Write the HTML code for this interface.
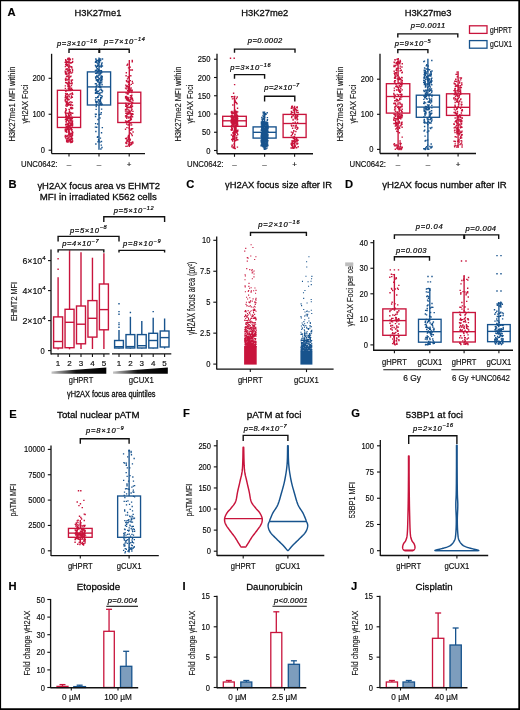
<!DOCTYPE html>
<html><head><meta charset="utf-8"><title>Figure</title>
<style>html,body{margin:0;padding:0;background:#fff;width:520px;height:710px;overflow:hidden}svg{display:block}text{filter:grayscale(1);stroke:#000;stroke-width:0.16px}text[font-style=italic]{stroke-width:0.22px}.tt{stroke-width:0.28px}.yl{fill:#1a1a1a;stroke:#1a1a1a;stroke-width:0.15px}</style>
</head><body>
<svg width="520" height="710" viewBox="0 0 520 710" font-family='"Liberation Sans", sans-serif' fill="#111111">
<rect x="0" y="0" width="520" height="710" fill="#fff"/>
<text x="7.4" y="15.8" font-size="11.2" font-weight="bold" fill="#000">A</text>
<text x="8.6" y="188" font-size="11.2" font-weight="bold" fill="#000">B</text>
<text x="186.2" y="188" font-size="11.2" font-weight="bold" fill="#000">C</text>
<text x="345" y="188" font-size="11.2" font-weight="bold" fill="#000">D</text>
<text x="9.3" y="417.6" font-size="11.2" font-weight="bold" fill="#000">E</text>
<text x="183" y="416.6" font-size="11.2" font-weight="bold" fill="#000">F</text>
<text x="351.2" y="416.6" font-size="11.2" font-weight="bold" fill="#000">G</text>
<text x="8.5" y="590.3" font-size="11.2" font-weight="bold" fill="#000">H</text>
<text x="182.6" y="590.3" font-size="11.2" font-weight="bold" fill="#000">I</text>
<text x="351" y="590.3" font-size="11.2" font-weight="bold" fill="#000">J</text>
<text x="97.9" y="16.4" font-size="9.4" text-anchor="middle" class="tt">H3K27me1</text>
<text x="264.8" y="16.4" font-size="9.4" text-anchor="middle" class="tt">H3K27me2</text>
<text x="428.1" y="16.4" font-size="9.4" text-anchor="middle" class="tt">H3K27me3</text>
<rect x="469.5" y="25.8" width="17.5" height="7.6" stroke="#c8143c" stroke-width="1.3" fill="none"/>
<rect x="469.5" y="40.6" width="17.5" height="7.6" stroke="#17538d" stroke-width="1.3" fill="none"/>
<text x="490" y="32.6" font-size="8.2" textLength="22" lengthAdjust="spacingAndGlyphs">gHPRT</text>
<text x="490" y="47.4" font-size="8.2" textLength="22" lengthAdjust="spacingAndGlyphs">gCUX1</text>
<line x1="51.6" y1="53.8" x2="51.6" y2="153.6" stroke="#111111" stroke-width="1.3"/>
<line x1="48.6" y1="150.2" x2="51.6" y2="150.2" stroke="#111111" stroke-width="1.1"/>
<text x="45" y="153.2" font-size="8.2" text-anchor="end" textLength="4.2" lengthAdjust="spacingAndGlyphs">0</text>
<line x1="48.6" y1="114.25" x2="51.6" y2="114.25" stroke="#111111" stroke-width="1.1"/>
<text x="45" y="117.25" font-size="8.2" text-anchor="end" textLength="12.59" lengthAdjust="spacingAndGlyphs">100</text>
<line x1="48.6" y1="78.3" x2="51.6" y2="78.3" stroke="#111111" stroke-width="1.1"/>
<text x="45" y="81.3" font-size="8.2" text-anchor="end" textLength="12.59" lengthAdjust="spacingAndGlyphs">200</text>
<line x1="51.6" y1="153.6" x2="145" y2="153.6" stroke="#111111" stroke-width="1.4"/>
<line x1="69" y1="153.6" x2="69" y2="156.6" stroke="#111111" stroke-width="1.1"/>
<line x1="99" y1="153.6" x2="99" y2="156.6" stroke="#111111" stroke-width="1.1"/>
<line x1="129.2" y1="153.6" x2="129.2" y2="156.6" stroke="#111111" stroke-width="1.1"/>
<text x="15.47" y="104" font-size="9.37" text-anchor="middle" textLength="75" lengthAdjust="spacingAndGlyphs" transform="rotate(-90 15.47 104)" class="yl">H3K27me1 MFI within</text>
<text x="28.17" y="104.2" font-size="9.37" text-anchor="middle" textLength="38.8" lengthAdjust="spacingAndGlyphs" transform="rotate(-90 28.17 104.2)" class="yl">γH2AX Foci</text>
<text x="21" y="166.9" font-size="8.9" textLength="36.4" lengthAdjust="spacingAndGlyphs">UNC0642:</text>
<text x="69" y="167.2" font-size="8" text-anchor="middle">–</text>
<text x="99" y="167.2" font-size="8" text-anchor="middle">–</text>
<text x="129.2" y="167.2" font-size="8" text-anchor="middle">+</text>
<path d="M66.96 61.7h1.4v1.4h-1.4zM69.45 59.15h1.4v1.4h-1.4zM68.57 68.68h1.4v1.4h-1.4zM64.94 73.29h1.4v1.4h-1.4zM64.78 70.89h1.4v1.4h-1.4zM65.03 59.75h1.4v1.4h-1.4zM67.73 83.67h1.4v1.4h-1.4zM65.44 64.06h1.4v1.4h-1.4zM69.27 87.6h1.4v1.4h-1.4zM68.89 69.69h1.4v1.4h-1.4zM71.92 58.31h1.4v1.4h-1.4zM71.02 66.21h1.4v1.4h-1.4zM65.6 60.63h1.4v1.4h-1.4zM66.84 83.32h1.4v1.4h-1.4zM65.87 75.7h1.4v1.4h-1.4zM69.36 68.9h1.4v1.4h-1.4zM68.66 58.84h1.4v1.4h-1.4zM64.95 63.49h1.4v1.4h-1.4zM69.67 70.7h1.4v1.4h-1.4zM66.89 75.83h1.4v1.4h-1.4zM67.94 66.54h1.4v1.4h-1.4zM70.54 79.52h1.4v1.4h-1.4zM66.36 75.47h1.4v1.4h-1.4zM68.49 85.24h1.4v1.4h-1.4zM70.04 66.16h1.4v1.4h-1.4zM71.95 60.64h1.4v1.4h-1.4zM67.68 81.41h1.4v1.4h-1.4zM65.66 72.69h1.4v1.4h-1.4zM64.8 78.52h1.4v1.4h-1.4zM70.31 75.42h1.4v1.4h-1.4zM71.15 67h1.4v1.4h-1.4zM69.78 76.12h1.4v1.4h-1.4zM68.91 71.63h1.4v1.4h-1.4zM70.88 87.5h1.4v1.4h-1.4zM68.1 78.38h1.4v1.4h-1.4zM64.96 79.6h1.4v1.4h-1.4zM69.42 89.08h1.4v1.4h-1.4zM70.75 66.05h1.4v1.4h-1.4zM67.43 78.53h1.4v1.4h-1.4zM64.67 71.81h1.4v1.4h-1.4zM65.78 60.61h1.4v1.4h-1.4zM64.95 81.77h1.4v1.4h-1.4zM65.48 64.85h1.4v1.4h-1.4zM67.47 85.12h1.4v1.4h-1.4zM65.11 71.4h1.4v1.4h-1.4zM68.68 85.51h1.4v1.4h-1.4zM70.73 84.88h1.4v1.4h-1.4zM66.62 70.3h1.4v1.4h-1.4zM67.23 85.54h1.4v1.4h-1.4zM71.78 61.7h1.4v1.4h-1.4zM65.84 64.34h1.4v1.4h-1.4zM66.27 72.56h1.4v1.4h-1.4zM68.98 65.34h1.4v1.4h-1.4zM64.53 70.42h1.4v1.4h-1.4zM67.31 75.21h1.4v1.4h-1.4zM71.74 79.24h1.4v1.4h-1.4zM68.42 76.87h1.4v1.4h-1.4zM69.64 58.55h1.4v1.4h-1.4zM71.34 82.15h1.4v1.4h-1.4zM71.15 82.73h1.4v1.4h-1.4zM67.48 69.77h1.4v1.4h-1.4zM65.29 77.41h1.4v1.4h-1.4zM64.97 58.99h1.4v1.4h-1.4zM66.09 62.07h1.4v1.4h-1.4zM67.08 58.51h1.4v1.4h-1.4zM64.5 61.72h1.4v1.4h-1.4zM65.27 68.62h1.4v1.4h-1.4zM64.69 85.22h1.4v1.4h-1.4zM69.17 61.63h1.4v1.4h-1.4zM66.42 68.09h1.4v1.4h-1.4zM67.27 60.79h1.4v1.4h-1.4zM70.95 89.08h1.4v1.4h-1.4zM68.04 72.52h1.4v1.4h-1.4zM65.15 60.12h1.4v1.4h-1.4zM67.1 65.4h1.4v1.4h-1.4zM70.8 62.05h1.4v1.4h-1.4zM64.68 87.71h1.4v1.4h-1.4zM68.51 61.56h1.4v1.4h-1.4zM68.63 57.68h1.4v1.4h-1.4zM68.51 88.6h1.4v1.4h-1.4zM71.06 79.43h1.4v1.4h-1.4zM66.48 68.72h1.4v1.4h-1.4zM65.77 81.89h1.4v1.4h-1.4zM68.55 82.12h1.4v1.4h-1.4zM67.01 64.05h1.4v1.4h-1.4zM70.67 88.81h1.4v1.4h-1.4zM70.98 83h1.4v1.4h-1.4zM70.72 80.85h1.4v1.4h-1.4zM66.22 73.62h1.4v1.4h-1.4zM67.2 57.74h1.4v1.4h-1.4zM64.71 65.88h1.4v1.4h-1.4zM66.47 79.31h1.4v1.4h-1.4zM71.77 71.33h1.4v1.4h-1.4zM71.62 88.91h1.4v1.4h-1.4zM71.76 68.65h1.4v1.4h-1.4zM66.18 64.17h1.4v1.4h-1.4zM65.99 63.44h1.4v1.4h-1.4zM69.24 86.06h1.4v1.4h-1.4zM70.89 72.38h1.4v1.4h-1.4zM69.46 82.79h1.4v1.4h-1.4zM65.14 78.27h1.4v1.4h-1.4zM71.41 82.22h1.4v1.4h-1.4zM70.2 72.34h1.4v1.4h-1.4zM65.86 82.45h1.4v1.4h-1.4zM67.03 82.83h1.4v1.4h-1.4zM71.88 69.66h1.4v1.4h-1.4zM67.55 87.57h1.4v1.4h-1.4zM70.01 62.33h1.4v1.4h-1.4zM65.47 61.71h1.4v1.4h-1.4zM71.38 83.01h1.4v1.4h-1.4zM65.61 112.44h1.4v1.4h-1.4zM71.95 107.7h1.4v1.4h-1.4zM67.16 104.66h1.4v1.4h-1.4zM65.5 89.7h1.4v1.4h-1.4zM71.88 107.49h1.4v1.4h-1.4zM68.5 115.44h1.4v1.4h-1.4zM67.8 113.71h1.4v1.4h-1.4zM70.78 95.21h1.4v1.4h-1.4zM66.41 97.5h1.4v1.4h-1.4zM66.33 105.72h1.4v1.4h-1.4zM66.47 101.03h1.4v1.4h-1.4zM65.5 114.78h1.4v1.4h-1.4zM67.19 102.13h1.4v1.4h-1.4zM68.93 114.62h1.4v1.4h-1.4zM67.7 115h1.4v1.4h-1.4zM68.31 104.19h1.4v1.4h-1.4zM68.48 89.82h1.4v1.4h-1.4zM67.84 94.43h1.4v1.4h-1.4zM64.53 111.68h1.4v1.4h-1.4zM65.81 102.56h1.4v1.4h-1.4zM70.01 104.88h1.4v1.4h-1.4zM66.98 103.81h1.4v1.4h-1.4zM68.72 111.26h1.4v1.4h-1.4zM65.31 104.99h1.4v1.4h-1.4zM66.39 97.05h1.4v1.4h-1.4zM70.37 103.52h1.4v1.4h-1.4zM68.77 110.58h1.4v1.4h-1.4zM71.43 101.71h1.4v1.4h-1.4zM69.16 103.46h1.4v1.4h-1.4zM68.39 108.7h1.4v1.4h-1.4zM67.94 104.23h1.4v1.4h-1.4zM68.13 115.66h1.4v1.4h-1.4zM69.81 113.84h1.4v1.4h-1.4zM71.66 96.57h1.4v1.4h-1.4zM68.75 115.71h1.4v1.4h-1.4zM70.88 93.14h1.4v1.4h-1.4zM65.42 101.68h1.4v1.4h-1.4zM65.05 96.04h1.4v1.4h-1.4zM65.06 108.05h1.4v1.4h-1.4zM70.46 114.42h1.4v1.4h-1.4zM65.67 109.35h1.4v1.4h-1.4zM69.52 93.3h1.4v1.4h-1.4zM71.21 116.39h1.4v1.4h-1.4zM66.17 115.97h1.4v1.4h-1.4zM67.53 102.94h1.4v1.4h-1.4zM72.02 112.61h1.4v1.4h-1.4zM65.73 101.38h1.4v1.4h-1.4zM68.42 98.8h1.4v1.4h-1.4zM65.99 98.22h1.4v1.4h-1.4zM69.99 89.85h1.4v1.4h-1.4zM68.71 101.63h1.4v1.4h-1.4zM64.64 98.58h1.4v1.4h-1.4zM69.24 103.64h1.4v1.4h-1.4zM64.99 116.88h1.4v1.4h-1.4zM70.49 116.51h1.4v1.4h-1.4zM65.3 96.74h1.4v1.4h-1.4zM64.8 111.11h1.4v1.4h-1.4zM66.56 92.93h1.4v1.4h-1.4zM67.71 114.82h1.4v1.4h-1.4zM70.72 96.54h1.4v1.4h-1.4zM65.64 115.04h1.4v1.4h-1.4zM68.84 108.91h1.4v1.4h-1.4zM65.18 90.91h1.4v1.4h-1.4zM69.73 101.21h1.4v1.4h-1.4zM65.05 115.57h1.4v1.4h-1.4zM69.32 111.75h1.4v1.4h-1.4zM65.14 113.27h1.4v1.4h-1.4zM65.01 113.46h1.4v1.4h-1.4zM67.95 98.8h1.4v1.4h-1.4zM68.7 115.25h1.4v1.4h-1.4zM66.54 92.92h1.4v1.4h-1.4zM68.5 95.98h1.4v1.4h-1.4zM65.33 93.82h1.4v1.4h-1.4zM64.88 94.95h1.4v1.4h-1.4zM66.87 97.84h1.4v1.4h-1.4zM70.27 97.42h1.4v1.4h-1.4zM68.3 94.28h1.4v1.4h-1.4zM67.14 89.81h1.4v1.4h-1.4zM66.4 89.73h1.4v1.4h-1.4zM70.07 104.73h1.4v1.4h-1.4zM65.94 102.59h1.4v1.4h-1.4zM71.6 92.28h1.4v1.4h-1.4zM70.72 101.4h1.4v1.4h-1.4zM68.26 112.67h1.4v1.4h-1.4zM67.49 103.49h1.4v1.4h-1.4zM69.73 116.81h1.4v1.4h-1.4zM67.1 112.6h1.4v1.4h-1.4zM69.87 107.11h1.4v1.4h-1.4zM67.58 99.03h1.4v1.4h-1.4zM64.91 92.93h1.4v1.4h-1.4zM65.04 110.04h1.4v1.4h-1.4zM66.44 93.87h1.4v1.4h-1.4zM65.14 112.86h1.4v1.4h-1.4zM71.12 108.08h1.4v1.4h-1.4zM66.64 96.08h1.4v1.4h-1.4zM66.73 102.16h1.4v1.4h-1.4zM65.7 101.78h1.4v1.4h-1.4zM66.5 116.23h1.4v1.4h-1.4zM71.89 104.62h1.4v1.4h-1.4zM66.36 116.34h1.4v1.4h-1.4zM66.85 99.28h1.4v1.4h-1.4zM64.51 99.99h1.4v1.4h-1.4zM68.11 103.38h1.4v1.4h-1.4zM66.03 103.43h1.4v1.4h-1.4zM64.54 96.7h1.4v1.4h-1.4zM65.18 100.49h1.4v1.4h-1.4zM64.82 89.93h1.4v1.4h-1.4zM66.81 95.82h1.4v1.4h-1.4zM68.95 104.12h1.4v1.4h-1.4zM70.2 107.71h1.4v1.4h-1.4zM69.94 113.91h1.4v1.4h-1.4zM67.46 98.43h1.4v1.4h-1.4zM71.98 93.48h1.4v1.4h-1.4zM70 107.31h1.4v1.4h-1.4zM64.83 112.69h1.4v1.4h-1.4zM71.28 106.87h1.4v1.4h-1.4zM70.08 112.04h1.4v1.4h-1.4zM65.56 103.97h1.4v1.4h-1.4zM68.33 112.68h1.4v1.4h-1.4zM70.62 112.44h1.4v1.4h-1.4zM68.94 139.17h1.4v1.4h-1.4zM69.69 134.29h1.4v1.4h-1.4zM66.25 118.06h1.4v1.4h-1.4zM65.51 126.14h1.4v1.4h-1.4zM65.3 137.78h1.4v1.4h-1.4zM68.74 132.68h1.4v1.4h-1.4zM69.26 133.98h1.4v1.4h-1.4zM68.22 117.38h1.4v1.4h-1.4zM70.56 135.63h1.4v1.4h-1.4zM68.32 130.41h1.4v1.4h-1.4zM69.51 118.92h1.4v1.4h-1.4zM70.1 123.48h1.4v1.4h-1.4zM65.07 123.81h1.4v1.4h-1.4zM70.04 122.33h1.4v1.4h-1.4zM70.12 141.21h1.4v1.4h-1.4zM68.25 126.67h1.4v1.4h-1.4zM68.14 134.05h1.4v1.4h-1.4zM70.33 132.42h1.4v1.4h-1.4zM69.38 119.2h1.4v1.4h-1.4zM65.62 123.52h1.4v1.4h-1.4zM70.15 124.76h1.4v1.4h-1.4zM68.81 117.61h1.4v1.4h-1.4zM64.96 123.88h1.4v1.4h-1.4zM69.61 134.26h1.4v1.4h-1.4zM69.64 124.43h1.4v1.4h-1.4zM68.43 128.68h1.4v1.4h-1.4zM68.04 120.2h1.4v1.4h-1.4zM71.29 122.18h1.4v1.4h-1.4zM71.93 140.24h1.4v1.4h-1.4zM64.63 128.54h1.4v1.4h-1.4zM70.73 141.02h1.4v1.4h-1.4zM67.92 123.88h1.4v1.4h-1.4zM66.09 140.47h1.4v1.4h-1.4zM66.1 131.55h1.4v1.4h-1.4zM65.58 130.14h1.4v1.4h-1.4zM71.74 120.55h1.4v1.4h-1.4zM70.73 129.76h1.4v1.4h-1.4zM71.24 134.53h1.4v1.4h-1.4zM66.26 139.29h1.4v1.4h-1.4zM68.19 117.91h1.4v1.4h-1.4zM64.53 129.35h1.4v1.4h-1.4zM67.93 124.7h1.4v1.4h-1.4zM65.57 125.73h1.4v1.4h-1.4zM66.9 137.89h1.4v1.4h-1.4zM64.51 135.69h1.4v1.4h-1.4zM70.88 120.24h1.4v1.4h-1.4zM71.54 134.77h1.4v1.4h-1.4zM71.35 124.4h1.4v1.4h-1.4zM67.33 126.93h1.4v1.4h-1.4zM72.09 131.73h1.4v1.4h-1.4zM67.24 127.79h1.4v1.4h-1.4zM66.59 118.48h1.4v1.4h-1.4zM65.27 137.75h1.4v1.4h-1.4zM66.67 140.22h1.4v1.4h-1.4zM66.39 123.81h1.4v1.4h-1.4zM68.38 121.95h1.4v1.4h-1.4zM67.34 140.73h1.4v1.4h-1.4zM71.22 137.19h1.4v1.4h-1.4zM69.29 139.68h1.4v1.4h-1.4zM71.65 130.76h1.4v1.4h-1.4zM69.97 118.51h1.4v1.4h-1.4zM70.07 128.35h1.4v1.4h-1.4zM70.22 133.09h1.4v1.4h-1.4zM66.68 118.5h1.4v1.4h-1.4zM71.54 120.42h1.4v1.4h-1.4zM68.09 125.72h1.4v1.4h-1.4zM66.76 135.41h1.4v1.4h-1.4zM71.92 123.67h1.4v1.4h-1.4zM69.49 124.67h1.4v1.4h-1.4zM68.74 126.96h1.4v1.4h-1.4zM65.77 121.26h1.4v1.4h-1.4zM66.08 139.5h1.4v1.4h-1.4zM68.28 122.69h1.4v1.4h-1.4zM71.39 141.71h1.4v1.4h-1.4zM67.92 120.72h1.4v1.4h-1.4zM65.96 119.52h1.4v1.4h-1.4zM67.1 119.53h1.4v1.4h-1.4zM66.32 123.63h1.4v1.4h-1.4zM68.83 139.04h1.4v1.4h-1.4zM70.2 127.41h1.4v1.4h-1.4zM67.65 130.14h1.4v1.4h-1.4zM67.36 125.59h1.4v1.4h-1.4zM64.97 124.1h1.4v1.4h-1.4zM71.85 120.38h1.4v1.4h-1.4zM68.33 132.73h1.4v1.4h-1.4zM71.06 122.59h1.4v1.4h-1.4zM66.56 123.39h1.4v1.4h-1.4zM67.54 128.22h1.4v1.4h-1.4zM71.75 138.09h1.4v1.4h-1.4zM71.13 117.83h1.4v1.4h-1.4zM64.75 134.68h1.4v1.4h-1.4zM71.31 128.9h1.4v1.4h-1.4zM68.96 117.3h1.4v1.4h-1.4zM67.48 140.01h1.4v1.4h-1.4zM70.77 138.26h1.4v1.4h-1.4zM71.89 123.39h1.4v1.4h-1.4zM65.33 121.08h1.4v1.4h-1.4zM68.47 134.01h1.4v1.4h-1.4zM71.66 134.98h1.4v1.4h-1.4zM69.42 136.04h1.4v1.4h-1.4zM67.98 130.81h1.4v1.4h-1.4zM64.8 136.47h1.4v1.4h-1.4zM66.27 139.84h1.4v1.4h-1.4zM69.41 124.74h1.4v1.4h-1.4zM65.47 123.47h1.4v1.4h-1.4zM69.34 134.42h1.4v1.4h-1.4zM65.35 119.02h1.4v1.4h-1.4zM68.49 131.58h1.4v1.4h-1.4zM67.45 122.78h1.4v1.4h-1.4zM69.07 117.56h1.4v1.4h-1.4zM66.79 128.59h1.4v1.4h-1.4zM71.79 133.09h1.4v1.4h-1.4zM71.22 128.94h1.4v1.4h-1.4zM66.28 123.35h1.4v1.4h-1.4zM71.8 134.56h1.4v1.4h-1.4zM66.84 117.83h1.4v1.4h-1.4zM68.29 133.82h1.4v1.4h-1.4zM67.69 123.6h1.4v1.4h-1.4zM69.57 139.97h1.4v1.4h-1.4zM66.22 118.14h1.4v1.4h-1.4zM67.07 127.6h1.4v1.4h-1.4zM69.69 122.15h1.4v1.4h-1.4zM70.56 135.41h1.4v1.4h-1.4zM68.34 122.33h1.4v1.4h-1.4zM71.87 124.94h1.4v1.4h-1.4zM70.73 122.95h1.4v1.4h-1.4zM66.18 135.93h1.4v1.4h-1.4zM66.74 140.62h1.4v1.4h-1.4zM68.27 121.89h1.4v1.4h-1.4zM66.2 127.52h1.4v1.4h-1.4zM69.56 140.54h1.4v1.4h-1.4zM65.61 126.94h1.4v1.4h-1.4zM66.12 141.17h1.4v1.4h-1.4zM65.58 118.57h1.4v1.4h-1.4zM64.96 126.94h1.4v1.4h-1.4zM71.33 138.95h1.4v1.4h-1.4zM70.07 141.74h1.4v1.4h-1.4zM71.58 125.37h1.4v1.4h-1.4zM65.91 140.23h1.4v1.4h-1.4zM70.17 118.08h1.4v1.4h-1.4zM69.55 126.58h1.4v1.4h-1.4zM67.34 125.43h1.4v1.4h-1.4zM65.79 117.37h1.4v1.4h-1.4zM66.63 125.91h1.4v1.4h-1.4zM71.76 120.33h1.4v1.4h-1.4zM71.83 122.38h1.4v1.4h-1.4zM67.21 137.43h1.4v1.4h-1.4zM70.75 127.9h1.4v1.4h-1.4zM64.87 128.9h1.4v1.4h-1.4zM67.33 139.83h1.4v1.4h-1.4zM65.97 126.22h1.4v1.4h-1.4zM71.32 118.04h1.4v1.4h-1.4zM67.62 137.19h1.4v1.4h-1.4zM70.33 118.3h1.4v1.4h-1.4zM64.76 118.83h1.4v1.4h-1.4zM71.49 123.6h1.4v1.4h-1.4zM70.18 139.31h1.4v1.4h-1.4zM67.08 123.97h1.4v1.4h-1.4zM71.78 132.42h1.4v1.4h-1.4zM66.49 134.86h1.4v1.4h-1.4zM66.91 124.05h1.4v1.4h-1.4zM64.53 135.81h1.4v1.4h-1.4zM71.47 132.83h1.4v1.4h-1.4zM71.67 117.89h1.4v1.4h-1.4zM66.28 128.94h1.4v1.4h-1.4zM71.77 140.67h1.4v1.4h-1.4zM67.44 123.45h1.4v1.4h-1.4zM67.77 129.39h1.4v1.4h-1.4zM71.55 121.78h1.4v1.4h-1.4zM70.6 135.39h1.4v1.4h-1.4zM70.75 136.23h1.4v1.4h-1.4zM69.12 125.33h1.4v1.4h-1.4zM66.93 126.17h1.4v1.4h-1.4zM70.45 119.24h1.4v1.4h-1.4zM66 135.75h1.4v1.4h-1.4zM66.38 118.89h1.4v1.4h-1.4zM64.76 130.84h1.4v1.4h-1.4zM66.98 141.32h1.4v1.4h-1.4zM71.21 141.5h1.4v1.4h-1.4zM66.51 119.36h1.4v1.4h-1.4zM65.23 129.51h1.4v1.4h-1.4zM69.89 128.25h1.4v1.4h-1.4zM66.28 127.51h1.4v1.4h-1.4zM69.21 133.82h1.4v1.4h-1.4zM70.18 138.05h1.4v1.4h-1.4zM69.55 120.27h1.4v1.4h-1.4zM70.89 124.5h1.4v1.4h-1.4zM68.81 126.44h1.4v1.4h-1.4zM70.11 122.18h1.4v1.4h-1.4zM66.38 123.31h1.4v1.4h-1.4z" fill="#c8143c"/>
<line x1="69" y1="57.5" x2="69" y2="90.3" stroke="#c8143c" stroke-width="1.35"/>
<line x1="69" y1="127.5" x2="69" y2="142.5" stroke="#c8143c" stroke-width="1.35"/>
<rect x="57.4" y="90.3" width="23.2" height="37.2" stroke="#c8143c" stroke-width="1.35" fill="none"/>
<line x1="57.4" y1="117.3" x2="80.6" y2="117.3" stroke="#c8143c" stroke-width="1.35"/>
<path d="M95.8 69.62h1.4v1.4h-1.4zM98.86 61.53h1.4v1.4h-1.4zM97.55 71.19h1.4v1.4h-1.4zM98.35 60.16h1.4v1.4h-1.4zM100.52 66.27h1.4v1.4h-1.4zM101.83 58.28h1.4v1.4h-1.4zM98.12 68.68h1.4v1.4h-1.4zM100.75 70.06h1.4v1.4h-1.4zM94.99 61.06h1.4v1.4h-1.4zM95.56 59.55h1.4v1.4h-1.4zM101.71 65.26h1.4v1.4h-1.4zM101.4 62.2h1.4v1.4h-1.4zM100.94 63.31h1.4v1.4h-1.4zM96.57 68.08h1.4v1.4h-1.4zM101.51 58.33h1.4v1.4h-1.4zM98.99 65.79h1.4v1.4h-1.4zM96.27 62.15h1.4v1.4h-1.4zM95.72 59.76h1.4v1.4h-1.4zM96.54 65.49h1.4v1.4h-1.4zM99.39 59.75h1.4v1.4h-1.4zM94.78 61.55h1.4v1.4h-1.4zM99.58 59.48h1.4v1.4h-1.4zM96.95 59.75h1.4v1.4h-1.4zM100.43 64.75h1.4v1.4h-1.4zM95.16 58.27h1.4v1.4h-1.4zM97.55 64.78h1.4v1.4h-1.4zM99.3 58.12h1.4v1.4h-1.4zM95.88 66.88h1.4v1.4h-1.4zM97.65 60.91h1.4v1.4h-1.4zM96.91 70.62h1.4v1.4h-1.4zM96.95 65.01h1.4v1.4h-1.4zM97.27 62.84h1.4v1.4h-1.4zM100.92 71.25h1.4v1.4h-1.4zM97.32 59.66h1.4v1.4h-1.4zM99.94 59.75h1.4v1.4h-1.4zM94.74 69.87h1.4v1.4h-1.4zM97.75 68.7h1.4v1.4h-1.4zM97.62 69.6h1.4v1.4h-1.4zM98.02 59.16h1.4v1.4h-1.4zM94.81 64.8h1.4v1.4h-1.4zM99.31 69.99h1.4v1.4h-1.4zM95.34 65.82h1.4v1.4h-1.4zM97.37 64.11h1.4v1.4h-1.4zM95.75 60.91h1.4v1.4h-1.4zM98.45 70.22h1.4v1.4h-1.4zM95.48 87.49h1.4v1.4h-1.4zM100.49 103.21h1.4v1.4h-1.4zM96.12 75.48h1.4v1.4h-1.4zM101.49 103.49h1.4v1.4h-1.4zM98.18 73.06h1.4v1.4h-1.4zM101.37 84.1h1.4v1.4h-1.4zM101.21 91.77h1.4v1.4h-1.4zM100.64 76.59h1.4v1.4h-1.4zM100.36 78.63h1.4v1.4h-1.4zM97.61 99.23h1.4v1.4h-1.4zM100.67 77.34h1.4v1.4h-1.4zM96.27 84.49h1.4v1.4h-1.4zM98.43 83.96h1.4v1.4h-1.4zM95.59 79.45h1.4v1.4h-1.4zM99.92 100.91h1.4v1.4h-1.4zM95 89.86h1.4v1.4h-1.4zM100.15 72.56h1.4v1.4h-1.4zM100.74 75.19h1.4v1.4h-1.4zM99.02 89.45h1.4v1.4h-1.4zM99.21 81.41h1.4v1.4h-1.4zM97.72 90.53h1.4v1.4h-1.4zM97.77 93.04h1.4v1.4h-1.4zM97.92 85.77h1.4v1.4h-1.4zM94.87 91.72h1.4v1.4h-1.4zM98.22 79.06h1.4v1.4h-1.4zM100.2 97.04h1.4v1.4h-1.4zM98 77.23h1.4v1.4h-1.4zM98.11 74.83h1.4v1.4h-1.4zM95.62 85.51h1.4v1.4h-1.4zM95.36 85.88h1.4v1.4h-1.4zM98.37 72.65h1.4v1.4h-1.4zM99.28 74.01h1.4v1.4h-1.4zM99.98 96.96h1.4v1.4h-1.4zM98.38 73.09h1.4v1.4h-1.4zM98.33 83.77h1.4v1.4h-1.4zM101.55 75.79h1.4v1.4h-1.4zM100.87 104.17h1.4v1.4h-1.4zM99.97 98.19h1.4v1.4h-1.4zM96.09 103.7h1.4v1.4h-1.4zM98.24 102.87h1.4v1.4h-1.4zM101.3 76.75h1.4v1.4h-1.4zM100.38 102.01h1.4v1.4h-1.4zM95.17 82.88h1.4v1.4h-1.4zM100.14 76.54h1.4v1.4h-1.4zM101.16 80.37h1.4v1.4h-1.4zM100.57 76.04h1.4v1.4h-1.4zM98.32 101.66h1.4v1.4h-1.4zM96.2 79.97h1.4v1.4h-1.4zM98.34 81.83h1.4v1.4h-1.4zM94.97 77.31h1.4v1.4h-1.4zM95.86 102.2h1.4v1.4h-1.4zM99.59 100.85h1.4v1.4h-1.4zM95.91 97.2h1.4v1.4h-1.4zM95.53 88.81h1.4v1.4h-1.4zM99.28 83.17h1.4v1.4h-1.4zM100.99 89.62h1.4v1.4h-1.4zM98.88 100.42h1.4v1.4h-1.4zM95.45 104.07h1.4v1.4h-1.4zM99.23 84.31h1.4v1.4h-1.4zM100.44 80.04h1.4v1.4h-1.4zM101.83 90.35h1.4v1.4h-1.4zM97.29 96.53h1.4v1.4h-1.4zM97.88 77.13h1.4v1.4h-1.4zM100.05 72.89h1.4v1.4h-1.4zM100.6 79.67h1.4v1.4h-1.4zM99.3 103.77h1.4v1.4h-1.4zM98.92 93.2h1.4v1.4h-1.4zM96.95 71.36h1.4v1.4h-1.4zM94.94 76.23h1.4v1.4h-1.4zM99.14 85.56h1.4v1.4h-1.4zM98.39 100.85h1.4v1.4h-1.4zM95.65 78.8h1.4v1.4h-1.4zM99.4 72.04h1.4v1.4h-1.4zM94.72 83.01h1.4v1.4h-1.4zM95.47 83.09h1.4v1.4h-1.4zM96.31 90.56h1.4v1.4h-1.4zM98.94 78.04h1.4v1.4h-1.4zM99.19 86.97h1.4v1.4h-1.4zM95.67 102.21h1.4v1.4h-1.4zM96.45 76.23h1.4v1.4h-1.4zM95.39 92.36h1.4v1.4h-1.4zM100.97 97.11h1.4v1.4h-1.4zM97.59 80.02h1.4v1.4h-1.4zM94.78 92.58h1.4v1.4h-1.4zM98.75 82.86h1.4v1.4h-1.4zM99.35 85.94h1.4v1.4h-1.4zM101.45 95.51h1.4v1.4h-1.4zM96.49 101.12h1.4v1.4h-1.4zM95.02 88.84h1.4v1.4h-1.4zM97.62 79.14h1.4v1.4h-1.4zM95.12 97h1.4v1.4h-1.4zM94.79 89.48h1.4v1.4h-1.4zM101.47 75.99h1.4v1.4h-1.4zM96.14 91.37h1.4v1.4h-1.4zM98.35 92.47h1.4v1.4h-1.4zM100.56 77.06h1.4v1.4h-1.4zM96.93 81.21h1.4v1.4h-1.4zM95.05 100.65h1.4v1.4h-1.4zM100.34 94.91h1.4v1.4h-1.4zM94.75 99.17h1.4v1.4h-1.4zM100.07 86.65h1.4v1.4h-1.4zM100.04 86.23h1.4v1.4h-1.4zM96.33 74.77h1.4v1.4h-1.4zM96.37 72.58h1.4v1.4h-1.4zM97.12 96.04h1.4v1.4h-1.4zM99.7 99.2h1.4v1.4h-1.4zM99.82 80.08h1.4v1.4h-1.4zM98.69 85.69h1.4v1.4h-1.4zM100.38 88.57h1.4v1.4h-1.4zM96.61 92.49h1.4v1.4h-1.4zM101.65 78.46h1.4v1.4h-1.4zM101.04 71.8h1.4v1.4h-1.4zM96.57 79.09h1.4v1.4h-1.4zM100.06 102.48h1.4v1.4h-1.4zM100.07 82.09h1.4v1.4h-1.4zM101.04 82.14h1.4v1.4h-1.4zM96.42 101.25h1.4v1.4h-1.4zM99.24 94.16h1.4v1.4h-1.4zM99.49 103.61h1.4v1.4h-1.4zM98.08 99.01h1.4v1.4h-1.4zM99.72 99.6h1.4v1.4h-1.4zM97.85 95.21h1.4v1.4h-1.4zM98.81 81.46h1.4v1.4h-1.4zM96.23 91.85h1.4v1.4h-1.4zM95.26 101.36h1.4v1.4h-1.4zM95.74 72.19h1.4v1.4h-1.4zM95.47 101.96h1.4v1.4h-1.4zM97.18 75.98h1.4v1.4h-1.4zM94.91 72.67h1.4v1.4h-1.4zM99.69 92.22h1.4v1.4h-1.4zM99.72 137.46h1.4v1.4h-1.4zM95.17 130.87h1.4v1.4h-1.4zM97.32 141.09h1.4v1.4h-1.4zM100.6 144.41h1.4v1.4h-1.4zM95.17 143.35h1.4v1.4h-1.4zM101.28 146.79h1.4v1.4h-1.4zM95.47 113.56h1.4v1.4h-1.4zM95.51 105.85h1.4v1.4h-1.4zM100.8 140.84h1.4v1.4h-1.4zM99.27 141.43h1.4v1.4h-1.4zM99.25 117.23h1.4v1.4h-1.4zM95.42 108.7h1.4v1.4h-1.4zM100.15 113.52h1.4v1.4h-1.4zM97 123.37h1.4v1.4h-1.4zM94.85 115.85h1.4v1.4h-1.4zM96.73 136.51h1.4v1.4h-1.4zM97.35 118.74h1.4v1.4h-1.4zM101.64 126.97h1.4v1.4h-1.4zM100.83 132.12h1.4v1.4h-1.4zM94.92 122.88h1.4v1.4h-1.4zM97.84 139.09h1.4v1.4h-1.4zM97.2 136.01h1.4v1.4h-1.4zM98.57 114.05h1.4v1.4h-1.4zM100.91 108.39h1.4v1.4h-1.4zM100.6 111.97h1.4v1.4h-1.4zM94.71 113.39h1.4v1.4h-1.4zM100.19 148.3h1.4v1.4h-1.4zM94.73 126.39h1.4v1.4h-1.4zM98.24 140.15h1.4v1.4h-1.4zM96.03 126.56h1.4v1.4h-1.4z" fill="#17538d"/>
<line x1="99" y1="57.5" x2="99" y2="71.9" stroke="#17538d" stroke-width="1.35"/>
<line x1="99" y1="105" x2="99" y2="149.8" stroke="#17538d" stroke-width="1.35"/>
<rect x="87.4" y="71.9" width="23.2" height="33.1" stroke="#17538d" stroke-width="1.35" fill="none"/>
<line x1="87.4" y1="86.9" x2="110.6" y2="86.9" stroke="#17538d" stroke-width="1.35"/>
<path d="M127.44 75.94h1.4v1.4h-1.4zM126.78 78.18h1.4v1.4h-1.4zM126.96 63.59h1.4v1.4h-1.4zM130.12 69.27h1.4v1.4h-1.4zM125.64 72.03h1.4v1.4h-1.4zM125.41 75.06h1.4v1.4h-1.4zM130.1 75.04h1.4v1.4h-1.4zM129.57 66.41h1.4v1.4h-1.4zM127.85 67.19h1.4v1.4h-1.4zM131.57 61.02h1.4v1.4h-1.4zM131.55 59.8h1.4v1.4h-1.4zM126.37 64.56h1.4v1.4h-1.4zM131.65 69.32h1.4v1.4h-1.4zM127.68 76.98h1.4v1.4h-1.4zM126.58 99.12h1.4v1.4h-1.4zM128.84 111.74h1.4v1.4h-1.4zM130.52 107.09h1.4v1.4h-1.4zM127.45 93.35h1.4v1.4h-1.4zM125.98 115.55h1.4v1.4h-1.4zM129.83 111.21h1.4v1.4h-1.4zM126.09 98.17h1.4v1.4h-1.4zM130.68 104.2h1.4v1.4h-1.4zM125.76 99.17h1.4v1.4h-1.4zM131.53 89.53h1.4v1.4h-1.4zM126.26 92.26h1.4v1.4h-1.4zM130.14 115.58h1.4v1.4h-1.4zM125.97 86.01h1.4v1.4h-1.4zM126.68 93.34h1.4v1.4h-1.4zM128.77 86.22h1.4v1.4h-1.4zM127.29 87.44h1.4v1.4h-1.4zM132.21 110.64h1.4v1.4h-1.4zM125.57 120.68h1.4v1.4h-1.4zM125.57 95.82h1.4v1.4h-1.4zM132.28 113.48h1.4v1.4h-1.4zM130.37 98h1.4v1.4h-1.4zM126.29 106.73h1.4v1.4h-1.4zM125.61 88.18h1.4v1.4h-1.4zM127.75 80.76h1.4v1.4h-1.4zM127.83 113.31h1.4v1.4h-1.4zM130.07 100.82h1.4v1.4h-1.4zM129.61 99.22h1.4v1.4h-1.4zM125.88 105.26h1.4v1.4h-1.4zM127.88 111.16h1.4v1.4h-1.4zM131.7 97.79h1.4v1.4h-1.4zM129.16 111.51h1.4v1.4h-1.4zM128 89.13h1.4v1.4h-1.4zM130.29 117.14h1.4v1.4h-1.4zM130.68 109.4h1.4v1.4h-1.4zM131.28 108.52h1.4v1.4h-1.4zM129.68 98.82h1.4v1.4h-1.4zM127.18 106.32h1.4v1.4h-1.4zM125.54 97.34h1.4v1.4h-1.4zM130.75 109.97h1.4v1.4h-1.4zM129.59 90.05h1.4v1.4h-1.4zM128.02 98.87h1.4v1.4h-1.4zM129.52 96.9h1.4v1.4h-1.4zM129.93 119.3h1.4v1.4h-1.4zM126.19 107.44h1.4v1.4h-1.4zM130.71 96.01h1.4v1.4h-1.4zM128.52 121.21h1.4v1.4h-1.4zM125.09 102.66h1.4v1.4h-1.4zM126.02 112.92h1.4v1.4h-1.4zM131.95 101.63h1.4v1.4h-1.4zM125.57 104.01h1.4v1.4h-1.4zM128.91 110.14h1.4v1.4h-1.4zM128.69 106.79h1.4v1.4h-1.4zM131.1 101.73h1.4v1.4h-1.4zM127.92 120.06h1.4v1.4h-1.4zM126.4 108.73h1.4v1.4h-1.4zM127.78 112.1h1.4v1.4h-1.4zM125.73 121.63h1.4v1.4h-1.4zM127.5 81.73h1.4v1.4h-1.4zM126.89 96.49h1.4v1.4h-1.4zM124.9 97.3h1.4v1.4h-1.4zM128 109.32h1.4v1.4h-1.4zM127.48 90.7h1.4v1.4h-1.4zM126.51 111.18h1.4v1.4h-1.4zM131.94 101.96h1.4v1.4h-1.4zM126.46 113.76h1.4v1.4h-1.4zM127.78 88.42h1.4v1.4h-1.4zM125.78 112.69h1.4v1.4h-1.4zM130.95 106.57h1.4v1.4h-1.4zM128.37 103.47h1.4v1.4h-1.4zM126.52 120.75h1.4v1.4h-1.4zM127.48 106.77h1.4v1.4h-1.4zM131.02 114.4h1.4v1.4h-1.4zM128.36 91.96h1.4v1.4h-1.4zM128.97 84.68h1.4v1.4h-1.4zM131.14 94.55h1.4v1.4h-1.4zM131.27 90.8h1.4v1.4h-1.4zM127.66 90.2h1.4v1.4h-1.4zM128.04 87.29h1.4v1.4h-1.4zM124.82 110.34h1.4v1.4h-1.4zM126.94 89.83h1.4v1.4h-1.4zM127.09 99.92h1.4v1.4h-1.4zM128.06 106.7h1.4v1.4h-1.4zM129.81 94.88h1.4v1.4h-1.4zM131.86 116.04h1.4v1.4h-1.4zM125.23 114.9h1.4v1.4h-1.4zM131.68 113.01h1.4v1.4h-1.4zM125.87 115.05h1.4v1.4h-1.4zM129.61 79.94h1.4v1.4h-1.4zM124.89 120.23h1.4v1.4h-1.4zM129.79 90.05h1.4v1.4h-1.4zM125.57 85.44h1.4v1.4h-1.4zM126.58 112.68h1.4v1.4h-1.4zM127.43 85.86h1.4v1.4h-1.4zM131.67 113.34h1.4v1.4h-1.4zM126.08 117.62h1.4v1.4h-1.4zM129.42 112.9h1.4v1.4h-1.4zM129.88 117.74h1.4v1.4h-1.4zM130.79 115.37h1.4v1.4h-1.4zM126.3 109.09h1.4v1.4h-1.4zM128.83 111.2h1.4v1.4h-1.4zM128.13 117.26h1.4v1.4h-1.4zM129.02 90.67h1.4v1.4h-1.4zM126.58 85.29h1.4v1.4h-1.4zM128.55 81.81h1.4v1.4h-1.4zM128.35 85.51h1.4v1.4h-1.4zM128.53 100.72h1.4v1.4h-1.4zM128.9 116.4h1.4v1.4h-1.4zM124.85 115.45h1.4v1.4h-1.4zM128.36 103.49h1.4v1.4h-1.4zM129.86 115.44h1.4v1.4h-1.4zM127.65 97.31h1.4v1.4h-1.4zM132.1 82.54h1.4v1.4h-1.4zM129.64 106.65h1.4v1.4h-1.4zM125.02 105.52h1.4v1.4h-1.4zM129.99 119.35h1.4v1.4h-1.4zM127.31 121.51h1.4v1.4h-1.4zM128.68 100.14h1.4v1.4h-1.4zM131.62 80.76h1.4v1.4h-1.4zM130.26 106.19h1.4v1.4h-1.4zM127.37 116.35h1.4v1.4h-1.4zM127.58 99.7h1.4v1.4h-1.4zM128.79 112.43h1.4v1.4h-1.4zM126.4 98.01h1.4v1.4h-1.4zM128.01 103.12h1.4v1.4h-1.4zM131.08 91.89h1.4v1.4h-1.4zM131.09 96.66h1.4v1.4h-1.4zM128.63 90.98h1.4v1.4h-1.4zM128.65 121.22h1.4v1.4h-1.4zM129.77 113.35h1.4v1.4h-1.4zM127.31 92.94h1.4v1.4h-1.4zM127.07 104.52h1.4v1.4h-1.4zM129.62 113.02h1.4v1.4h-1.4zM125.1 110.38h1.4v1.4h-1.4zM131.53 102.75h1.4v1.4h-1.4zM125.18 92.22h1.4v1.4h-1.4zM124.85 87.47h1.4v1.4h-1.4zM131.8 105.47h1.4v1.4h-1.4zM129.8 113.23h1.4v1.4h-1.4zM131.71 105.6h1.4v1.4h-1.4zM129.49 106.25h1.4v1.4h-1.4zM130.09 104.94h1.4v1.4h-1.4zM129.98 88.44h1.4v1.4h-1.4zM129.87 98.99h1.4v1.4h-1.4zM130.6 83.66h1.4v1.4h-1.4zM126.18 80.89h1.4v1.4h-1.4zM130.69 118.61h1.4v1.4h-1.4zM129.78 95.16h1.4v1.4h-1.4zM131.05 113.12h1.4v1.4h-1.4zM129.07 90.39h1.4v1.4h-1.4zM127.1 97.44h1.4v1.4h-1.4zM127.22 97.82h1.4v1.4h-1.4zM129.68 119.46h1.4v1.4h-1.4zM125.22 103.7h1.4v1.4h-1.4zM125.1 84.41h1.4v1.4h-1.4zM130.96 104.04h1.4v1.4h-1.4zM131.78 98.5h1.4v1.4h-1.4zM124.91 95.95h1.4v1.4h-1.4zM129.3 119.62h1.4v1.4h-1.4zM132.25 99.74h1.4v1.4h-1.4zM127.93 83.69h1.4v1.4h-1.4zM129.7 88.43h1.4v1.4h-1.4zM125.95 79.97h1.4v1.4h-1.4zM124.84 108.7h1.4v1.4h-1.4zM125.72 120.85h1.4v1.4h-1.4zM125.47 116.69h1.4v1.4h-1.4zM125.78 80.06h1.4v1.4h-1.4zM130.27 89.72h1.4v1.4h-1.4zM130.38 87.36h1.4v1.4h-1.4zM125.18 112.58h1.4v1.4h-1.4zM130.22 116.09h1.4v1.4h-1.4zM130.35 124.32h1.4v1.4h-1.4zM129.58 139.32h1.4v1.4h-1.4zM128.3 144.68h1.4v1.4h-1.4zM126.73 145.44h1.4v1.4h-1.4zM130.25 122.57h1.4v1.4h-1.4zM124.91 137.92h1.4v1.4h-1.4zM131.01 124.21h1.4v1.4h-1.4zM127.16 139.81h1.4v1.4h-1.4zM126.06 142.96h1.4v1.4h-1.4zM128.5 123.73h1.4v1.4h-1.4zM127.59 136.1h1.4v1.4h-1.4zM128.13 138.55h1.4v1.4h-1.4zM125.9 141.44h1.4v1.4h-1.4zM127.56 137.78h1.4v1.4h-1.4zM129.59 132.33h1.4v1.4h-1.4zM127.73 141.17h1.4v1.4h-1.4zM131.98 141.13h1.4v1.4h-1.4zM129.11 129.32h1.4v1.4h-1.4zM125.26 145.67h1.4v1.4h-1.4zM130.14 142.16h1.4v1.4h-1.4zM127.32 136.84h1.4v1.4h-1.4zM132.23 142.25h1.4v1.4h-1.4zM129.37 129.71h1.4v1.4h-1.4zM128.06 143.61h1.4v1.4h-1.4zM127.66 138.74h1.4v1.4h-1.4zM129.37 143.81h1.4v1.4h-1.4zM130.94 129.1h1.4v1.4h-1.4zM124.81 128.61h1.4v1.4h-1.4zM128.01 136.38h1.4v1.4h-1.4zM131 143.6h1.4v1.4h-1.4zM125.12 142.3h1.4v1.4h-1.4zM130.97 143.11h1.4v1.4h-1.4zM129.15 128.87h1.4v1.4h-1.4zM131.27 141.67h1.4v1.4h-1.4zM130 144.23h1.4v1.4h-1.4zM127.44 124.34h1.4v1.4h-1.4zM129.01 141.44h1.4v1.4h-1.4zM126.32 140.3h1.4v1.4h-1.4zM131.88 127.92h1.4v1.4h-1.4zM129.41 138.56h1.4v1.4h-1.4zM128.34 127.26h1.4v1.4h-1.4zM126.74 140.33h1.4v1.4h-1.4zM130.82 133.33h1.4v1.4h-1.4zM125.47 141.66h1.4v1.4h-1.4zM130.67 127.89h1.4v1.4h-1.4zM129.2 143.83h1.4v1.4h-1.4zM131.53 134.82h1.4v1.4h-1.4zM128.42 136.44h1.4v1.4h-1.4zM126.24 126.92h1.4v1.4h-1.4zM126.17 139.13h1.4v1.4h-1.4zM127.56 135.85h1.4v1.4h-1.4zM127.86 134.71h1.4v1.4h-1.4zM125.93 123.37h1.4v1.4h-1.4zM132.38 131.28h1.4v1.4h-1.4zM125.61 137.49h1.4v1.4h-1.4z" fill="#c8143c"/>
<line x1="129.3" y1="60" x2="129.3" y2="92.2" stroke="#c8143c" stroke-width="1.35"/>
<line x1="129.3" y1="122.5" x2="129.3" y2="147" stroke="#c8143c" stroke-width="1.35"/>
<rect x="117.8" y="92.2" width="23" height="30.3" stroke="#c8143c" stroke-width="1.35" fill="none"/>
<line x1="117.8" y1="103.2" x2="140.8" y2="103.2" stroke="#c8143c" stroke-width="1.35"/>
<text x="57" y="45.9" font-size="7.6" font-style="italic" textLength="39.8" lengthAdjust="spacing">p=3×10<tspan dy="-3.19" font-size="5.62">−16</tspan></text>
<text x="104.1" y="44" font-size="7.6" font-style="italic" textLength="40.8" lengthAdjust="spacing">p=7×10<tspan dy="-3.19" font-size="5.62">−14</tspan></text>
<path d="M69 53V49.2H99V53" stroke="#111111" stroke-width="1.4" fill="none"/>
<path d="M99.6 53V49.2H129.2V53" stroke="#111111" stroke-width="1.4" fill="none"/>
<line x1="217" y1="53.8" x2="217" y2="153.8" stroke="#111111" stroke-width="1.3"/>
<line x1="214" y1="150.5" x2="217" y2="150.5" stroke="#111111" stroke-width="1.1"/>
<text x="210.4" y="153.5" font-size="8.2" text-anchor="end" textLength="4.2" lengthAdjust="spacingAndGlyphs">0</text>
<line x1="214" y1="132.25" x2="217" y2="132.25" stroke="#111111" stroke-width="1.1"/>
<text x="210.4" y="135.25" font-size="8.2" text-anchor="end" textLength="8.39" lengthAdjust="spacingAndGlyphs">50</text>
<line x1="214" y1="114" x2="217" y2="114" stroke="#111111" stroke-width="1.1"/>
<text x="210.4" y="117" font-size="8.2" text-anchor="end" textLength="12.59" lengthAdjust="spacingAndGlyphs">100</text>
<line x1="214" y1="95.75" x2="217" y2="95.75" stroke="#111111" stroke-width="1.1"/>
<text x="210.4" y="98.75" font-size="8.2" text-anchor="end" textLength="12.59" lengthAdjust="spacingAndGlyphs">150</text>
<line x1="214" y1="77.5" x2="217" y2="77.5" stroke="#111111" stroke-width="1.1"/>
<text x="210.4" y="80.5" font-size="8.2" text-anchor="end" textLength="12.59" lengthAdjust="spacingAndGlyphs">200</text>
<line x1="214" y1="59.25" x2="217" y2="59.25" stroke="#111111" stroke-width="1.1"/>
<text x="210.4" y="62.25" font-size="8.2" text-anchor="end" textLength="12.59" lengthAdjust="spacingAndGlyphs">250</text>
<line x1="217" y1="153.8" x2="313" y2="153.8" stroke="#111111" stroke-width="1.4"/>
<line x1="234.5" y1="153.8" x2="234.5" y2="156.8" stroke="#111111" stroke-width="1.1"/>
<line x1="264.6" y1="153.8" x2="264.6" y2="156.8" stroke="#111111" stroke-width="1.1"/>
<line x1="294.6" y1="153.8" x2="294.6" y2="156.8" stroke="#111111" stroke-width="1.1"/>
<text x="180.97" y="104" font-size="9.37" text-anchor="middle" textLength="75" lengthAdjust="spacingAndGlyphs" transform="rotate(-90 180.97 104)" class="yl">H3K27me2 MFI within</text>
<text x="193.47" y="104.2" font-size="9.37" text-anchor="middle" textLength="38.8" lengthAdjust="spacingAndGlyphs" transform="rotate(-90 193.47 104.2)" class="yl">γH2AX Foci</text>
<text x="187" y="166.9" font-size="8.9" textLength="36.4" lengthAdjust="spacingAndGlyphs">UNC0642:</text>
<text x="234.5" y="167.2" font-size="8" text-anchor="middle">–</text>
<text x="264.6" y="167.2" font-size="8" text-anchor="middle">–</text>
<text x="294.6" y="167.2" font-size="8" text-anchor="middle">+</text>
<path d="M235.75 97.8h1.4v1.4h-1.4zM234.46 100.82h1.4v1.4h-1.4zM233.93 95.63h1.4v1.4h-1.4zM230.63 111.15h1.4v1.4h-1.4zM236.29 103.08h1.4v1.4h-1.4zM234.26 99.49h1.4v1.4h-1.4zM235.7 102.12h1.4v1.4h-1.4zM236.84 107.58h1.4v1.4h-1.4zM235.97 110.72h1.4v1.4h-1.4zM232.13 95.91h1.4v1.4h-1.4zM231.77 98.19h1.4v1.4h-1.4zM230.97 96.12h1.4v1.4h-1.4zM234.19 109.23h1.4v1.4h-1.4zM233.52 110.46h1.4v1.4h-1.4zM236.59 96.33h1.4v1.4h-1.4zM234.47 101.66h1.4v1.4h-1.4zM231.22 110.65h1.4v1.4h-1.4zM232.15 104.33h1.4v1.4h-1.4zM234.76 110.6h1.4v1.4h-1.4zM234.95 101.59h1.4v1.4h-1.4zM233.45 97.86h1.4v1.4h-1.4zM236.97 111.17h1.4v1.4h-1.4zM231.91 111.45h1.4v1.4h-1.4zM232.14 112.71h1.4v1.4h-1.4zM236.54 114.92h1.4v1.4h-1.4zM236.09 111.49h1.4v1.4h-1.4zM235.75 114.14h1.4v1.4h-1.4zM234.8 115.24h1.4v1.4h-1.4zM230.78 111.88h1.4v1.4h-1.4zM235.53 115.06h1.4v1.4h-1.4zM235 112.5h1.4v1.4h-1.4zM234.42 114.33h1.4v1.4h-1.4zM231.12 112.6h1.4v1.4h-1.4zM232.15 111.8h1.4v1.4h-1.4zM233.67 111.97h1.4v1.4h-1.4zM232.02 111.87h1.4v1.4h-1.4zM235.01 111.35h1.4v1.4h-1.4zM235.28 112.08h1.4v1.4h-1.4zM230.64 115.01h1.4v1.4h-1.4zM231.9 115.04h1.4v1.4h-1.4zM236.29 114.85h1.4v1.4h-1.4zM231.35 113.09h1.4v1.4h-1.4zM231.06 115.02h1.4v1.4h-1.4zM236.13 113.81h1.4v1.4h-1.4zM233.48 112.66h1.4v1.4h-1.4zM236 113.21h1.4v1.4h-1.4zM234.67 111.87h1.4v1.4h-1.4zM231.91 111.53h1.4v1.4h-1.4zM235.25 113.51h1.4v1.4h-1.4zM231.38 114.78h1.4v1.4h-1.4zM232.21 112.95h1.4v1.4h-1.4zM231.46 112.38h1.4v1.4h-1.4zM236.11 118.98h1.4v1.4h-1.4zM231.54 120.7h1.4v1.4h-1.4zM232.56 125.23h1.4v1.4h-1.4zM231.18 126.06h1.4v1.4h-1.4zM230.79 125.15h1.4v1.4h-1.4zM234.94 117.62h1.4v1.4h-1.4zM233.65 118.45h1.4v1.4h-1.4zM232.15 117.52h1.4v1.4h-1.4zM232.88 126.2h1.4v1.4h-1.4zM237.19 125.48h1.4v1.4h-1.4zM231.06 118.48h1.4v1.4h-1.4zM236.49 115.93h1.4v1.4h-1.4zM235.34 118.53h1.4v1.4h-1.4zM237.05 115.48h1.4v1.4h-1.4zM235.89 119.05h1.4v1.4h-1.4zM231.35 115.32h1.4v1.4h-1.4zM236.06 121.09h1.4v1.4h-1.4zM231.66 120.09h1.4v1.4h-1.4zM236.6 117.7h1.4v1.4h-1.4zM234.29 116.82h1.4v1.4h-1.4zM231.62 123.77h1.4v1.4h-1.4zM235.24 117.46h1.4v1.4h-1.4zM230.94 116.26h1.4v1.4h-1.4zM234.54 120.75h1.4v1.4h-1.4zM232.26 117.57h1.4v1.4h-1.4zM234.56 123.09h1.4v1.4h-1.4zM235.92 121.71h1.4v1.4h-1.4zM231.78 116.02h1.4v1.4h-1.4zM235.38 119.79h1.4v1.4h-1.4zM235.31 115.91h1.4v1.4h-1.4zM235.91 118.99h1.4v1.4h-1.4zM236.12 124.81h1.4v1.4h-1.4zM233.75 115.47h1.4v1.4h-1.4zM236.59 120.54h1.4v1.4h-1.4zM236.33 118.23h1.4v1.4h-1.4zM231.67 124.45h1.4v1.4h-1.4zM232.9 117.1h1.4v1.4h-1.4zM232.92 121.84h1.4v1.4h-1.4zM230.43 121.02h1.4v1.4h-1.4zM233.43 120.97h1.4v1.4h-1.4zM231.22 123.16h1.4v1.4h-1.4zM235.95 124.82h1.4v1.4h-1.4zM232.58 123.12h1.4v1.4h-1.4zM232.99 123.56h1.4v1.4h-1.4zM230.82 124.9h1.4v1.4h-1.4zM236.89 120.74h1.4v1.4h-1.4zM233.89 121.14h1.4v1.4h-1.4zM234.05 115.53h1.4v1.4h-1.4zM236.98 117.76h1.4v1.4h-1.4zM231.64 116.43h1.4v1.4h-1.4zM232.1 124.29h1.4v1.4h-1.4zM230.6 116.36h1.4v1.4h-1.4zM235.15 117.45h1.4v1.4h-1.4zM230.52 121.89h1.4v1.4h-1.4zM234.32 121.05h1.4v1.4h-1.4zM235.18 116.43h1.4v1.4h-1.4zM236.31 123.19h1.4v1.4h-1.4zM230.71 116.65h1.4v1.4h-1.4zM233.76 120.81h1.4v1.4h-1.4zM232.3 116.64h1.4v1.4h-1.4zM233.16 116.81h1.4v1.4h-1.4zM234.42 124.77h1.4v1.4h-1.4zM231.4 121.6h1.4v1.4h-1.4zM235.48 117.11h1.4v1.4h-1.4zM236.02 125.61h1.4v1.4h-1.4zM233.04 119.93h1.4v1.4h-1.4zM236.11 121.08h1.4v1.4h-1.4zM233.09 125.65h1.4v1.4h-1.4zM235.68 119.02h1.4v1.4h-1.4zM232.03 118.99h1.4v1.4h-1.4zM233.36 126.09h1.4v1.4h-1.4zM235.87 125.34h1.4v1.4h-1.4zM235.94 124.62h1.4v1.4h-1.4zM230.76 120.99h1.4v1.4h-1.4zM236.91 125.58h1.4v1.4h-1.4zM232.1 119.94h1.4v1.4h-1.4zM234.7 119.31h1.4v1.4h-1.4zM234.01 116.06h1.4v1.4h-1.4zM233.34 120.85h1.4v1.4h-1.4zM230.54 116.83h1.4v1.4h-1.4zM236.99 123.84h1.4v1.4h-1.4zM236.77 122.27h1.4v1.4h-1.4zM235.9 125.03h1.4v1.4h-1.4zM236.42 115.68h1.4v1.4h-1.4zM234.76 118.22h1.4v1.4h-1.4zM235.01 118.31h1.4v1.4h-1.4zM234.09 125.47h1.4v1.4h-1.4zM234.62 118.06h1.4v1.4h-1.4zM233.94 120.07h1.4v1.4h-1.4zM236.87 118.46h1.4v1.4h-1.4zM232.48 122.42h1.4v1.4h-1.4zM231.22 121.84h1.4v1.4h-1.4zM236.9 120.95h1.4v1.4h-1.4zM232.23 120.43h1.4v1.4h-1.4zM234.03 116.93h1.4v1.4h-1.4zM231.24 116.75h1.4v1.4h-1.4zM232.4 119.77h1.4v1.4h-1.4zM232.36 117.98h1.4v1.4h-1.4zM231 121.31h1.4v1.4h-1.4zM236.11 122.01h1.4v1.4h-1.4zM234.28 122.45h1.4v1.4h-1.4zM231.77 123.11h1.4v1.4h-1.4zM233.53 121.33h1.4v1.4h-1.4zM234.57 120.46h1.4v1.4h-1.4zM232.51 117.96h1.4v1.4h-1.4zM231.91 120.94h1.4v1.4h-1.4zM233.01 121.74h1.4v1.4h-1.4zM230.48 119.18h1.4v1.4h-1.4zM236.26 117.92h1.4v1.4h-1.4zM234.19 120.71h1.4v1.4h-1.4zM232.34 126.16h1.4v1.4h-1.4zM232.41 123.79h1.4v1.4h-1.4zM231.48 116.03h1.4v1.4h-1.4zM236.32 120.14h1.4v1.4h-1.4zM230.82 119.57h1.4v1.4h-1.4zM233.39 123.39h1.4v1.4h-1.4zM231.14 117.78h1.4v1.4h-1.4zM236.92 123.43h1.4v1.4h-1.4zM231.45 119.01h1.4v1.4h-1.4zM232.8 122.73h1.4v1.4h-1.4zM234.59 124.65h1.4v1.4h-1.4zM235.98 121h1.4v1.4h-1.4zM235.42 123.48h1.4v1.4h-1.4zM235.57 120.53h1.4v1.4h-1.4zM235.74 123.09h1.4v1.4h-1.4zM236.62 116.7h1.4v1.4h-1.4zM236.32 115.35h1.4v1.4h-1.4zM235.61 121.74h1.4v1.4h-1.4zM233.79 125.89h1.4v1.4h-1.4zM234.29 119.9h1.4v1.4h-1.4zM235.73 124.9h1.4v1.4h-1.4zM234.53 119.48h1.4v1.4h-1.4zM233.48 120.34h1.4v1.4h-1.4zM235.32 118.52h1.4v1.4h-1.4zM233.06 121.41h1.4v1.4h-1.4zM233.01 118.84h1.4v1.4h-1.4zM235.75 124.65h1.4v1.4h-1.4zM233.8 120.18h1.4v1.4h-1.4zM231.65 118.64h1.4v1.4h-1.4zM231.39 121.63h1.4v1.4h-1.4zM234.35 116.27h1.4v1.4h-1.4zM236.66 118.86h1.4v1.4h-1.4zM236.14 124.52h1.4v1.4h-1.4zM236.92 117.55h1.4v1.4h-1.4zM233.3 125.32h1.4v1.4h-1.4zM230.47 115.82h1.4v1.4h-1.4zM234.24 120.77h1.4v1.4h-1.4zM236.66 123.81h1.4v1.4h-1.4zM234.06 126.28h1.4v1.4h-1.4zM233.92 120.99h1.4v1.4h-1.4zM235.06 129.81h1.4v1.4h-1.4zM232.83 131.65h1.4v1.4h-1.4zM232.79 134.83h1.4v1.4h-1.4zM235 131.03h1.4v1.4h-1.4zM231.07 129.67h1.4v1.4h-1.4zM233.13 131.35h1.4v1.4h-1.4zM234.3 134.22h1.4v1.4h-1.4zM236.96 130.68h1.4v1.4h-1.4zM233.39 131.92h1.4v1.4h-1.4zM237.17 129.39h1.4v1.4h-1.4zM234 133.64h1.4v1.4h-1.4zM231.56 129.16h1.4v1.4h-1.4zM237.05 133.73h1.4v1.4h-1.4zM233.89 127.29h1.4v1.4h-1.4zM236.48 132.51h1.4v1.4h-1.4zM235.98 135.21h1.4v1.4h-1.4zM236.44 130.09h1.4v1.4h-1.4zM231.46 128.91h1.4v1.4h-1.4zM233.88 130.84h1.4v1.4h-1.4zM231.68 127.94h1.4v1.4h-1.4zM234.68 131.73h1.4v1.4h-1.4zM232.8 135.24h1.4v1.4h-1.4zM234.73 126.68h1.4v1.4h-1.4zM233.2 133.39h1.4v1.4h-1.4zM232.49 132.52h1.4v1.4h-1.4zM230.43 129.04h1.4v1.4h-1.4zM236.13 131.58h1.4v1.4h-1.4zM234.94 128.07h1.4v1.4h-1.4zM233.79 131.28h1.4v1.4h-1.4zM232.21 132.12h1.4v1.4h-1.4zM234.01 135.27h1.4v1.4h-1.4zM234.31 130h1.4v1.4h-1.4zM231.23 127.71h1.4v1.4h-1.4zM235.56 127.26h1.4v1.4h-1.4zM231.08 127.83h1.4v1.4h-1.4zM233.95 133.71h1.4v1.4h-1.4zM234.57 133.56h1.4v1.4h-1.4zM230.82 126.41h1.4v1.4h-1.4zM235.64 129.21h1.4v1.4h-1.4zM235.27 129.48h1.4v1.4h-1.4zM231.55 128.7h1.4v1.4h-1.4zM231.08 134.43h1.4v1.4h-1.4zM234.36 129.44h1.4v1.4h-1.4zM233.46 129.77h1.4v1.4h-1.4zM230.77 134.31h1.4v1.4h-1.4zM234.36 147.77h1.4v1.4h-1.4zM233.39 143.36h1.4v1.4h-1.4zM232.1 135.87h1.4v1.4h-1.4zM236.73 146.41h1.4v1.4h-1.4zM232.54 146.99h1.4v1.4h-1.4zM235.95 139.25h1.4v1.4h-1.4zM234.5 147.78h1.4v1.4h-1.4zM233.77 147.65h1.4v1.4h-1.4zM232.05 140.37h1.4v1.4h-1.4zM235.29 138.18h1.4v1.4h-1.4zM232.5 146.68h1.4v1.4h-1.4zM233.69 145.61h1.4v1.4h-1.4zM232.06 137.56h1.4v1.4h-1.4zM232.84 137.73h1.4v1.4h-1.4zM237.01 139.08h1.4v1.4h-1.4zM234.22 136.79h1.4v1.4h-1.4zM234.03 140.31h1.4v1.4h-1.4zM233.14 136.15h1.4v1.4h-1.4zM231.24 146.04h1.4v1.4h-1.4zM232.79 138.48h1.4v1.4h-1.4zM231.7 138.99h1.4v1.4h-1.4zM232.01 135.75h1.4v1.4h-1.4zM234.92 139.74h1.4v1.4h-1.4zM231.46 144.48h1.4v1.4h-1.4zM231.03 138.81h1.4v1.4h-1.4zM236.08 136.96h1.4v1.4h-1.4zM233.41 146.17h1.4v1.4h-1.4zM235.87 137.37h1.4v1.4h-1.4zM229.8 57.5h1.4v1.4h-1.4zM233.5 57.5h1.4v1.4h-1.4zM233.9 83.9h1.4v1.4h-1.4zM232.9 92.6h1.4v1.4h-1.4z" fill="#c8143c"/>
<line x1="234.5" y1="96" x2="234.5" y2="116.3" stroke="#c8143c" stroke-width="1.35"/>
<line x1="234.5" y1="126.3" x2="234.5" y2="149" stroke="#c8143c" stroke-width="1.35"/>
<rect x="222.7" y="116.3" width="23.6" height="10" stroke="#c8143c" stroke-width="1.35" fill="none"/>
<line x1="222.7" y1="120.8" x2="246.3" y2="120.8" stroke="#c8143c" stroke-width="1.35"/>
<path d="M262.87 118.39h1.4v1.4h-1.4zM263.04 120.86h1.4v1.4h-1.4zM261.86 120.78h1.4v1.4h-1.4zM263.93 113.19h1.4v1.4h-1.4zM263.57 112.17h1.4v1.4h-1.4zM265.35 113.54h1.4v1.4h-1.4zM266.7 116.97h1.4v1.4h-1.4zM262.98 113.39h1.4v1.4h-1.4zM264.66 113.03h1.4v1.4h-1.4zM266.51 112.09h1.4v1.4h-1.4zM263.99 116.5h1.4v1.4h-1.4zM262.29 118.9h1.4v1.4h-1.4zM263.09 117.7h1.4v1.4h-1.4zM264.37 114.06h1.4v1.4h-1.4zM263.13 111.7h1.4v1.4h-1.4zM261.64 119.74h1.4v1.4h-1.4zM262.65 117.76h1.4v1.4h-1.4zM261.16 116.7h1.4v1.4h-1.4zM262.93 116.05h1.4v1.4h-1.4zM262.48 111.49h1.4v1.4h-1.4zM262.58 113.18h1.4v1.4h-1.4zM261.28 118.33h1.4v1.4h-1.4zM262.38 115.04h1.4v1.4h-1.4zM266.76 118.94h1.4v1.4h-1.4zM266.58 119.84h1.4v1.4h-1.4zM261.33 122.96h1.4v1.4h-1.4zM260.61 125.38h1.4v1.4h-1.4zM265.05 123.41h1.4v1.4h-1.4zM263.29 125.25h1.4v1.4h-1.4zM265.29 122.79h1.4v1.4h-1.4zM266.33 123.41h1.4v1.4h-1.4zM264.8 122.39h1.4v1.4h-1.4zM261.21 126.78h1.4v1.4h-1.4zM265.54 125.58h1.4v1.4h-1.4zM260.68 121.54h1.4v1.4h-1.4zM261.53 122.49h1.4v1.4h-1.4zM262.52 123.58h1.4v1.4h-1.4zM260.67 123.17h1.4v1.4h-1.4zM264.87 122.38h1.4v1.4h-1.4zM266.28 124.72h1.4v1.4h-1.4zM265.42 122.83h1.4v1.4h-1.4zM263.44 125.41h1.4v1.4h-1.4zM262.84 121.31h1.4v1.4h-1.4zM266.24 125.96h1.4v1.4h-1.4zM262.4 121.56h1.4v1.4h-1.4zM266.38 124.94h1.4v1.4h-1.4zM260.73 122.77h1.4v1.4h-1.4zM261.18 126.05h1.4v1.4h-1.4zM261.87 126.79h1.4v1.4h-1.4zM265.65 121.82h1.4v1.4h-1.4zM265.26 123.66h1.4v1.4h-1.4zM265.63 126.27h1.4v1.4h-1.4zM262.37 121.84h1.4v1.4h-1.4zM267.02 123.84h1.4v1.4h-1.4zM266.91 125.45h1.4v1.4h-1.4zM265.57 126.28h1.4v1.4h-1.4zM264.8 124.02h1.4v1.4h-1.4zM260.78 125.49h1.4v1.4h-1.4zM263.4 124.37h1.4v1.4h-1.4zM266.9 122.07h1.4v1.4h-1.4zM265.73 121.56h1.4v1.4h-1.4zM265.32 126.13h1.4v1.4h-1.4zM262.23 124.58h1.4v1.4h-1.4zM267.19 125.13h1.4v1.4h-1.4zM264.21 122.8h1.4v1.4h-1.4zM260.82 123.45h1.4v1.4h-1.4zM263.28 122.51h1.4v1.4h-1.4zM262.57 122.12h1.4v1.4h-1.4zM265.35 125.32h1.4v1.4h-1.4zM262.07 122.75h1.4v1.4h-1.4zM264.01 123.97h1.4v1.4h-1.4zM266.95 123.41h1.4v1.4h-1.4zM262.5 126.61h1.4v1.4h-1.4zM261.39 124.68h1.4v1.4h-1.4zM262.74 126.19h1.4v1.4h-1.4zM264.24 125.86h1.4v1.4h-1.4zM261.58 125.3h1.4v1.4h-1.4zM264.59 124.07h1.4v1.4h-1.4zM265.76 126.29h1.4v1.4h-1.4zM261.2 123.04h1.4v1.4h-1.4zM262.92 122.54h1.4v1.4h-1.4zM260.82 122.99h1.4v1.4h-1.4zM261.78 125.51h1.4v1.4h-1.4zM263.54 121.98h1.4v1.4h-1.4zM262.67 124.11h1.4v1.4h-1.4zM262.94 122.31h1.4v1.4h-1.4zM260.9 121.36h1.4v1.4h-1.4zM267.34 125.8h1.4v1.4h-1.4zM260.99 125.6h1.4v1.4h-1.4zM267.26 124.68h1.4v1.4h-1.4zM261.16 124.23h1.4v1.4h-1.4zM263.44 122.44h1.4v1.4h-1.4zM264.2 121.35h1.4v1.4h-1.4zM266.84 125.17h1.4v1.4h-1.4zM264.79 126.91h1.4v1.4h-1.4zM264.97 122.81h1.4v1.4h-1.4zM262.12 122.13h1.4v1.4h-1.4zM260.59 125.95h1.4v1.4h-1.4zM266.28 123.08h1.4v1.4h-1.4zM261.7 125.13h1.4v1.4h-1.4zM266.32 126.86h1.4v1.4h-1.4zM261.58 126.01h1.4v1.4h-1.4zM266.21 125.75h1.4v1.4h-1.4zM262.69 122.41h1.4v1.4h-1.4zM266.18 123.22h1.4v1.4h-1.4zM262.98 135.02h1.4v1.4h-1.4zM262.98 138.94h1.4v1.4h-1.4zM262.08 127.88h1.4v1.4h-1.4zM264.37 136.09h1.4v1.4h-1.4zM266.14 137.18h1.4v1.4h-1.4zM266.74 140.53h1.4v1.4h-1.4zM263.86 134.29h1.4v1.4h-1.4zM261.5 131.49h1.4v1.4h-1.4zM264.47 128.42h1.4v1.4h-1.4zM265.22 129.59h1.4v1.4h-1.4zM263.5 140.88h1.4v1.4h-1.4zM261.03 127.86h1.4v1.4h-1.4zM263.48 129.97h1.4v1.4h-1.4zM265.46 127.34h1.4v1.4h-1.4zM266.29 139.27h1.4v1.4h-1.4zM265.91 133.26h1.4v1.4h-1.4zM262.38 136.56h1.4v1.4h-1.4zM264 133.2h1.4v1.4h-1.4zM262.77 133.44h1.4v1.4h-1.4zM265.06 138.87h1.4v1.4h-1.4zM266.73 129.6h1.4v1.4h-1.4zM262.47 133.5h1.4v1.4h-1.4zM264.34 132.17h1.4v1.4h-1.4zM261.77 128.49h1.4v1.4h-1.4zM262.67 133.75h1.4v1.4h-1.4zM267.2 140.02h1.4v1.4h-1.4zM266.46 140.94h1.4v1.4h-1.4zM267.13 135.98h1.4v1.4h-1.4zM266.08 128.14h1.4v1.4h-1.4zM265.14 135.83h1.4v1.4h-1.4zM262.48 135.3h1.4v1.4h-1.4zM267.07 134.03h1.4v1.4h-1.4zM264.93 131.49h1.4v1.4h-1.4zM262.8 139.69h1.4v1.4h-1.4zM260.59 129.94h1.4v1.4h-1.4zM265.15 133.56h1.4v1.4h-1.4zM261 136.55h1.4v1.4h-1.4zM263 135.43h1.4v1.4h-1.4zM263.31 134.72h1.4v1.4h-1.4zM264.35 132.85h1.4v1.4h-1.4zM261.2 129.83h1.4v1.4h-1.4zM266.63 134.97h1.4v1.4h-1.4zM261.19 139.37h1.4v1.4h-1.4zM262.17 128.63h1.4v1.4h-1.4zM264.12 130.82h1.4v1.4h-1.4zM263.82 135.06h1.4v1.4h-1.4zM261.99 135.32h1.4v1.4h-1.4zM261.19 134.48h1.4v1.4h-1.4zM264.52 128.42h1.4v1.4h-1.4zM263.26 128.33h1.4v1.4h-1.4zM263.48 139.39h1.4v1.4h-1.4zM264.25 137.3h1.4v1.4h-1.4zM265.7 128.9h1.4v1.4h-1.4zM267.33 137.4h1.4v1.4h-1.4zM261.11 138.92h1.4v1.4h-1.4zM263.14 129.7h1.4v1.4h-1.4zM267.12 135.18h1.4v1.4h-1.4zM265.82 129.22h1.4v1.4h-1.4zM265.83 128.11h1.4v1.4h-1.4zM262.06 132.51h1.4v1.4h-1.4zM260.51 135.62h1.4v1.4h-1.4zM261.89 131.5h1.4v1.4h-1.4zM265.35 133.26h1.4v1.4h-1.4zM266.62 136h1.4v1.4h-1.4zM266.5 135.18h1.4v1.4h-1.4zM266.82 139.49h1.4v1.4h-1.4zM261.58 137.74h1.4v1.4h-1.4zM262.79 137.99h1.4v1.4h-1.4zM265.16 138.86h1.4v1.4h-1.4zM261.26 132.52h1.4v1.4h-1.4zM265.56 140.57h1.4v1.4h-1.4zM265.45 127.91h1.4v1.4h-1.4zM264.63 128.7h1.4v1.4h-1.4zM264.24 138.54h1.4v1.4h-1.4zM261.19 140.25h1.4v1.4h-1.4zM265.13 130.86h1.4v1.4h-1.4zM261.75 133.55h1.4v1.4h-1.4zM266.27 135.44h1.4v1.4h-1.4zM261.2 127.59h1.4v1.4h-1.4zM261.17 138.51h1.4v1.4h-1.4zM261.7 135.06h1.4v1.4h-1.4zM262.43 136.92h1.4v1.4h-1.4zM263.07 129.32h1.4v1.4h-1.4zM266.53 134.84h1.4v1.4h-1.4zM265.23 138.61h1.4v1.4h-1.4zM267.04 127.49h1.4v1.4h-1.4zM262.8 129.41h1.4v1.4h-1.4zM263.91 139.52h1.4v1.4h-1.4zM266 127.8h1.4v1.4h-1.4zM261.68 138.76h1.4v1.4h-1.4zM265.16 132.8h1.4v1.4h-1.4zM263.73 129.52h1.4v1.4h-1.4zM266.32 132.81h1.4v1.4h-1.4zM266.51 135.85h1.4v1.4h-1.4zM260.93 131.91h1.4v1.4h-1.4zM261.91 139.82h1.4v1.4h-1.4zM264.52 127.91h1.4v1.4h-1.4zM261.59 132.35h1.4v1.4h-1.4zM263.67 135.38h1.4v1.4h-1.4zM263.12 132.25h1.4v1.4h-1.4zM260.44 135.41h1.4v1.4h-1.4zM262.74 127.59h1.4v1.4h-1.4zM263.62 141.11h1.4v1.4h-1.4zM260.72 129.34h1.4v1.4h-1.4zM265.1 131.12h1.4v1.4h-1.4zM262.31 134.3h1.4v1.4h-1.4zM262.23 135.27h1.4v1.4h-1.4zM264.1 140.7h1.4v1.4h-1.4zM267.35 127.78h1.4v1.4h-1.4zM264.32 138.09h1.4v1.4h-1.4zM266.51 138.14h1.4v1.4h-1.4zM264.83 136.18h1.4v1.4h-1.4zM262.94 131.24h1.4v1.4h-1.4zM265.97 139.52h1.4v1.4h-1.4zM266.97 136.84h1.4v1.4h-1.4zM262.53 137.99h1.4v1.4h-1.4zM265.58 134.42h1.4v1.4h-1.4zM264.85 132.21h1.4v1.4h-1.4zM264.26 132.98h1.4v1.4h-1.4zM260.82 132.02h1.4v1.4h-1.4zM262.66 141.14h1.4v1.4h-1.4zM263.77 132.44h1.4v1.4h-1.4zM262.1 130.59h1.4v1.4h-1.4zM262.84 129.2h1.4v1.4h-1.4zM260.45 139.49h1.4v1.4h-1.4zM263.57 133.54h1.4v1.4h-1.4zM264.38 131.53h1.4v1.4h-1.4zM261.58 128.23h1.4v1.4h-1.4zM262.51 131.62h1.4v1.4h-1.4zM265.49 135.02h1.4v1.4h-1.4zM266.96 132.07h1.4v1.4h-1.4zM266.85 135.47h1.4v1.4h-1.4zM260.96 129.8h1.4v1.4h-1.4zM264.46 141.12h1.4v1.4h-1.4zM262.9 138.14h1.4v1.4h-1.4zM263.4 139.46h1.4v1.4h-1.4zM260.87 134.08h1.4v1.4h-1.4zM266.69 131.16h1.4v1.4h-1.4zM262.2 127.62h1.4v1.4h-1.4zM261.55 131.05h1.4v1.4h-1.4zM265.33 130.36h1.4v1.4h-1.4zM263.2 130.1h1.4v1.4h-1.4zM264.62 139.4h1.4v1.4h-1.4zM264.94 130.05h1.4v1.4h-1.4zM265.54 140.78h1.4v1.4h-1.4zM264.61 128.41h1.4v1.4h-1.4zM266.07 139.56h1.4v1.4h-1.4zM262.79 129.21h1.4v1.4h-1.4zM261.72 134.82h1.4v1.4h-1.4zM266.53 136.26h1.4v1.4h-1.4zM266.86 130.27h1.4v1.4h-1.4zM262.69 137.79h1.4v1.4h-1.4zM264.94 132.97h1.4v1.4h-1.4zM265.15 132.03h1.4v1.4h-1.4zM260.8 133.1h1.4v1.4h-1.4zM260.72 136.07h1.4v1.4h-1.4zM262.74 134.22h1.4v1.4h-1.4zM264.58 130.9h1.4v1.4h-1.4zM263.64 127.49h1.4v1.4h-1.4zM266.88 135.2h1.4v1.4h-1.4zM267.31 128.08h1.4v1.4h-1.4zM264.7 137.44h1.4v1.4h-1.4zM262.7 128.61h1.4v1.4h-1.4zM261.49 129.3h1.4v1.4h-1.4zM265.77 128.56h1.4v1.4h-1.4zM266.1 133.23h1.4v1.4h-1.4zM264.17 135.54h1.4v1.4h-1.4zM264.28 136.5h1.4v1.4h-1.4zM264.61 131.93h1.4v1.4h-1.4zM265.59 130.91h1.4v1.4h-1.4zM265.38 137.99h1.4v1.4h-1.4zM265.83 131.63h1.4v1.4h-1.4zM265.81 140.98h1.4v1.4h-1.4zM263.57 131.2h1.4v1.4h-1.4zM264.06 140.47h1.4v1.4h-1.4zM261.32 127.43h1.4v1.4h-1.4zM263.73 136.48h1.4v1.4h-1.4zM265.82 132.37h1.4v1.4h-1.4zM267.33 130.49h1.4v1.4h-1.4zM265.7 128.56h1.4v1.4h-1.4zM260.6 129.18h1.4v1.4h-1.4zM260.82 134.33h1.4v1.4h-1.4zM264.29 129.85h1.4v1.4h-1.4zM266.98 132.42h1.4v1.4h-1.4zM261.45 129.78h1.4v1.4h-1.4zM265.56 140.2h1.4v1.4h-1.4zM261.53 127.71h1.4v1.4h-1.4zM265.85 130.7h1.4v1.4h-1.4zM267.28 134.29h1.4v1.4h-1.4zM264.85 132.12h1.4v1.4h-1.4zM266 133.74h1.4v1.4h-1.4zM262.67 139.95h1.4v1.4h-1.4zM261.15 137.57h1.4v1.4h-1.4zM260.86 136.34h1.4v1.4h-1.4zM263.21 139.4h1.4v1.4h-1.4zM260.82 135.2h1.4v1.4h-1.4zM263.27 140.17h1.4v1.4h-1.4zM267.01 136.08h1.4v1.4h-1.4zM261.97 130.83h1.4v1.4h-1.4zM262.24 133.37h1.4v1.4h-1.4zM262.02 130.14h1.4v1.4h-1.4zM265.71 136.3h1.4v1.4h-1.4zM262.49 141.22h1.4v1.4h-1.4zM261.92 135.27h1.4v1.4h-1.4zM261.5 139.38h1.4v1.4h-1.4zM266.48 131.04h1.4v1.4h-1.4zM265.66 138.82h1.4v1.4h-1.4zM262.38 131.94h1.4v1.4h-1.4zM263.8 139.77h1.4v1.4h-1.4zM261.53 136.86h1.4v1.4h-1.4zM264.58 133.64h1.4v1.4h-1.4zM264.45 139.66h1.4v1.4h-1.4zM261.87 139.67h1.4v1.4h-1.4zM262.92 138.22h1.4v1.4h-1.4zM266.44 129.85h1.4v1.4h-1.4zM266.45 141.23h1.4v1.4h-1.4zM262.48 127.64h1.4v1.4h-1.4zM261.18 140.94h1.4v1.4h-1.4zM260.47 140.06h1.4v1.4h-1.4zM261.46 137.6h1.4v1.4h-1.4zM261.08 129.66h1.4v1.4h-1.4zM265.18 128.56h1.4v1.4h-1.4zM262.78 140.16h1.4v1.4h-1.4zM265.41 139.65h1.4v1.4h-1.4zM267.26 127.76h1.4v1.4h-1.4zM262.04 138.39h1.4v1.4h-1.4zM265.23 127.83h1.4v1.4h-1.4zM263.93 130.54h1.4v1.4h-1.4zM263.41 128.77h1.4v1.4h-1.4zM260.54 141.17h1.4v1.4h-1.4zM262.62 139.6h1.4v1.4h-1.4zM261.24 134.12h1.4v1.4h-1.4zM261.35 133.3h1.4v1.4h-1.4zM261.65 136.9h1.4v1.4h-1.4zM261.44 137.63h1.4v1.4h-1.4zM263.91 128.87h1.4v1.4h-1.4zM262.88 134.25h1.4v1.4h-1.4zM266.83 132.19h1.4v1.4h-1.4zM261.91 140.85h1.4v1.4h-1.4zM266.58 137.54h1.4v1.4h-1.4zM262.31 129.78h1.4v1.4h-1.4zM262.25 128.26h1.4v1.4h-1.4zM260.7 134.42h1.4v1.4h-1.4zM263.26 135.09h1.4v1.4h-1.4zM262.94 127.45h1.4v1.4h-1.4zM265.22 136.44h1.4v1.4h-1.4zM264.21 134.98h1.4v1.4h-1.4zM265.23 141.05h1.4v1.4h-1.4zM266.52 137.35h1.4v1.4h-1.4zM263.19 131.76h1.4v1.4h-1.4zM263.33 140.92h1.4v1.4h-1.4zM263.11 132.7h1.4v1.4h-1.4zM263.27 129.3h1.4v1.4h-1.4zM267.39 127.37h1.4v1.4h-1.4zM264.65 140.27h1.4v1.4h-1.4zM262.18 135.85h1.4v1.4h-1.4zM263.04 130.67h1.4v1.4h-1.4zM261.79 128.93h1.4v1.4h-1.4zM266.3 138.28h1.4v1.4h-1.4zM266.76 127.99h1.4v1.4h-1.4zM265.26 142.92h1.4v1.4h-1.4zM264.92 144.04h1.4v1.4h-1.4zM262.61 146.16h1.4v1.4h-1.4zM260.41 145.03h1.4v1.4h-1.4zM266.37 143.85h1.4v1.4h-1.4zM264.55 146.27h1.4v1.4h-1.4zM262.04 144.45h1.4v1.4h-1.4zM265.6 143.19h1.4v1.4h-1.4zM265.39 143.27h1.4v1.4h-1.4zM264.08 144.36h1.4v1.4h-1.4zM265.14 142.91h1.4v1.4h-1.4zM264.8 144.02h1.4v1.4h-1.4zM261.96 144.36h1.4v1.4h-1.4zM262.25 145.84h1.4v1.4h-1.4zM263.71 144.91h1.4v1.4h-1.4zM264.05 143.68h1.4v1.4h-1.4zM261.95 142.01h1.4v1.4h-1.4zM266.89 143.94h1.4v1.4h-1.4zM264.07 143.94h1.4v1.4h-1.4zM266.09 142.49h1.4v1.4h-1.4zM261.61 145.41h1.4v1.4h-1.4zM263.62 144.5h1.4v1.4h-1.4zM266.19 145.77h1.4v1.4h-1.4zM266.47 141.52h1.4v1.4h-1.4zM263.07 145.46h1.4v1.4h-1.4zM266.12 141.92h1.4v1.4h-1.4zM261.48 142.56h1.4v1.4h-1.4zM261.12 143.08h1.4v1.4h-1.4zM266.02 143.91h1.4v1.4h-1.4zM263.57 141.74h1.4v1.4h-1.4zM263.17 146.28h1.4v1.4h-1.4zM265.27 143.55h1.4v1.4h-1.4zM263.75 145.29h1.4v1.4h-1.4zM265.71 142.05h1.4v1.4h-1.4zM265.16 143.13h1.4v1.4h-1.4zM264.04 142.49h1.4v1.4h-1.4zM263 143h1.4v1.4h-1.4zM263.07 141.39h1.4v1.4h-1.4zM261.81 144.15h1.4v1.4h-1.4zM260.8 142.19h1.4v1.4h-1.4zM265.43 142.67h1.4v1.4h-1.4zM262.67 142.51h1.4v1.4h-1.4zM266.24 141.76h1.4v1.4h-1.4zM264.85 145.59h1.4v1.4h-1.4zM261.81 143.42h1.4v1.4h-1.4zM265.95 144.39h1.4v1.4h-1.4zM263 141.52h1.4v1.4h-1.4zM263.5 143.14h1.4v1.4h-1.4zM265.39 142.78h1.4v1.4h-1.4zM263.26 144.54h1.4v1.4h-1.4zM266.08 143.06h1.4v1.4h-1.4zM263.1 144.19h1.4v1.4h-1.4zM266.87 142.26h1.4v1.4h-1.4zM267.2 144.86h1.4v1.4h-1.4zM263.01 144.63h1.4v1.4h-1.4zM262.71 141.65h1.4v1.4h-1.4zM265.69 143.2h1.4v1.4h-1.4zM264.08 143.78h1.4v1.4h-1.4zM266.71 145.09h1.4v1.4h-1.4zM260.58 144.26h1.4v1.4h-1.4zM263.64 147.5h1.4v1.4h-1.4zM266.28 147.38h1.4v1.4h-1.4zM263.72 148.61h1.4v1.4h-1.4zM263.48 147.58h1.4v1.4h-1.4zM263.98 148.44h1.4v1.4h-1.4zM265.09 148.23h1.4v1.4h-1.4zM263.21 146.41h1.4v1.4h-1.4zM265.16 147.74h1.4v1.4h-1.4z" fill="#17538d"/>
<line x1="264.6" y1="111.5" x2="264.6" y2="126.9" stroke="#17538d" stroke-width="1.35"/>
<line x1="264.6" y1="138.1" x2="264.6" y2="149.6" stroke="#17538d" stroke-width="1.35"/>
<rect x="253.1" y="126.9" width="23" height="11.2" stroke="#17538d" stroke-width="1.35" fill="none"/>
<line x1="253.1" y1="132.3" x2="276.1" y2="132.3" stroke="#17538d" stroke-width="1.35"/>
<path d="M295.84 111.41h1.4v1.4h-1.4zM291.15 106.91h1.4v1.4h-1.4zM290.86 111.8h1.4v1.4h-1.4zM291.03 105.82h1.4v1.4h-1.4zM295.72 109.73h1.4v1.4h-1.4zM290.7 110.68h1.4v1.4h-1.4zM295.42 109.06h1.4v1.4h-1.4zM290.69 110.77h1.4v1.4h-1.4zM293.31 109.89h1.4v1.4h-1.4zM297.49 111.8h1.4v1.4h-1.4zM296.58 106.29h1.4v1.4h-1.4zM292.71 109.35h1.4v1.4h-1.4zM290.34 113.21h1.4v1.4h-1.4zM292.28 107.25h1.4v1.4h-1.4zM292.55 107.19h1.4v1.4h-1.4zM296.48 109.66h1.4v1.4h-1.4zM293.98 108.55h1.4v1.4h-1.4zM290.67 107.6h1.4v1.4h-1.4zM296.54 111.68h1.4v1.4h-1.4zM296.47 107.21h1.4v1.4h-1.4zM291.75 105.53h1.4v1.4h-1.4zM294.17 108.17h1.4v1.4h-1.4zM293.64 109.11h1.4v1.4h-1.4zM294.5 108.1h1.4v1.4h-1.4zM296.07 106.74h1.4v1.4h-1.4zM296.92 109.66h1.4v1.4h-1.4zM290.67 107.68h1.4v1.4h-1.4zM294.14 108.45h1.4v1.4h-1.4zM294.37 107.75h1.4v1.4h-1.4zM292.27 111.63h1.4v1.4h-1.4zM292.4 131.77h1.4v1.4h-1.4zM296.08 128.69h1.4v1.4h-1.4zM293.57 137.61h1.4v1.4h-1.4zM293.5 136.13h1.4v1.4h-1.4zM290.72 124.58h1.4v1.4h-1.4zM294.9 114.57h1.4v1.4h-1.4zM296.51 115.17h1.4v1.4h-1.4zM294.59 117.98h1.4v1.4h-1.4zM296.94 127.89h1.4v1.4h-1.4zM296.07 126.25h1.4v1.4h-1.4zM295.15 130.85h1.4v1.4h-1.4zM292.42 118.79h1.4v1.4h-1.4zM296.34 117.09h1.4v1.4h-1.4zM296.91 118.68h1.4v1.4h-1.4zM291.03 115.78h1.4v1.4h-1.4zM295.95 138.02h1.4v1.4h-1.4zM293.29 130.43h1.4v1.4h-1.4zM292.15 136.85h1.4v1.4h-1.4zM295.24 117.33h1.4v1.4h-1.4zM290.71 131.39h1.4v1.4h-1.4zM290.6 135.04h1.4v1.4h-1.4zM292.41 119.35h1.4v1.4h-1.4zM294.49 121.59h1.4v1.4h-1.4zM294.34 117.3h1.4v1.4h-1.4zM296.87 121.73h1.4v1.4h-1.4zM296.36 117.25h1.4v1.4h-1.4zM296.06 138.78h1.4v1.4h-1.4zM293.12 114.16h1.4v1.4h-1.4zM293.04 129.96h1.4v1.4h-1.4zM291.91 127.49h1.4v1.4h-1.4zM290.97 125.38h1.4v1.4h-1.4zM295.54 124.48h1.4v1.4h-1.4zM295.19 116.27h1.4v1.4h-1.4zM296.27 116.48h1.4v1.4h-1.4zM296.95 139.2h1.4v1.4h-1.4zM297.06 126.98h1.4v1.4h-1.4zM292.39 122.35h1.4v1.4h-1.4zM295.7 126.21h1.4v1.4h-1.4zM296.99 115.72h1.4v1.4h-1.4zM293.79 135.76h1.4v1.4h-1.4zM294.6 127.36h1.4v1.4h-1.4zM290.94 116.93h1.4v1.4h-1.4zM292.25 136.52h1.4v1.4h-1.4zM296.39 119.21h1.4v1.4h-1.4zM296.96 114.14h1.4v1.4h-1.4zM294.61 138.45h1.4v1.4h-1.4zM292.78 137.85h1.4v1.4h-1.4zM295.03 114.6h1.4v1.4h-1.4zM292.7 124.99h1.4v1.4h-1.4zM292.08 132.6h1.4v1.4h-1.4zM291.59 133.78h1.4v1.4h-1.4zM292.45 115.11h1.4v1.4h-1.4zM294.33 115.79h1.4v1.4h-1.4zM294.27 133.79h1.4v1.4h-1.4zM294.59 125.3h1.4v1.4h-1.4zM290.54 143.66h1.4v1.4h-1.4zM291 144.8h1.4v1.4h-1.4zM291.25 144.21h1.4v1.4h-1.4zM292.84 142.49h1.4v1.4h-1.4zM295.07 140.69h1.4v1.4h-1.4zM291.52 147.3h1.4v1.4h-1.4zM292.69 146.46h1.4v1.4h-1.4zM296.59 143.38h1.4v1.4h-1.4zM291.37 140.1h1.4v1.4h-1.4zM296.63 140.3h1.4v1.4h-1.4zM293.87 143.86h1.4v1.4h-1.4zM291.15 143.28h1.4v1.4h-1.4zM291.48 143.85h1.4v1.4h-1.4zM293.95 142.42h1.4v1.4h-1.4zM291.72 142.73h1.4v1.4h-1.4zM291.76 140.38h1.4v1.4h-1.4zM292.03 146.71h1.4v1.4h-1.4zM293.91 146.87h1.4v1.4h-1.4zM290.41 147.32h1.4v1.4h-1.4zM293.82 146.02h1.4v1.4h-1.4zM294.41 145.16h1.4v1.4h-1.4zM291.95 145.68h1.4v1.4h-1.4zM291.41 141.55h1.4v1.4h-1.4zM290.52 142.64h1.4v1.4h-1.4zM294.03 141.78h1.4v1.4h-1.4zM296.71 140.02h1.4v1.4h-1.4zM294.47 141.29h1.4v1.4h-1.4zM294.59 145.96h1.4v1.4h-1.4zM295.42 139.83h1.4v1.4h-1.4zM292.07 144.39h1.4v1.4h-1.4zM297.38 139.65h1.4v1.4h-1.4zM294.75 145.18h1.4v1.4h-1.4zM296.17 142.21h1.4v1.4h-1.4zM296.14 143.23h1.4v1.4h-1.4zM296.93 139.39h1.4v1.4h-1.4zM297.07 142.8h1.4v1.4h-1.4zM293.23 140.05h1.4v1.4h-1.4zM292.06 145.54h1.4v1.4h-1.4zM295.19 140.59h1.4v1.4h-1.4zM292.78 140.49h1.4v1.4h-1.4zM291.73 141.17h1.4v1.4h-1.4zM292.68 147.6h1.4v1.4h-1.4zM297.48 146.03h1.4v1.4h-1.4zM293.75 143.53h1.4v1.4h-1.4zM295.91 147.02h1.4v1.4h-1.4z" fill="#c8143c"/>
<line x1="294.6" y1="105.8" x2="294.6" y2="114.4" stroke="#c8143c" stroke-width="1.35"/>
<line x1="294.6" y1="137.5" x2="294.6" y2="148.5" stroke="#c8143c" stroke-width="1.35"/>
<rect x="283.1" y="114.4" width="23" height="23.1" stroke="#c8143c" stroke-width="1.35" fill="none"/>
<line x1="283.1" y1="123.5" x2="306.1" y2="123.5" stroke="#c8143c" stroke-width="1.35"/>
<text x="247.8" y="42.6" font-size="7.6" font-style="italic" textLength="34.4" lengthAdjust="spacing">p=0.0002</text>
<text x="230.3" y="70.4" font-size="7.6" font-style="italic" textLength="40.2" lengthAdjust="spacing">p=3×10<tspan dy="-3.19" font-size="5.62">−16</tspan></text>
<text x="264.3" y="90.2" font-size="7.6" font-style="italic" textLength="34.9" lengthAdjust="spacing">p=2×10<tspan dy="-3.19" font-size="5.62">−7</tspan></text>
<path d="M234.5 52.7V49.1H295V52.7" stroke="#111111" stroke-width="1.4" fill="none"/>
<path d="M234.5 78.8V74.6H264.6V78.8" stroke="#111111" stroke-width="1.4" fill="none"/>
<path d="M264.6 101.4V96.2H294.8V101.4" stroke="#111111" stroke-width="1.4" fill="none"/>
<line x1="380" y1="53.8" x2="380" y2="153.5" stroke="#111111" stroke-width="1.3"/>
<line x1="377" y1="149.4" x2="380" y2="149.4" stroke="#111111" stroke-width="1.1"/>
<text x="373.4" y="152.4" font-size="8.2" text-anchor="end" textLength="4.2" lengthAdjust="spacingAndGlyphs">0</text>
<line x1="377" y1="114.3" x2="380" y2="114.3" stroke="#111111" stroke-width="1.1"/>
<text x="373.4" y="117.3" font-size="8.2" text-anchor="end" textLength="12.59" lengthAdjust="spacingAndGlyphs">100</text>
<line x1="377" y1="79.2" x2="380" y2="79.2" stroke="#111111" stroke-width="1.1"/>
<text x="373.4" y="82.2" font-size="8.2" text-anchor="end" textLength="12.59" lengthAdjust="spacingAndGlyphs">200</text>
<line x1="380" y1="153.5" x2="476" y2="153.5" stroke="#111111" stroke-width="1.4"/>
<line x1="398.1" y1="153.5" x2="398.1" y2="156.5" stroke="#111111" stroke-width="1.1"/>
<line x1="427.9" y1="153.5" x2="427.9" y2="156.5" stroke="#111111" stroke-width="1.1"/>
<line x1="458.1" y1="153.5" x2="458.1" y2="156.5" stroke="#111111" stroke-width="1.1"/>
<text x="343.17" y="104" font-size="9.37" text-anchor="middle" textLength="75" lengthAdjust="spacingAndGlyphs" transform="rotate(-90 343.17 104)" class="yl">H3K27me3 MFI within</text>
<text x="356.27" y="104.2" font-size="9.37" text-anchor="middle" textLength="38.8" lengthAdjust="spacingAndGlyphs" transform="rotate(-90 356.27 104.2)" class="yl">γH2AX Foci</text>
<text x="349.5" y="166.9" font-size="8.9" textLength="36.4" lengthAdjust="spacingAndGlyphs">UNC0642:</text>
<text x="398.1" y="167.2" font-size="8" text-anchor="middle">–</text>
<text x="427.9" y="167.2" font-size="8" text-anchor="middle">–</text>
<text x="458.1" y="167.2" font-size="8" text-anchor="middle">+</text>
<path d="M399.56 103.37h1.4v1.4h-1.4zM394.81 102.57h1.4v1.4h-1.4zM400.37 114.09h1.4v1.4h-1.4zM393.89 109.15h1.4v1.4h-1.4zM396.1 69.57h1.4v1.4h-1.4zM401.41 105.96h1.4v1.4h-1.4zM399.51 67.62h1.4v1.4h-1.4zM400.22 124.82h1.4v1.4h-1.4zM400.88 111.12h1.4v1.4h-1.4zM400.26 115.19h1.4v1.4h-1.4zM398.18 89.04h1.4v1.4h-1.4zM400.2 113.93h1.4v1.4h-1.4zM400.59 79.32h1.4v1.4h-1.4zM401.36 95.91h1.4v1.4h-1.4zM401.24 66.26h1.4v1.4h-1.4zM401.43 114.15h1.4v1.4h-1.4zM395.27 117.78h1.4v1.4h-1.4zM395.1 72.12h1.4v1.4h-1.4zM397.04 74.87h1.4v1.4h-1.4zM397.34 122.75h1.4v1.4h-1.4zM398.99 108.65h1.4v1.4h-1.4zM396.47 113.89h1.4v1.4h-1.4zM399.93 106.69h1.4v1.4h-1.4zM401.2 116.88h1.4v1.4h-1.4zM396.59 64.21h1.4v1.4h-1.4zM398.71 117.63h1.4v1.4h-1.4zM396.02 100.41h1.4v1.4h-1.4zM400.29 114.54h1.4v1.4h-1.4zM393.14 92.87h1.4v1.4h-1.4zM393.24 65.89h1.4v1.4h-1.4zM400.09 87.85h1.4v1.4h-1.4zM398.3 90.62h1.4v1.4h-1.4zM395.98 73.23h1.4v1.4h-1.4zM396.14 118.22h1.4v1.4h-1.4zM398.43 78.83h1.4v1.4h-1.4zM393.86 77.32h1.4v1.4h-1.4zM399.13 89.52h1.4v1.4h-1.4zM398.78 115.55h1.4v1.4h-1.4zM394.14 106.69h1.4v1.4h-1.4zM393.46 116.68h1.4v1.4h-1.4zM394.68 77.36h1.4v1.4h-1.4zM401.34 83.84h1.4v1.4h-1.4zM395.03 121.45h1.4v1.4h-1.4zM398.35 121.74h1.4v1.4h-1.4zM396.49 93.63h1.4v1.4h-1.4zM401.32 94.13h1.4v1.4h-1.4zM401.6 71.51h1.4v1.4h-1.4zM400.24 69.57h1.4v1.4h-1.4zM397.63 58.03h1.4v1.4h-1.4zM394.61 125.38h1.4v1.4h-1.4zM397.01 115.71h1.4v1.4h-1.4zM395.26 83.12h1.4v1.4h-1.4zM393.97 97.41h1.4v1.4h-1.4zM400.52 94.64h1.4v1.4h-1.4zM396.34 124.21h1.4v1.4h-1.4zM400.79 105.51h1.4v1.4h-1.4zM393.75 102.49h1.4v1.4h-1.4zM396.92 126.29h1.4v1.4h-1.4zM396.21 105.14h1.4v1.4h-1.4zM398.53 84.8h1.4v1.4h-1.4zM397.59 106.24h1.4v1.4h-1.4zM400.9 93.52h1.4v1.4h-1.4zM396.23 127.6h1.4v1.4h-1.4zM393.59 117.52h1.4v1.4h-1.4zM398.98 97.74h1.4v1.4h-1.4zM396.95 111.55h1.4v1.4h-1.4zM400.76 109.97h1.4v1.4h-1.4zM399.55 60.5h1.4v1.4h-1.4zM395.9 67.77h1.4v1.4h-1.4zM401.3 121.56h1.4v1.4h-1.4zM394.34 99.89h1.4v1.4h-1.4zM398.06 61.33h1.4v1.4h-1.4zM396.47 111.29h1.4v1.4h-1.4zM398.62 78.03h1.4v1.4h-1.4zM399.66 78.76h1.4v1.4h-1.4zM397.78 88h1.4v1.4h-1.4zM401.51 104.26h1.4v1.4h-1.4zM400.02 106.23h1.4v1.4h-1.4zM396.37 126.66h1.4v1.4h-1.4zM399.2 107.26h1.4v1.4h-1.4zM395.49 69.54h1.4v1.4h-1.4zM398.05 116.88h1.4v1.4h-1.4zM399.93 82.76h1.4v1.4h-1.4zM394.3 94.79h1.4v1.4h-1.4zM400.65 69.56h1.4v1.4h-1.4zM399.45 70.17h1.4v1.4h-1.4zM395.78 61.81h1.4v1.4h-1.4zM395.66 85.31h1.4v1.4h-1.4zM401.42 126.6h1.4v1.4h-1.4zM394.71 80.06h1.4v1.4h-1.4zM401.22 72.07h1.4v1.4h-1.4zM395.86 89.25h1.4v1.4h-1.4zM394.03 76.55h1.4v1.4h-1.4zM396.49 85.49h1.4v1.4h-1.4zM401.39 77.03h1.4v1.4h-1.4zM394.85 122.8h1.4v1.4h-1.4zM396.97 117.69h1.4v1.4h-1.4zM398.58 113.52h1.4v1.4h-1.4zM395.81 68.84h1.4v1.4h-1.4zM399.61 91.53h1.4v1.4h-1.4zM397.91 105.81h1.4v1.4h-1.4zM399.57 77.64h1.4v1.4h-1.4zM396.22 123.42h1.4v1.4h-1.4zM397.65 78.56h1.4v1.4h-1.4zM398.52 76.52h1.4v1.4h-1.4zM399.73 60.95h1.4v1.4h-1.4zM400.21 98.39h1.4v1.4h-1.4zM396.14 125.02h1.4v1.4h-1.4zM395.38 75.35h1.4v1.4h-1.4zM393.7 97.11h1.4v1.4h-1.4zM399.58 106.35h1.4v1.4h-1.4zM396.65 115.59h1.4v1.4h-1.4zM394.06 79.89h1.4v1.4h-1.4zM398.65 126.97h1.4v1.4h-1.4zM398.55 107.34h1.4v1.4h-1.4zM399.76 86.13h1.4v1.4h-1.4zM401.19 110.94h1.4v1.4h-1.4zM396.04 85.99h1.4v1.4h-1.4zM400.03 82.94h1.4v1.4h-1.4zM394.7 120.15h1.4v1.4h-1.4zM397.67 95.16h1.4v1.4h-1.4zM398.86 122.28h1.4v1.4h-1.4zM394.25 82.15h1.4v1.4h-1.4zM393.67 87.46h1.4v1.4h-1.4zM397.42 118.74h1.4v1.4h-1.4zM398.84 99.2h1.4v1.4h-1.4zM396.57 98.91h1.4v1.4h-1.4zM395.45 118.23h1.4v1.4h-1.4zM399.88 117.78h1.4v1.4h-1.4zM394.4 105.88h1.4v1.4h-1.4zM399.59 93.69h1.4v1.4h-1.4zM400.83 122.09h1.4v1.4h-1.4zM399.49 116.54h1.4v1.4h-1.4zM398.68 120.65h1.4v1.4h-1.4zM394.23 108.2h1.4v1.4h-1.4zM399.15 101.66h1.4v1.4h-1.4zM395.47 62.8h1.4v1.4h-1.4zM398.29 116.77h1.4v1.4h-1.4zM395.45 73.19h1.4v1.4h-1.4zM395.03 64.69h1.4v1.4h-1.4zM398.91 127.5h1.4v1.4h-1.4zM400 83.65h1.4v1.4h-1.4zM399.12 63.15h1.4v1.4h-1.4zM400.31 81.18h1.4v1.4h-1.4zM393.13 102.86h1.4v1.4h-1.4zM394.29 77.61h1.4v1.4h-1.4zM393.61 89.78h1.4v1.4h-1.4zM397.87 115.57h1.4v1.4h-1.4zM393.44 116.99h1.4v1.4h-1.4zM394.05 74h1.4v1.4h-1.4zM398.51 82.25h1.4v1.4h-1.4zM395.95 98.53h1.4v1.4h-1.4zM394.97 114.57h1.4v1.4h-1.4zM394.9 117.85h1.4v1.4h-1.4zM400.06 96.29h1.4v1.4h-1.4zM393.36 113.48h1.4v1.4h-1.4zM393.34 93.98h1.4v1.4h-1.4zM396.75 62.5h1.4v1.4h-1.4zM398.52 109.66h1.4v1.4h-1.4zM398.13 86.53h1.4v1.4h-1.4zM397.5 99.98h1.4v1.4h-1.4zM395.05 119.86h1.4v1.4h-1.4zM401.66 115.34h1.4v1.4h-1.4zM401.37 81.49h1.4v1.4h-1.4zM401.58 63.09h1.4v1.4h-1.4zM397.21 67.54h1.4v1.4h-1.4zM397 106.67h1.4v1.4h-1.4zM399.19 90.42h1.4v1.4h-1.4zM396.04 71.54h1.4v1.4h-1.4zM396.56 78.15h1.4v1.4h-1.4zM394.77 110.48h1.4v1.4h-1.4zM397.54 89.27h1.4v1.4h-1.4zM394.8 108.18h1.4v1.4h-1.4zM394.79 76.94h1.4v1.4h-1.4zM397.92 108h1.4v1.4h-1.4zM401.47 111.31h1.4v1.4h-1.4zM401.26 123.59h1.4v1.4h-1.4zM399.31 109.3h1.4v1.4h-1.4zM393.64 72.66h1.4v1.4h-1.4zM393.21 119.57h1.4v1.4h-1.4zM399.31 102.93h1.4v1.4h-1.4zM395.37 83.34h1.4v1.4h-1.4zM394.51 103.08h1.4v1.4h-1.4zM401.63 79.8h1.4v1.4h-1.4zM393.48 70.49h1.4v1.4h-1.4zM396.16 122.1h1.4v1.4h-1.4zM400.02 90.45h1.4v1.4h-1.4zM393.98 65.61h1.4v1.4h-1.4zM394.42 113.43h1.4v1.4h-1.4zM397.15 128.63h1.4v1.4h-1.4zM400.94 114.67h1.4v1.4h-1.4zM397.2 116.6h1.4v1.4h-1.4zM394.2 65.76h1.4v1.4h-1.4zM397.95 94.22h1.4v1.4h-1.4zM394.9 75.96h1.4v1.4h-1.4zM393.28 122.8h1.4v1.4h-1.4zM399.21 125.4h1.4v1.4h-1.4zM401.53 89.14h1.4v1.4h-1.4zM399.4 85.39h1.4v1.4h-1.4zM400.08 117.99h1.4v1.4h-1.4zM394.25 58.92h1.4v1.4h-1.4zM394.94 99.74h1.4v1.4h-1.4zM396.36 58.65h1.4v1.4h-1.4zM400.24 114.04h1.4v1.4h-1.4zM397.09 61.08h1.4v1.4h-1.4zM400.75 96.09h1.4v1.4h-1.4zM393.71 81.06h1.4v1.4h-1.4zM398.47 121.12h1.4v1.4h-1.4zM397.27 103.59h1.4v1.4h-1.4zM394.87 75.36h1.4v1.4h-1.4zM400.89 85.28h1.4v1.4h-1.4zM393.99 100.15h1.4v1.4h-1.4zM394.19 72.25h1.4v1.4h-1.4zM397.03 99.75h1.4v1.4h-1.4zM398.57 108.41h1.4v1.4h-1.4zM396.88 62.82h1.4v1.4h-1.4zM399.33 61.83h1.4v1.4h-1.4zM397.15 86.54h1.4v1.4h-1.4zM398.89 108.89h1.4v1.4h-1.4zM395.16 104.31h1.4v1.4h-1.4zM399.05 91.63h1.4v1.4h-1.4zM394.32 122.81h1.4v1.4h-1.4zM398.25 62.47h1.4v1.4h-1.4zM395.15 128.36h1.4v1.4h-1.4zM395.07 85.97h1.4v1.4h-1.4zM399.88 116.74h1.4v1.4h-1.4zM398.55 110.88h1.4v1.4h-1.4zM393.43 64.69h1.4v1.4h-1.4zM401.49 115.23h1.4v1.4h-1.4zM393.43 61.47h1.4v1.4h-1.4zM395.17 124.36h1.4v1.4h-1.4zM394.99 105.91h1.4v1.4h-1.4zM401.1 103.53h1.4v1.4h-1.4zM401.01 76.75h1.4v1.4h-1.4zM394.42 59.3h1.4v1.4h-1.4zM399.61 65.4h1.4v1.4h-1.4zM401.47 108.62h1.4v1.4h-1.4zM394.71 115.54h1.4v1.4h-1.4zM394.5 94.51h1.4v1.4h-1.4zM394.01 114.11h1.4v1.4h-1.4zM400.75 123.34h1.4v1.4h-1.4zM393.12 118.71h1.4v1.4h-1.4zM397.88 116.56h1.4v1.4h-1.4zM397.42 102.19h1.4v1.4h-1.4zM398.21 115h1.4v1.4h-1.4zM393.77 61.87h1.4v1.4h-1.4zM397.79 78.75h1.4v1.4h-1.4zM396.51 58.54h1.4v1.4h-1.4zM399.51 59.72h1.4v1.4h-1.4zM400.24 115.86h1.4v1.4h-1.4zM397.04 130.89h1.4v1.4h-1.4zM398.69 131.99h1.4v1.4h-1.4zM396.79 130.74h1.4v1.4h-1.4zM401.5 136.4h1.4v1.4h-1.4zM396.13 130.52h1.4v1.4h-1.4zM399.38 140.35h1.4v1.4h-1.4zM400.4 142.97h1.4v1.4h-1.4zM396.26 144.3h1.4v1.4h-1.4zM399.66 143.28h1.4v1.4h-1.4zM398.32 148.76h1.4v1.4h-1.4zM399.71 142.35h1.4v1.4h-1.4zM393.74 143.05h1.4v1.4h-1.4zM399.06 146.25h1.4v1.4h-1.4zM397.57 145.31h1.4v1.4h-1.4zM396.6 146.33h1.4v1.4h-1.4zM398.68 148.35h1.4v1.4h-1.4zM399.4 147.56h1.4v1.4h-1.4zM400.95 147.83h1.4v1.4h-1.4zM399.26 142.5h1.4v1.4h-1.4zM398.96 147.91h1.4v1.4h-1.4zM396.8 148.1h1.4v1.4h-1.4zM394.65 148.52h1.4v1.4h-1.4zM396.9 146.96h1.4v1.4h-1.4zM395.27 144.28h1.4v1.4h-1.4zM396.1 144.44h1.4v1.4h-1.4zM393.91 145.22h1.4v1.4h-1.4zM401.54 146.62h1.4v1.4h-1.4zM401.12 147.33h1.4v1.4h-1.4zM400.3 148.86h1.4v1.4h-1.4zM399.57 144.11h1.4v1.4h-1.4zM395.25 145.02h1.4v1.4h-1.4zM393.28 143.82h1.4v1.4h-1.4zM400.72 148.38h1.4v1.4h-1.4zM395.93 147.38h1.4v1.4h-1.4zM399.76 148.17h1.4v1.4h-1.4zM399.93 145.81h1.4v1.4h-1.4z" fill="#c8143c"/>
<line x1="398.1" y1="58.7" x2="398.1" y2="83.7" stroke="#c8143c" stroke-width="1.35"/>
<line x1="398.1" y1="113.1" x2="398.1" y2="149.6" stroke="#c8143c" stroke-width="1.35"/>
<rect x="386.4" y="83.7" width="23.4" height="29.4" stroke="#c8143c" stroke-width="1.35" fill="none"/>
<line x1="386.4" y1="96.5" x2="409.8" y2="96.5" stroke="#c8143c" stroke-width="1.35"/>
<path d="M423.88 67.33h1.4v1.4h-1.4zM425.63 65.08h1.4v1.4h-1.4zM426.08 64.07h1.4v1.4h-1.4zM431.11 59.82h1.4v1.4h-1.4zM427.46 65.34h1.4v1.4h-1.4zM427.52 68.6h1.4v1.4h-1.4zM426.42 68.33h1.4v1.4h-1.4zM428.79 68.93h1.4v1.4h-1.4zM423.75 60.4h1.4v1.4h-1.4zM425.41 68.24h1.4v1.4h-1.4zM423.11 60.94h1.4v1.4h-1.4zM429.01 69.18h1.4v1.4h-1.4zM424.48 93.39h1.4v1.4h-1.4zM428.77 107.29h1.4v1.4h-1.4zM429.27 110.72h1.4v1.4h-1.4zM425.09 83.44h1.4v1.4h-1.4zM423.23 107.31h1.4v1.4h-1.4zM424.76 83.57h1.4v1.4h-1.4zM431.1 104.68h1.4v1.4h-1.4zM427.97 105.39h1.4v1.4h-1.4zM428.02 107.52h1.4v1.4h-1.4zM425.55 72.82h1.4v1.4h-1.4zM423.56 70.1h1.4v1.4h-1.4zM426.04 77.12h1.4v1.4h-1.4zM423.95 96.45h1.4v1.4h-1.4zM431.14 107.11h1.4v1.4h-1.4zM425.3 111.62h1.4v1.4h-1.4zM424.49 74.8h1.4v1.4h-1.4zM425.55 91.79h1.4v1.4h-1.4zM428.79 93.77h1.4v1.4h-1.4zM429.12 74.52h1.4v1.4h-1.4zM430.83 88.13h1.4v1.4h-1.4zM429.99 70.99h1.4v1.4h-1.4zM429.96 81.74h1.4v1.4h-1.4zM430.18 113.46h1.4v1.4h-1.4zM428.63 84.57h1.4v1.4h-1.4zM423.08 79.75h1.4v1.4h-1.4zM430.6 77.99h1.4v1.4h-1.4zM428.54 101.58h1.4v1.4h-1.4zM428.55 79.23h1.4v1.4h-1.4zM424.21 74.64h1.4v1.4h-1.4zM431.25 90.37h1.4v1.4h-1.4zM428.48 100.63h1.4v1.4h-1.4zM424.88 72.86h1.4v1.4h-1.4zM423.12 116.19h1.4v1.4h-1.4zM424.09 122.27h1.4v1.4h-1.4zM426.05 109.05h1.4v1.4h-1.4zM424.16 112.64h1.4v1.4h-1.4zM425.11 89.44h1.4v1.4h-1.4zM427.39 75.43h1.4v1.4h-1.4zM425.09 113.08h1.4v1.4h-1.4zM425.4 90.24h1.4v1.4h-1.4zM429.42 81.62h1.4v1.4h-1.4zM424.63 81.35h1.4v1.4h-1.4zM426.23 89.39h1.4v1.4h-1.4zM428.39 95.25h1.4v1.4h-1.4zM430.31 72.08h1.4v1.4h-1.4zM428.57 115.3h1.4v1.4h-1.4zM424.97 70.92h1.4v1.4h-1.4zM426.68 75.67h1.4v1.4h-1.4zM426.86 108.43h1.4v1.4h-1.4zM423.79 75.78h1.4v1.4h-1.4zM427.03 78.86h1.4v1.4h-1.4zM424.94 93.51h1.4v1.4h-1.4zM423.99 73.03h1.4v1.4h-1.4zM426.03 95.1h1.4v1.4h-1.4zM430.87 99.81h1.4v1.4h-1.4zM423.6 81.53h1.4v1.4h-1.4zM429.25 100.26h1.4v1.4h-1.4zM430.31 122.24h1.4v1.4h-1.4zM430.21 75.35h1.4v1.4h-1.4zM430.93 98.17h1.4v1.4h-1.4zM425.01 78.69h1.4v1.4h-1.4zM430.26 80.98h1.4v1.4h-1.4zM423.7 83.89h1.4v1.4h-1.4zM430.76 94.65h1.4v1.4h-1.4zM429.14 73.39h1.4v1.4h-1.4zM426.81 86.78h1.4v1.4h-1.4zM424.72 105.76h1.4v1.4h-1.4zM426.03 75.88h1.4v1.4h-1.4zM431.27 95.79h1.4v1.4h-1.4zM424.51 69.9h1.4v1.4h-1.4zM428.48 97.61h1.4v1.4h-1.4zM423.21 95.17h1.4v1.4h-1.4zM429.22 98.84h1.4v1.4h-1.4zM424.97 96.74h1.4v1.4h-1.4zM428.08 105.11h1.4v1.4h-1.4zM424.22 113.5h1.4v1.4h-1.4zM430.94 110.02h1.4v1.4h-1.4zM430.2 89.52h1.4v1.4h-1.4zM430.58 79.3h1.4v1.4h-1.4zM424.91 102.19h1.4v1.4h-1.4zM430.57 73.81h1.4v1.4h-1.4zM424.82 71.27h1.4v1.4h-1.4zM426.69 77.03h1.4v1.4h-1.4zM424.61 110.49h1.4v1.4h-1.4zM427.9 120.97h1.4v1.4h-1.4zM426.38 106.65h1.4v1.4h-1.4zM423.11 121.46h1.4v1.4h-1.4zM424.96 95.54h1.4v1.4h-1.4zM427.3 121.46h1.4v1.4h-1.4zM427.13 123.85h1.4v1.4h-1.4zM428.22 81.2h1.4v1.4h-1.4zM430 80.4h1.4v1.4h-1.4zM431.4 94.41h1.4v1.4h-1.4zM424.9 122.17h1.4v1.4h-1.4zM425.7 91.68h1.4v1.4h-1.4zM425.88 106.08h1.4v1.4h-1.4zM423.19 89.87h1.4v1.4h-1.4zM424.36 114.84h1.4v1.4h-1.4zM423 102.71h1.4v1.4h-1.4zM425.17 94.28h1.4v1.4h-1.4zM427.72 108.45h1.4v1.4h-1.4zM424.16 82.52h1.4v1.4h-1.4zM424.01 122.11h1.4v1.4h-1.4zM424.25 76.84h1.4v1.4h-1.4zM427.39 101.28h1.4v1.4h-1.4zM430.45 72.43h1.4v1.4h-1.4zM424.97 78.51h1.4v1.4h-1.4zM427.92 94.18h1.4v1.4h-1.4zM426.44 118.16h1.4v1.4h-1.4zM428.56 116.61h1.4v1.4h-1.4zM431.04 84.09h1.4v1.4h-1.4zM430.91 91.73h1.4v1.4h-1.4zM423.43 119.61h1.4v1.4h-1.4zM423.87 70.26h1.4v1.4h-1.4zM425.43 85.19h1.4v1.4h-1.4zM431.12 117.17h1.4v1.4h-1.4zM426.53 98.42h1.4v1.4h-1.4zM430.13 113.69h1.4v1.4h-1.4zM428.49 97.5h1.4v1.4h-1.4zM423.98 82.71h1.4v1.4h-1.4zM428.53 101.55h1.4v1.4h-1.4zM429.73 118.73h1.4v1.4h-1.4zM431.08 79.9h1.4v1.4h-1.4zM423.64 118.66h1.4v1.4h-1.4zM427.79 79.28h1.4v1.4h-1.4zM428.81 83.36h1.4v1.4h-1.4zM424.99 89.44h1.4v1.4h-1.4zM427.4 106.56h1.4v1.4h-1.4zM423.62 110.07h1.4v1.4h-1.4zM428.24 95.24h1.4v1.4h-1.4zM428.65 113.28h1.4v1.4h-1.4zM423.08 95.44h1.4v1.4h-1.4zM428.69 108.3h1.4v1.4h-1.4zM428.44 79.21h1.4v1.4h-1.4zM431.05 112.51h1.4v1.4h-1.4zM424.96 92.99h1.4v1.4h-1.4zM431.05 80.69h1.4v1.4h-1.4zM426.44 122.19h1.4v1.4h-1.4zM430.56 82.09h1.4v1.4h-1.4zM429.18 89.08h1.4v1.4h-1.4zM428.57 111.48h1.4v1.4h-1.4zM424.07 81.54h1.4v1.4h-1.4zM424.81 83.93h1.4v1.4h-1.4zM423.3 76.78h1.4v1.4h-1.4zM426.41 92.44h1.4v1.4h-1.4zM423.65 101.33h1.4v1.4h-1.4zM430.92 101.03h1.4v1.4h-1.4zM425.99 108.04h1.4v1.4h-1.4zM426.67 78.95h1.4v1.4h-1.4zM427.05 70.27h1.4v1.4h-1.4zM428.68 78.15h1.4v1.4h-1.4zM426.11 122.24h1.4v1.4h-1.4zM429.44 115.25h1.4v1.4h-1.4zM428.39 104.2h1.4v1.4h-1.4zM428.92 122.45h1.4v1.4h-1.4zM424.65 111.44h1.4v1.4h-1.4zM425.53 83.37h1.4v1.4h-1.4zM429.9 102.36h1.4v1.4h-1.4zM430.14 117.43h1.4v1.4h-1.4zM427.95 80.21h1.4v1.4h-1.4zM423.13 98.72h1.4v1.4h-1.4zM429.1 84.28h1.4v1.4h-1.4zM423.59 69.56h1.4v1.4h-1.4zM424.46 107.57h1.4v1.4h-1.4zM423.03 81.95h1.4v1.4h-1.4zM425.23 108.41h1.4v1.4h-1.4zM431.29 70.36h1.4v1.4h-1.4zM423.96 120.7h1.4v1.4h-1.4zM431.15 77.47h1.4v1.4h-1.4zM425.82 98.03h1.4v1.4h-1.4zM425.69 92.26h1.4v1.4h-1.4zM427.02 83.52h1.4v1.4h-1.4zM423.46 73.92h1.4v1.4h-1.4zM424.36 74.33h1.4v1.4h-1.4zM428.24 107.61h1.4v1.4h-1.4zM425.21 112.85h1.4v1.4h-1.4zM429.12 88.09h1.4v1.4h-1.4zM427.13 79.66h1.4v1.4h-1.4zM430.8 100.12h1.4v1.4h-1.4zM423.43 77.77h1.4v1.4h-1.4zM428.82 90.49h1.4v1.4h-1.4zM429.02 81.92h1.4v1.4h-1.4zM429.7 113.41h1.4v1.4h-1.4zM423.79 101.54h1.4v1.4h-1.4zM424.61 108.23h1.4v1.4h-1.4zM429.75 112.82h1.4v1.4h-1.4zM424.94 74.43h1.4v1.4h-1.4zM428.57 100.38h1.4v1.4h-1.4zM424.16 79.9h1.4v1.4h-1.4zM427.89 75.23h1.4v1.4h-1.4zM428.33 82.55h1.4v1.4h-1.4zM425.17 92.59h1.4v1.4h-1.4zM427.48 109.14h1.4v1.4h-1.4zM423.26 109.14h1.4v1.4h-1.4zM424.86 85.29h1.4v1.4h-1.4zM428.37 107.32h1.4v1.4h-1.4zM428.16 118.9h1.4v1.4h-1.4zM424.72 86.41h1.4v1.4h-1.4zM428.57 83.64h1.4v1.4h-1.4zM424.32 81.75h1.4v1.4h-1.4zM429.48 114.78h1.4v1.4h-1.4zM429.02 122.03h1.4v1.4h-1.4zM429.67 86.33h1.4v1.4h-1.4zM425.65 108.97h1.4v1.4h-1.4zM423.47 102.81h1.4v1.4h-1.4zM423.75 72h1.4v1.4h-1.4zM427.32 77.62h1.4v1.4h-1.4zM430.83 117.55h1.4v1.4h-1.4zM426.88 80.17h1.4v1.4h-1.4zM424 97.17h1.4v1.4h-1.4zM427.38 89.26h1.4v1.4h-1.4zM429.02 98.41h1.4v1.4h-1.4zM429.51 75.14h1.4v1.4h-1.4zM423.59 90.59h1.4v1.4h-1.4zM427.06 83.19h1.4v1.4h-1.4zM428.62 81.5h1.4v1.4h-1.4zM425.67 95.53h1.4v1.4h-1.4zM428.98 111.67h1.4v1.4h-1.4zM426.12 93.88h1.4v1.4h-1.4zM430.79 120.67h1.4v1.4h-1.4zM428.2 75.07h1.4v1.4h-1.4zM426.83 104.32h1.4v1.4h-1.4zM425.34 71.36h1.4v1.4h-1.4zM431.24 119.33h1.4v1.4h-1.4zM424.08 94.92h1.4v1.4h-1.4zM428.2 85.8h1.4v1.4h-1.4zM423.58 110.59h1.4v1.4h-1.4zM429.47 93.35h1.4v1.4h-1.4zM423.72 90.96h1.4v1.4h-1.4zM423.79 122.29h1.4v1.4h-1.4zM423.43 130.35h1.4v1.4h-1.4zM429.45 127.14h1.4v1.4h-1.4zM423.9 125.78h1.4v1.4h-1.4zM424.38 135.47h1.4v1.4h-1.4zM430 127.85h1.4v1.4h-1.4zM424.46 140.36h1.4v1.4h-1.4zM426.58 131.4h1.4v1.4h-1.4zM424.04 129.4h1.4v1.4h-1.4zM431.16 126.76h1.4v1.4h-1.4zM425.18 139.85h1.4v1.4h-1.4zM430.49 143.29h1.4v1.4h-1.4zM426.97 144.38h1.4v1.4h-1.4zM428.07 130.36h1.4v1.4h-1.4zM426.91 139.34h1.4v1.4h-1.4zM429.17 145.77h1.4v1.4h-1.4zM424.63 148.75h1.4v1.4h-1.4zM423.9 148.23h1.4v1.4h-1.4zM425.85 146.19h1.4v1.4h-1.4zM425.14 146.99h1.4v1.4h-1.4zM431.32 145.83h1.4v1.4h-1.4zM430.18 146.46h1.4v1.4h-1.4zM424.45 147.98h1.4v1.4h-1.4zM425.87 145.98h1.4v1.4h-1.4zM426.51 148.26h1.4v1.4h-1.4zM430.25 147.37h1.4v1.4h-1.4zM423.09 148.05h1.4v1.4h-1.4zM428.09 148.54h1.4v1.4h-1.4zM431 146.48h1.4v1.4h-1.4z" fill="#17538d"/>
<line x1="427.9" y1="58.7" x2="427.9" y2="95.2" stroke="#17538d" stroke-width="1.35"/>
<line x1="427.9" y1="117.3" x2="427.9" y2="149.6" stroke="#17538d" stroke-width="1.35"/>
<rect x="416.3" y="95.2" width="23.2" height="22.1" stroke="#17538d" stroke-width="1.35" fill="none"/>
<line x1="416.3" y1="107.1" x2="439.5" y2="107.1" stroke="#17538d" stroke-width="1.35"/>
<path d="M460.4 77.71h1.4v1.4h-1.4zM455.39 73.72h1.4v1.4h-1.4zM456.32 73.61h1.4v1.4h-1.4zM456.35 71.47h1.4v1.4h-1.4zM455.05 78.5h1.4v1.4h-1.4zM456.63 76.1h1.4v1.4h-1.4zM460.73 77.15h1.4v1.4h-1.4zM455.2 78.59h1.4v1.4h-1.4zM460.02 79.22h1.4v1.4h-1.4zM459.36 77.14h1.4v1.4h-1.4zM460.09 93.23h1.4v1.4h-1.4zM458.74 100.24h1.4v1.4h-1.4zM460.32 86.65h1.4v1.4h-1.4zM457.74 97.8h1.4v1.4h-1.4zM460.16 98.29h1.4v1.4h-1.4zM460.36 125.93h1.4v1.4h-1.4zM460.66 86.95h1.4v1.4h-1.4zM461.17 120.23h1.4v1.4h-1.4zM458.92 115.19h1.4v1.4h-1.4zM453.51 127.16h1.4v1.4h-1.4zM457.81 104.36h1.4v1.4h-1.4zM456.02 122.36h1.4v1.4h-1.4zM459.83 127.14h1.4v1.4h-1.4zM454.94 98.02h1.4v1.4h-1.4zM455.24 84.82h1.4v1.4h-1.4zM455.91 80.73h1.4v1.4h-1.4zM459.95 91.79h1.4v1.4h-1.4zM453.71 83.02h1.4v1.4h-1.4zM459.47 90.21h1.4v1.4h-1.4zM457.07 101.4h1.4v1.4h-1.4zM460 131.77h1.4v1.4h-1.4zM455.76 114.08h1.4v1.4h-1.4zM460.79 105.18h1.4v1.4h-1.4zM460.84 119.66h1.4v1.4h-1.4zM455.78 127.37h1.4v1.4h-1.4zM458.03 85.12h1.4v1.4h-1.4zM458.15 124.91h1.4v1.4h-1.4zM457.56 105.92h1.4v1.4h-1.4zM456.68 127.73h1.4v1.4h-1.4zM458.82 90.74h1.4v1.4h-1.4zM456.22 99.28h1.4v1.4h-1.4zM461.34 117.57h1.4v1.4h-1.4zM454.17 129.59h1.4v1.4h-1.4zM453.4 111.8h1.4v1.4h-1.4zM456.82 118.76h1.4v1.4h-1.4zM456.79 84.38h1.4v1.4h-1.4zM457.6 124.42h1.4v1.4h-1.4zM459.88 98.91h1.4v1.4h-1.4zM455.01 120.26h1.4v1.4h-1.4zM459.99 91.35h1.4v1.4h-1.4zM460.69 133.88h1.4v1.4h-1.4zM456.83 100.23h1.4v1.4h-1.4zM459.2 130.44h1.4v1.4h-1.4zM454.83 95.9h1.4v1.4h-1.4zM455.93 119.57h1.4v1.4h-1.4zM454.71 109.38h1.4v1.4h-1.4zM457.4 116.06h1.4v1.4h-1.4zM454.33 131.92h1.4v1.4h-1.4zM461.7 110.16h1.4v1.4h-1.4zM459.94 89.38h1.4v1.4h-1.4zM460.93 109.63h1.4v1.4h-1.4zM459.63 127.07h1.4v1.4h-1.4zM456.21 130.12h1.4v1.4h-1.4zM454.88 80.59h1.4v1.4h-1.4zM457.42 128.73h1.4v1.4h-1.4zM460.84 131.82h1.4v1.4h-1.4zM457.49 130.59h1.4v1.4h-1.4zM457.92 87.2h1.4v1.4h-1.4zM458.53 123.49h1.4v1.4h-1.4zM456.75 112.42h1.4v1.4h-1.4zM455.33 94.48h1.4v1.4h-1.4zM456.71 107.53h1.4v1.4h-1.4zM457.13 84.38h1.4v1.4h-1.4zM453.15 98.01h1.4v1.4h-1.4zM459.27 120.46h1.4v1.4h-1.4zM455.14 93.36h1.4v1.4h-1.4zM457.54 88.95h1.4v1.4h-1.4zM458.29 129.03h1.4v1.4h-1.4zM454.84 111.5h1.4v1.4h-1.4zM459.3 120.51h1.4v1.4h-1.4zM459.22 118.38h1.4v1.4h-1.4zM455.44 125.41h1.4v1.4h-1.4zM461.06 82.19h1.4v1.4h-1.4zM461.22 103.64h1.4v1.4h-1.4zM453.84 83.13h1.4v1.4h-1.4zM459.95 116.57h1.4v1.4h-1.4zM454.32 104.6h1.4v1.4h-1.4zM458.59 134.17h1.4v1.4h-1.4zM455.99 121.46h1.4v1.4h-1.4zM455.21 90.24h1.4v1.4h-1.4zM454.49 101.86h1.4v1.4h-1.4zM458.42 95.98h1.4v1.4h-1.4zM454.49 91.32h1.4v1.4h-1.4zM453.83 89.92h1.4v1.4h-1.4zM455.82 107.05h1.4v1.4h-1.4zM454.68 105.68h1.4v1.4h-1.4zM456.88 132.81h1.4v1.4h-1.4zM457.28 131.26h1.4v1.4h-1.4zM457.15 90.19h1.4v1.4h-1.4zM458.19 87.26h1.4v1.4h-1.4zM454.56 83.33h1.4v1.4h-1.4zM459.13 132.48h1.4v1.4h-1.4zM456.57 98.78h1.4v1.4h-1.4zM456.76 98.66h1.4v1.4h-1.4zM459.04 100.86h1.4v1.4h-1.4zM454.41 126.84h1.4v1.4h-1.4zM458.02 79.65h1.4v1.4h-1.4zM460.41 119.37h1.4v1.4h-1.4zM456.15 113.95h1.4v1.4h-1.4zM461.01 101.39h1.4v1.4h-1.4zM456.82 95.7h1.4v1.4h-1.4zM457.87 115.75h1.4v1.4h-1.4zM459.42 131.51h1.4v1.4h-1.4zM454.35 99.42h1.4v1.4h-1.4zM460.42 122.81h1.4v1.4h-1.4zM458.17 116.55h1.4v1.4h-1.4zM456.02 131.27h1.4v1.4h-1.4zM457.82 101.44h1.4v1.4h-1.4zM454.67 85.65h1.4v1.4h-1.4zM460.82 123.33h1.4v1.4h-1.4zM453.33 97.08h1.4v1.4h-1.4zM457.22 106.56h1.4v1.4h-1.4zM456.23 128.53h1.4v1.4h-1.4zM456.11 108.56h1.4v1.4h-1.4zM461.09 114.45h1.4v1.4h-1.4zM457.2 97.59h1.4v1.4h-1.4zM456.43 112.8h1.4v1.4h-1.4zM459.86 93.63h1.4v1.4h-1.4zM456.29 100.62h1.4v1.4h-1.4zM456.22 129.51h1.4v1.4h-1.4zM457.73 94.47h1.4v1.4h-1.4zM455.96 124.48h1.4v1.4h-1.4zM454.48 117.25h1.4v1.4h-1.4zM453.29 89.92h1.4v1.4h-1.4zM453.61 123.61h1.4v1.4h-1.4zM454.36 91.84h1.4v1.4h-1.4zM453.6 93.81h1.4v1.4h-1.4zM459.41 118.91h1.4v1.4h-1.4zM460.93 131.38h1.4v1.4h-1.4zM457.84 130.01h1.4v1.4h-1.4zM453.87 130.18h1.4v1.4h-1.4zM456.83 89.91h1.4v1.4h-1.4zM459.53 126.52h1.4v1.4h-1.4zM456.42 84.42h1.4v1.4h-1.4zM460.61 120.74h1.4v1.4h-1.4zM458.23 133.02h1.4v1.4h-1.4zM453.43 82.38h1.4v1.4h-1.4zM454.17 80.5h1.4v1.4h-1.4zM459.19 113.96h1.4v1.4h-1.4zM454.07 88.21h1.4v1.4h-1.4zM454.66 112.81h1.4v1.4h-1.4zM458.88 132.63h1.4v1.4h-1.4zM456.2 133.15h1.4v1.4h-1.4zM456.84 100.8h1.4v1.4h-1.4zM455.28 92.1h1.4v1.4h-1.4zM461.48 134.02h1.4v1.4h-1.4zM459.17 88.93h1.4v1.4h-1.4zM454.65 87.67h1.4v1.4h-1.4zM456.12 119.84h1.4v1.4h-1.4zM453.61 108.46h1.4v1.4h-1.4zM458.95 81.15h1.4v1.4h-1.4zM456.88 122.8h1.4v1.4h-1.4zM458.05 104.14h1.4v1.4h-1.4zM460.68 112.36h1.4v1.4h-1.4zM456 101.08h1.4v1.4h-1.4zM461.21 126.57h1.4v1.4h-1.4zM460.97 110.14h1.4v1.4h-1.4zM454.33 88.93h1.4v1.4h-1.4zM456.4 117.29h1.4v1.4h-1.4zM453.14 123.41h1.4v1.4h-1.4zM459.86 107.62h1.4v1.4h-1.4zM453.15 123.19h1.4v1.4h-1.4zM456.66 116.11h1.4v1.4h-1.4zM458 119.36h1.4v1.4h-1.4zM456.62 132.1h1.4v1.4h-1.4zM461.32 130.39h1.4v1.4h-1.4zM458.39 96.7h1.4v1.4h-1.4zM456.34 94.09h1.4v1.4h-1.4zM460.87 122.87h1.4v1.4h-1.4zM459.88 124.47h1.4v1.4h-1.4zM461.62 117.14h1.4v1.4h-1.4zM455.84 120.97h1.4v1.4h-1.4zM455.36 112.9h1.4v1.4h-1.4zM454.46 126.47h1.4v1.4h-1.4zM457.3 94.43h1.4v1.4h-1.4zM461.04 83.86h1.4v1.4h-1.4zM461.1 120.93h1.4v1.4h-1.4zM454.38 121.16h1.4v1.4h-1.4zM458.03 129.2h1.4v1.4h-1.4zM458.14 102.8h1.4v1.4h-1.4zM461.13 84.1h1.4v1.4h-1.4zM459.78 84.96h1.4v1.4h-1.4zM455.48 85.55h1.4v1.4h-1.4zM460.59 103.6h1.4v1.4h-1.4zM459.35 93.41h1.4v1.4h-1.4zM459.38 114.98h1.4v1.4h-1.4zM453.94 106.46h1.4v1.4h-1.4zM459.31 91.1h1.4v1.4h-1.4zM458.73 94.58h1.4v1.4h-1.4zM456.29 129.9h1.4v1.4h-1.4zM461.21 134.18h1.4v1.4h-1.4zM456.77 110.75h1.4v1.4h-1.4zM460.05 121.02h1.4v1.4h-1.4zM457.02 126.8h1.4v1.4h-1.4zM456.55 131.55h1.4v1.4h-1.4zM457.17 85.82h1.4v1.4h-1.4zM459.54 87.27h1.4v1.4h-1.4zM458.94 82.24h1.4v1.4h-1.4zM461.6 109.05h1.4v1.4h-1.4zM459.47 86.51h1.4v1.4h-1.4zM458.58 139.19h1.4v1.4h-1.4zM455.24 144.89h1.4v1.4h-1.4zM453.39 140.51h1.4v1.4h-1.4zM453.85 145.37h1.4v1.4h-1.4zM460.78 134.75h1.4v1.4h-1.4zM457.1 140.4h1.4v1.4h-1.4zM459.28 143.78h1.4v1.4h-1.4zM456.05 146.43h1.4v1.4h-1.4zM454.69 136.08h1.4v1.4h-1.4zM460.11 135.86h1.4v1.4h-1.4zM454.7 140.8h1.4v1.4h-1.4zM455.99 136.43h1.4v1.4h-1.4zM461.1 140.46h1.4v1.4h-1.4zM459.86 137.55h1.4v1.4h-1.4zM460.95 137.18h1.4v1.4h-1.4zM460.9 142.27h1.4v1.4h-1.4zM461.45 144.33h1.4v1.4h-1.4zM458.53 141.23h1.4v1.4h-1.4zM460.45 140.07h1.4v1.4h-1.4zM453.95 146.18h1.4v1.4h-1.4zM460.03 143.17h1.4v1.4h-1.4zM459.5 137.32h1.4v1.4h-1.4zM457.08 145h1.4v1.4h-1.4zM461.37 146.3h1.4v1.4h-1.4zM454.48 143.19h1.4v1.4h-1.4zM457.87 139.57h1.4v1.4h-1.4zM454.54 136.08h1.4v1.4h-1.4zM457.14 140.71h1.4v1.4h-1.4z" fill="#c8143c"/>
<line x1="458.1" y1="71.2" x2="458.1" y2="93.8" stroke="#c8143c" stroke-width="1.35"/>
<line x1="458.1" y1="115.4" x2="458.1" y2="148" stroke="#c8143c" stroke-width="1.35"/>
<rect x="446.5" y="93.8" width="23.2" height="21.6" stroke="#c8143c" stroke-width="1.35" fill="none"/>
<line x1="446.5" y1="107.3" x2="469.7" y2="107.3" stroke="#c8143c" stroke-width="1.35"/>
<text x="410.8" y="28" font-size="7.6" font-style="italic" textLength="34.4" lengthAdjust="spacing">p=0.0011</text>
<text x="394.8" y="45.8" font-size="7.6" font-style="italic" textLength="35.9" lengthAdjust="spacing">p=9×10<tspan dy="-3.19" font-size="5.62">−5</tspan></text>
<path d="M397.8 37.6V33.9H457.8V37.6" stroke="#111111" stroke-width="1.4" fill="none"/>
<path d="M397.8 53.3V49.6H427.9V53.3" stroke="#111111" stroke-width="1.4" fill="none"/>
<text x="98.7" y="188.5" font-size="9.5" text-anchor="middle" textLength="122.6" lengthAdjust="spacingAndGlyphs" class="tt">γH2AX focus area vs EHMT2</text>
<text x="98.3" y="199.8" font-size="9.5" text-anchor="middle" textLength="117" lengthAdjust="spacingAndGlyphs" class="tt">MFI in irradiated K562 cells</text>
<line x1="51" y1="249.4" x2="51" y2="354.5" stroke="#111111" stroke-width="1.3"/>
<line x1="48" y1="350.6" x2="51" y2="350.6" stroke="#111111" stroke-width="1.1"/>
<text x="44.8" y="353.6" font-size="8.2" text-anchor="end" textLength="4.2" lengthAdjust="spacingAndGlyphs">0</text>
<line x1="48" y1="320.6" x2="51" y2="320.6" stroke="#111111" stroke-width="1.1"/>
<text x="45.8" y="323.6" font-size="8.2" text-anchor="end" textLength="23.4" lengthAdjust="spacingAndGlyphs">2×10<tspan dy="-3.2" font-size="5.8">4</tspan></text>
<line x1="48" y1="290.6" x2="51" y2="290.6" stroke="#111111" stroke-width="1.1"/>
<text x="45.8" y="293.6" font-size="8.2" text-anchor="end" textLength="23.4" lengthAdjust="spacingAndGlyphs">4×10<tspan dy="-3.2" font-size="5.8">4</tspan></text>
<line x1="48" y1="260.6" x2="51" y2="260.6" stroke="#111111" stroke-width="1.1"/>
<text x="45.8" y="263.6" font-size="8.2" text-anchor="end" textLength="23.4" lengthAdjust="spacingAndGlyphs">6×10<tspan dy="-3.2" font-size="5.8">4</tspan></text>
<text x="16.77" y="301.5" font-size="9.37" text-anchor="middle" textLength="39" lengthAdjust="spacingAndGlyphs" transform="rotate(-90 16.77 301.5)" class="yl">EHMT2 MFI</text>
<line x1="51" y1="353.9" x2="109.6" y2="353.9" stroke="#111111" stroke-width="1.4"/>
<line x1="112" y1="353.9" x2="171.3" y2="353.9" stroke="#111111" stroke-width="1.4"/>
<line x1="58.1" y1="353.9" x2="58.1" y2="357" stroke="#111111" stroke-width="1.1"/>
<line x1="69.55" y1="353.9" x2="69.55" y2="357" stroke="#111111" stroke-width="1.1"/>
<line x1="81" y1="353.9" x2="81" y2="357" stroke="#111111" stroke-width="1.1"/>
<line x1="92.45" y1="353.9" x2="92.45" y2="357" stroke="#111111" stroke-width="1.1"/>
<line x1="103.9" y1="353.9" x2="103.9" y2="357" stroke="#111111" stroke-width="1.1"/>
<line x1="119" y1="353.9" x2="119" y2="357" stroke="#111111" stroke-width="1.1"/>
<line x1="130.4" y1="353.9" x2="130.4" y2="357" stroke="#111111" stroke-width="1.1"/>
<line x1="141.8" y1="353.9" x2="141.8" y2="357" stroke="#111111" stroke-width="1.1"/>
<line x1="153.2" y1="353.9" x2="153.2" y2="357" stroke="#111111" stroke-width="1.1"/>
<line x1="164.6" y1="353.9" x2="164.6" y2="357" stroke="#111111" stroke-width="1.1"/>
<text x="58.1" y="366.1" font-size="8" text-anchor="middle">1</text>
<text x="69.55" y="366.1" font-size="8" text-anchor="middle">2</text>
<text x="81" y="366.1" font-size="8" text-anchor="middle">3</text>
<text x="92.45" y="366.1" font-size="8" text-anchor="middle">4</text>
<text x="103.9" y="366.1" font-size="8" text-anchor="middle">5</text>
<text x="119" y="366.1" font-size="8" text-anchor="middle">1</text>
<text x="130.4" y="366.1" font-size="8" text-anchor="middle">2</text>
<text x="141.8" y="366.1" font-size="8" text-anchor="middle">3</text>
<text x="153.2" y="366.1" font-size="8" text-anchor="middle">4</text>
<text x="164.6" y="366.1" font-size="8" text-anchor="middle">5</text>
<line x1="58.1" y1="277.3" x2="58.1" y2="316.9" stroke="#c8143c" stroke-width="1.4"/>
<line x1="58.1" y1="348" x2="58.1" y2="349.6" stroke="#c8143c" stroke-width="1.4"/>
<rect x="53.6" y="316.9" width="9" height="31.1" stroke="#c8143c" stroke-width="1.4" fill="none"/>
<line x1="53.6" y1="341.5" x2="62.6" y2="341.5" stroke="#c8143c" stroke-width="1.4"/>
<line x1="69.55" y1="251.3" x2="69.55" y2="309.3" stroke="#c8143c" stroke-width="1.4"/>
<line x1="69.55" y1="347.7" x2="69.55" y2="349.3" stroke="#c8143c" stroke-width="1.4"/>
<rect x="65.05" y="309.3" width="9" height="38.4" stroke="#c8143c" stroke-width="1.4" fill="none"/>
<line x1="65.05" y1="322.3" x2="74.05" y2="322.3" stroke="#c8143c" stroke-width="1.4"/>
<line x1="81" y1="252.3" x2="81" y2="306" stroke="#c8143c" stroke-width="1.4"/>
<line x1="81" y1="343.8" x2="81" y2="349" stroke="#c8143c" stroke-width="1.4"/>
<rect x="76.5" y="306" width="9" height="37.8" stroke="#c8143c" stroke-width="1.4" fill="none"/>
<line x1="76.5" y1="324.2" x2="85.5" y2="324.2" stroke="#c8143c" stroke-width="1.4"/>
<line x1="92.45" y1="257.7" x2="92.45" y2="300.6" stroke="#c8143c" stroke-width="1.4"/>
<line x1="92.45" y1="337.1" x2="92.45" y2="349" stroke="#c8143c" stroke-width="1.4"/>
<rect x="87.95" y="300.6" width="9" height="36.5" stroke="#c8143c" stroke-width="1.4" fill="none"/>
<line x1="87.95" y1="318.3" x2="96.95" y2="318.3" stroke="#c8143c" stroke-width="1.4"/>
<line x1="103.9" y1="253.3" x2="103.9" y2="284" stroke="#c8143c" stroke-width="1.4"/>
<line x1="103.9" y1="329.8" x2="103.9" y2="349" stroke="#c8143c" stroke-width="1.4"/>
<rect x="99.4" y="284" width="9" height="45.8" stroke="#c8143c" stroke-width="1.4" fill="none"/>
<line x1="99.4" y1="309.6" x2="108.4" y2="309.6" stroke="#c8143c" stroke-width="1.4"/>
<path d="M57.4 258h1.4v1.4h-1.4zM57.4 268.5h1.4v1.4h-1.4zM68.9 250.2h1.4v1.4h-1.4z" fill="#c8143c"/>
<line x1="119" y1="330" x2="119" y2="340.5" stroke="#17538d" stroke-width="1.4"/>
<line x1="119" y1="348" x2="119" y2="348.6" stroke="#17538d" stroke-width="1.4"/>
<rect x="114.6" y="340.5" width="8.8" height="7.5" stroke="#17538d" stroke-width="1.4" fill="none"/>
<line x1="114.6" y1="346.7" x2="123.4" y2="346.7" stroke="#17538d" stroke-width="1.4"/>
<line x1="130.4" y1="316.8" x2="130.4" y2="334.6" stroke="#17538d" stroke-width="1.4"/>
<line x1="130.4" y1="348" x2="130.4" y2="348.6" stroke="#17538d" stroke-width="1.4"/>
<rect x="126" y="334.6" width="8.8" height="13.4" stroke="#17538d" stroke-width="1.4" fill="none"/>
<line x1="126" y1="346.6" x2="134.8" y2="346.6" stroke="#17538d" stroke-width="1.4"/>
<line x1="141.8" y1="321.1" x2="141.8" y2="334.6" stroke="#17538d" stroke-width="1.4"/>
<line x1="141.8" y1="348" x2="141.8" y2="348.6" stroke="#17538d" stroke-width="1.4"/>
<rect x="137.4" y="334.6" width="8.8" height="13.4" stroke="#17538d" stroke-width="1.4" fill="none"/>
<line x1="137.4" y1="345.7" x2="146.2" y2="345.7" stroke="#17538d" stroke-width="1.4"/>
<line x1="153.2" y1="317.7" x2="153.2" y2="333.3" stroke="#17538d" stroke-width="1.4"/>
<line x1="153.2" y1="348" x2="153.2" y2="348.6" stroke="#17538d" stroke-width="1.4"/>
<rect x="148.8" y="333.3" width="8.8" height="14.7" stroke="#17538d" stroke-width="1.4" fill="none"/>
<line x1="148.8" y1="340.5" x2="157.6" y2="340.5" stroke="#17538d" stroke-width="1.4"/>
<line x1="164.6" y1="318.5" x2="164.6" y2="331" stroke="#17538d" stroke-width="1.4"/>
<line x1="164.6" y1="347" x2="164.6" y2="348.6" stroke="#17538d" stroke-width="1.4"/>
<rect x="160.2" y="331" width="8.8" height="16" stroke="#17538d" stroke-width="1.4" fill="none"/>
<line x1="160.2" y1="337.6" x2="169" y2="337.6" stroke="#17538d" stroke-width="1.4"/>
<path d="M118.3 303.1h1.4v1.4h-1.4zM118.3 310.9h1.4v1.4h-1.4zM118.3 313.5h1.4v1.4h-1.4zM118.3 322.2h1.4v1.4h-1.4zM118.3 323.9h1.4v1.4h-1.4zM118.3 326.5h1.4v1.4h-1.4zM129.7 311.8h1.4v1.4h-1.4zM152.5 310.9h1.4v1.4h-1.4z" fill="#17538d"/>
<defs><linearGradient id="wg" x1="0" x2="1" y1="0" y2="0"><stop offset="0" stop-color="#c8c8c8"/><stop offset="0.45" stop-color="#111"/><stop offset="1" stop-color="#000"/></linearGradient></defs>
<path d="M51.5 371.4L106.3 367.6V373.8H51.5Z" fill="url(#wg)"/>
<path d="M113 371.4L167.8 367.6V373.8H113Z" fill="url(#wg)"/>
<text x="81" y="383.2" font-size="8.4" text-anchor="middle" textLength="24.5" lengthAdjust="spacingAndGlyphs">gHPRT</text>
<text x="141.3" y="383.2" font-size="8.4" text-anchor="middle" textLength="25" lengthAdjust="spacingAndGlyphs">gCUX1</text>
<text x="111.2" y="396.9" font-size="9.3" text-anchor="middle" textLength="88.5" lengthAdjust="spacingAndGlyphs" class="tt">γH2AX focus area quintiles</text>
<text x="113.8" y="212.9" font-size="7.6" font-style="italic" textLength="39.7" lengthAdjust="spacing">p=5×10<tspan dy="-3.19" font-size="5.62">−12</tspan></text>
<text x="69.9" y="232.5" font-size="7.6" font-style="italic" textLength="36.8" lengthAdjust="spacing">p=5×10<tspan dy="-3.19" font-size="5.62">−8</tspan></text>
<text x="62.3" y="245.9" font-size="7.6" font-style="italic" textLength="36.2" lengthAdjust="spacing">p=4×10<tspan dy="-3.19" font-size="5.62">−7</tspan></text>
<text x="123" y="246.1" font-size="7.6" font-style="italic" textLength="37.7" lengthAdjust="spacing">p=8×10<tspan dy="-3.19" font-size="5.62">−9</tspan></text>
<path d="M103.8 222V216.8H164.6V222" stroke="#111111" stroke-width="1.4" fill="none"/>
<path d="M58.1 241.5V236.4H119V241.5" stroke="#111111" stroke-width="1.4" fill="none"/>
<path d="M58.1 252.5V249.9H103.8V252.5" stroke="#111111" stroke-width="1.4" fill="none"/>
<path d="M119 252.6V250.4H164.6V252.6" stroke="#111111" stroke-width="1.4" fill="none"/>
<text x="278.5" y="188.2" font-size="9.5" text-anchor="middle" textLength="107" lengthAdjust="spacingAndGlyphs" class="tt">γH2AX focus size after IR</text>
<line x1="216.7" y1="236.6" x2="216.7" y2="369.6" stroke="#111111" stroke-width="1.3"/>
<line x1="213.3" y1="364.1" x2="216.7" y2="364.1" stroke="#111111" stroke-width="1.1"/>
<text x="210.5" y="367.1" font-size="8.2" text-anchor="end" textLength="4.2" lengthAdjust="spacingAndGlyphs">0</text>
<line x1="213.3" y1="333.15" x2="216.7" y2="333.15" stroke="#111111" stroke-width="1.1"/>
<text x="210.5" y="336.15" font-size="8.2" text-anchor="end" textLength="10.49" lengthAdjust="spacingAndGlyphs">2.5</text>
<line x1="213.3" y1="302.2" x2="216.7" y2="302.2" stroke="#111111" stroke-width="1.1"/>
<text x="210.5" y="305.2" font-size="8.2" text-anchor="end" textLength="4.2" lengthAdjust="spacingAndGlyphs">5</text>
<line x1="213.3" y1="271.25" x2="216.7" y2="271.25" stroke="#111111" stroke-width="1.1"/>
<text x="210.5" y="274.25" font-size="8.2" text-anchor="end" textLength="10.49" lengthAdjust="spacingAndGlyphs">7.5</text>
<line x1="213.3" y1="240.3" x2="216.7" y2="240.3" stroke="#111111" stroke-width="1.1"/>
<text x="210.5" y="243.3" font-size="8.2" text-anchor="end" textLength="8.39" lengthAdjust="spacingAndGlyphs">10</text>
<line x1="216.7" y1="369.1" x2="333.6" y2="369.1" stroke="#111111" stroke-width="1.4"/>
<line x1="250.3" y1="369.1" x2="250.3" y2="372.1" stroke="#111111" stroke-width="1.1"/>
<line x1="306.5" y1="369.1" x2="306.5" y2="372.1" stroke="#111111" stroke-width="1.1"/>
<text x="194.61" y="298.3" font-size="10.03" text-anchor="middle" textLength="73.5" lengthAdjust="spacingAndGlyphs" transform="rotate(-90 194.61 298.3)" class="yl">γH2AX focus area (px<tspan dy="-2.8" font-size="6">2</tspan><tspan dy="2.8">)</tspan></text>
<text x="250.3" y="382.8" font-size="8.4" text-anchor="middle" textLength="24.8" lengthAdjust="spacingAndGlyphs">gHPRT</text>
<text x="306.3" y="382.8" font-size="8.4" text-anchor="middle" textLength="24.8" lengthAdjust="spacingAndGlyphs">gCUX1</text>
<text x="258.3" y="227" font-size="7.6" font-style="italic" textLength="41.2" lengthAdjust="spacing">p=2×10<tspan dy="-3.19" font-size="5.62">−16</tspan></text>
<path d="M250.5 236.1V232.5H306.4V236.1" stroke="#111111" stroke-width="1.4" fill="none"/>
<rect x="244.1" y="346" width="12.6" height="18.6" fill="#c8143c"/>
<path d="M247.16 342.02h1.1v1.1h-1.1zM250.48 344.78h1.1v1.1h-1.1zM250.89 340.58h1.1v1.1h-1.1zM254.33 342.02h1.1v1.1h-1.1zM255.18 346.32h1.1v1.1h-1.1zM245.68 343.53h1.1v1.1h-1.1zM255.27 342.15h1.1v1.1h-1.1zM250.4 341.65h1.1v1.1h-1.1zM244.38 340.88h1.1v1.1h-1.1zM245.49 341.44h1.1v1.1h-1.1zM251.35 343.39h1.1v1.1h-1.1zM255.05 344.25h1.1v1.1h-1.1zM248.25 346.1h1.1v1.1h-1.1zM251.4 343.25h1.1v1.1h-1.1zM254.06 344.14h1.1v1.1h-1.1zM248.23 343.68h1.1v1.1h-1.1zM247.53 346.23h1.1v1.1h-1.1zM246.88 346.26h1.1v1.1h-1.1zM244.8 339.52h1.1v1.1h-1.1zM250.47 340.89h1.1v1.1h-1.1zM249.94 340.28h1.1v1.1h-1.1zM253.76 344.13h1.1v1.1h-1.1zM251.99 345.94h1.1v1.1h-1.1zM255.56 344.2h1.1v1.1h-1.1zM252.32 339.46h1.1v1.1h-1.1zM244.62 342.44h1.1v1.1h-1.1zM255.29 341.64h1.1v1.1h-1.1zM250.64 339.51h1.1v1.1h-1.1zM248.87 345.77h1.1v1.1h-1.1zM250.89 345.22h1.1v1.1h-1.1zM244.2 340.87h1.1v1.1h-1.1zM246.13 345.28h1.1v1.1h-1.1zM245.23 345.97h1.1v1.1h-1.1zM247.15 345.61h1.1v1.1h-1.1zM250.03 341.71h1.1v1.1h-1.1zM255.26 342.29h1.1v1.1h-1.1zM252.14 339.92h1.1v1.1h-1.1zM253.68 346.32h1.1v1.1h-1.1zM245.33 344.67h1.1v1.1h-1.1zM247.19 340.49h1.1v1.1h-1.1zM248.28 344.08h1.1v1.1h-1.1zM255.11 346.41h1.1v1.1h-1.1zM255.58 343.81h1.1v1.1h-1.1zM251.63 340.58h1.1v1.1h-1.1zM252.47 343.31h1.1v1.1h-1.1zM248.21 345.75h1.1v1.1h-1.1zM247.01 340.44h1.1v1.1h-1.1zM245.88 340.5h1.1v1.1h-1.1zM250.88 345.06h1.1v1.1h-1.1zM245.91 342.97h1.1v1.1h-1.1zM250.71 343.37h1.1v1.1h-1.1zM248.84 343.26h1.1v1.1h-1.1zM244.23 339.86h1.1v1.1h-1.1zM248.95 341.11h1.1v1.1h-1.1zM252.83 341.14h1.1v1.1h-1.1zM253.61 341.14h1.1v1.1h-1.1zM245.12 342.79h1.1v1.1h-1.1zM248.55 341.8h1.1v1.1h-1.1zM252.93 341.01h1.1v1.1h-1.1zM251.82 345.29h1.1v1.1h-1.1zM249.3 342.97h1.1v1.1h-1.1zM254.76 343.68h1.1v1.1h-1.1zM246.15 339.94h1.1v1.1h-1.1zM245 341.77h1.1v1.1h-1.1zM245.08 343.99h1.1v1.1h-1.1zM248.96 341.61h1.1v1.1h-1.1zM249.99 346.01h1.1v1.1h-1.1zM246.88 340.53h1.1v1.1h-1.1zM247.59 341.72h1.1v1.1h-1.1zM254.6 344.39h1.1v1.1h-1.1zM249.02 340.61h1.1v1.1h-1.1zM244.58 340.31h1.1v1.1h-1.1zM253.88 343.99h1.1v1.1h-1.1zM245.87 343.83h1.1v1.1h-1.1zM244.73 343h1.1v1.1h-1.1zM247.94 340.17h1.1v1.1h-1.1zM252.66 344.47h1.1v1.1h-1.1zM249.97 340.63h1.1v1.1h-1.1zM251.82 342.48h1.1v1.1h-1.1zM251.72 340.09h1.1v1.1h-1.1zM254.52 339.47h1.1v1.1h-1.1zM246.63 342.24h1.1v1.1h-1.1zM246.35 340.06h1.1v1.1h-1.1zM252.02 346.41h1.1v1.1h-1.1zM247.94 341.31h1.1v1.1h-1.1zM251.83 341.01h1.1v1.1h-1.1zM248.7 344.27h1.1v1.1h-1.1zM249.05 340.54h1.1v1.1h-1.1zM244.87 343.25h1.1v1.1h-1.1zM255.54 345.89h1.1v1.1h-1.1zM245.21 342.97h1.1v1.1h-1.1zM249.72 340.81h1.1v1.1h-1.1zM251.82 342.92h1.1v1.1h-1.1zM253.43 341.49h1.1v1.1h-1.1zM254.88 345.15h1.1v1.1h-1.1zM249.54 340.44h1.1v1.1h-1.1zM249.66 340.34h1.1v1.1h-1.1zM252 344.33h1.1v1.1h-1.1zM250.76 346.28h1.1v1.1h-1.1zM244.57 344.46h1.1v1.1h-1.1zM253.34 340.24h1.1v1.1h-1.1zM247.79 339.83h1.1v1.1h-1.1zM250.81 344.51h1.1v1.1h-1.1zM248.09 344.32h1.1v1.1h-1.1zM248.3 344.44h1.1v1.1h-1.1zM247.26 346.3h1.1v1.1h-1.1zM249.13 339.48h1.1v1.1h-1.1zM245.11 344.53h1.1v1.1h-1.1zM254.08 343.91h1.1v1.1h-1.1zM245.85 345.55h1.1v1.1h-1.1zM252.37 340.26h1.1v1.1h-1.1zM248.46 344.15h1.1v1.1h-1.1zM244.09 339.75h1.1v1.1h-1.1zM248.15 345.57h1.1v1.1h-1.1zM255.61 341.68h1.1v1.1h-1.1zM254.59 344.95h1.1v1.1h-1.1zM254.09 343.57h1.1v1.1h-1.1zM255.29 343.96h1.1v1.1h-1.1zM255.04 343.41h1.1v1.1h-1.1zM246.33 343.08h1.1v1.1h-1.1zM249.65 341.81h1.1v1.1h-1.1zM248.38 343.02h1.1v1.1h-1.1zM250.87 341.01h1.1v1.1h-1.1zM247.27 342.97h1.1v1.1h-1.1zM249.9 342.38h1.1v1.1h-1.1zM251.75 340.75h1.1v1.1h-1.1zM250.22 341.38h1.1v1.1h-1.1zM252.98 344.38h1.1v1.1h-1.1zM253.11 343.07h1.1v1.1h-1.1zM246.94 345.93h1.1v1.1h-1.1zM249.98 342.08h1.1v1.1h-1.1zM247.42 342.26h1.1v1.1h-1.1zM252.27 345.18h1.1v1.1h-1.1zM249.65 344.57h1.1v1.1h-1.1zM246.52 342.61h1.1v1.1h-1.1zM248.2 341.59h1.1v1.1h-1.1zM248.22 344.73h1.1v1.1h-1.1zM252.56 340.9h1.1v1.1h-1.1zM246.76 344.94h1.1v1.1h-1.1zM251.64 344.18h1.1v1.1h-1.1zM251.42 344.3h1.1v1.1h-1.1zM247.21 339.88h1.1v1.1h-1.1zM248.23 339.68h1.1v1.1h-1.1zM255.21 343.12h1.1v1.1h-1.1zM251.82 346.22h1.1v1.1h-1.1zM253.38 341.06h1.1v1.1h-1.1zM247.96 340.21h1.1v1.1h-1.1zM253.28 344.61h1.1v1.1h-1.1zM249.71 342.03h1.1v1.1h-1.1zM247.18 342.86h1.1v1.1h-1.1zM252.31 345.72h1.1v1.1h-1.1zM253.9 345.52h1.1v1.1h-1.1zM249.15 342.4h1.1v1.1h-1.1zM247.69 346.27h1.1v1.1h-1.1zM246.18 340.55h1.1v1.1h-1.1zM247.31 345.9h1.1v1.1h-1.1zM253.94 341.77h1.1v1.1h-1.1zM253.93 345.69h1.1v1.1h-1.1zM249.01 340.8h1.1v1.1h-1.1zM253.01 342.07h1.1v1.1h-1.1zM245.43 345.77h1.1v1.1h-1.1zM249.15 342.23h1.1v1.1h-1.1zM250.96 341.24h1.1v1.1h-1.1zM244.28 342.18h1.1v1.1h-1.1zM248.45 339.53h1.1v1.1h-1.1zM248.36 344.78h1.1v1.1h-1.1zM247.91 344.21h1.1v1.1h-1.1zM251.29 340.77h1.1v1.1h-1.1zM244.29 344.17h1.1v1.1h-1.1zM251.14 341.51h1.1v1.1h-1.1zM246.37 345.44h1.1v1.1h-1.1zM254.6 341.08h1.1v1.1h-1.1zM250.85 343.47h1.1v1.1h-1.1zM247.79 339.7h1.1v1.1h-1.1zM247.82 343.96h1.1v1.1h-1.1zM251.03 343.02h1.1v1.1h-1.1zM245.47 340.94h1.1v1.1h-1.1zM247.66 342.37h1.1v1.1h-1.1zM248.26 345.77h1.1v1.1h-1.1zM245.4 346.35h1.1v1.1h-1.1zM246.84 345.45h1.1v1.1h-1.1zM246.88 343.56h1.1v1.1h-1.1zM248.43 339.72h1.1v1.1h-1.1zM253.29 345.12h1.1v1.1h-1.1zM247.17 344.88h1.1v1.1h-1.1zM249.61 346.36h1.1v1.1h-1.1zM244.68 342.11h1.1v1.1h-1.1zM246.69 343.82h1.1v1.1h-1.1zM253.07 345.35h1.1v1.1h-1.1zM250.41 342.16h1.1v1.1h-1.1zM253.33 340.18h1.1v1.1h-1.1zM247.07 344.72h1.1v1.1h-1.1zM249.16 346.4h1.1v1.1h-1.1zM245.1 342.68h1.1v1.1h-1.1zM246.52 339.46h1.1v1.1h-1.1zM245.13 340.09h1.1v1.1h-1.1zM248.33 342.48h1.1v1.1h-1.1zM249.94 341.48h1.1v1.1h-1.1zM252.19 343.06h1.1v1.1h-1.1zM255.44 340.63h1.1v1.1h-1.1zM249.97 342.91h1.1v1.1h-1.1zM248.36 345.48h1.1v1.1h-1.1zM246.48 345.59h1.1v1.1h-1.1zM248.2 341.8h1.1v1.1h-1.1zM251.18 343.39h1.1v1.1h-1.1zM247.34 340.04h1.1v1.1h-1.1zM255.13 342.04h1.1v1.1h-1.1zM245.38 344.05h1.1v1.1h-1.1zM250.22 341.74h1.1v1.1h-1.1zM247.86 345.37h1.1v1.1h-1.1zM247.98 342.37h1.1v1.1h-1.1zM255.15 341.98h1.1v1.1h-1.1zM248.71 340.58h1.1v1.1h-1.1zM251.73 344.1h1.1v1.1h-1.1zM249.23 342.29h1.1v1.1h-1.1zM246.75 344.98h1.1v1.1h-1.1zM249.35 345.27h1.1v1.1h-1.1zM248.4 344.58h1.1v1.1h-1.1zM244.38 340.99h1.1v1.1h-1.1zM255.19 344.23h1.1v1.1h-1.1zM251.89 342.93h1.1v1.1h-1.1zM249.53 340.83h1.1v1.1h-1.1zM246.06 343.97h1.1v1.1h-1.1zM252.1 341.26h1.1v1.1h-1.1zM251.53 340.4h1.1v1.1h-1.1zM251.16 340.65h1.1v1.1h-1.1zM249.96 341.65h1.1v1.1h-1.1zM250.44 340.39h1.1v1.1h-1.1zM249.66 343.77h1.1v1.1h-1.1zM245.61 341.61h1.1v1.1h-1.1zM251.92 336.27h1.1v1.1h-1.1zM251.2 337.91h1.1v1.1h-1.1zM250.68 334.01h1.1v1.1h-1.1zM249.18 338.26h1.1v1.1h-1.1zM250.62 337.72h1.1v1.1h-1.1zM248.27 335.59h1.1v1.1h-1.1zM255.3 338.21h1.1v1.1h-1.1zM251.62 333.2h1.1v1.1h-1.1zM251.15 332.68h1.1v1.1h-1.1zM254.88 339.25h1.1v1.1h-1.1zM252.5 334.32h1.1v1.1h-1.1zM253.86 333.69h1.1v1.1h-1.1zM253.65 336.09h1.1v1.1h-1.1zM244.23 338.68h1.1v1.1h-1.1zM249.15 338.26h1.1v1.1h-1.1zM252.04 336.18h1.1v1.1h-1.1zM254.05 333.87h1.1v1.1h-1.1zM254.47 334.82h1.1v1.1h-1.1zM244.35 334.81h1.1v1.1h-1.1zM244.82 332.96h1.1v1.1h-1.1zM251.29 333.3h1.1v1.1h-1.1zM245.9 334.5h1.1v1.1h-1.1zM247.28 338.89h1.1v1.1h-1.1zM254.55 338.54h1.1v1.1h-1.1zM255.53 335.53h1.1v1.1h-1.1zM253.28 334.42h1.1v1.1h-1.1zM254.8 338.12h1.1v1.1h-1.1zM252.54 334.04h1.1v1.1h-1.1zM245.11 338.93h1.1v1.1h-1.1zM250.46 336.74h1.1v1.1h-1.1zM254.05 333.45h1.1v1.1h-1.1zM252.16 335.7h1.1v1.1h-1.1zM253.17 335.64h1.1v1.1h-1.1zM246.33 339.14h1.1v1.1h-1.1zM247.31 337.66h1.1v1.1h-1.1zM253.69 334.18h1.1v1.1h-1.1zM252.11 335.22h1.1v1.1h-1.1zM246.65 333.97h1.1v1.1h-1.1zM255.12 335.03h1.1v1.1h-1.1zM249.96 335.96h1.1v1.1h-1.1zM244.36 337.72h1.1v1.1h-1.1zM252.69 338.58h1.1v1.1h-1.1zM248.19 333.92h1.1v1.1h-1.1zM248.08 337.58h1.1v1.1h-1.1zM251.68 335.29h1.1v1.1h-1.1zM250.14 333.53h1.1v1.1h-1.1zM254.71 335.75h1.1v1.1h-1.1zM249.93 337.96h1.1v1.1h-1.1zM246.35 337.51h1.1v1.1h-1.1zM248.15 338.14h1.1v1.1h-1.1zM245.14 334.38h1.1v1.1h-1.1zM251.42 335.83h1.1v1.1h-1.1zM248.42 336.5h1.1v1.1h-1.1zM246.58 335.51h1.1v1.1h-1.1zM244.07 338.04h1.1v1.1h-1.1zM247 338.26h1.1v1.1h-1.1zM250.45 336.66h1.1v1.1h-1.1zM251.31 333.33h1.1v1.1h-1.1zM253.07 334.49h1.1v1.1h-1.1zM254.06 337.95h1.1v1.1h-1.1zM251.92 338.16h1.1v1.1h-1.1zM249.12 337.16h1.1v1.1h-1.1zM255.1 333.77h1.1v1.1h-1.1zM245.22 335.33h1.1v1.1h-1.1zM249.96 333.49h1.1v1.1h-1.1zM246.62 338.52h1.1v1.1h-1.1zM248.55 333.49h1.1v1.1h-1.1zM246.17 336.49h1.1v1.1h-1.1zM246.25 335.78h1.1v1.1h-1.1zM250.29 335.53h1.1v1.1h-1.1zM249.89 338.31h1.1v1.1h-1.1zM244.24 338.96h1.1v1.1h-1.1zM246.36 332.72h1.1v1.1h-1.1zM252.95 336.44h1.1v1.1h-1.1zM250.29 333.97h1.1v1.1h-1.1zM253.11 334.59h1.1v1.1h-1.1zM252.48 334.05h1.1v1.1h-1.1zM250.69 336.99h1.1v1.1h-1.1zM248.36 335.81h1.1v1.1h-1.1zM244.81 336.95h1.1v1.1h-1.1zM252.07 333.52h1.1v1.1h-1.1zM250.44 337.58h1.1v1.1h-1.1zM245.22 338.32h1.1v1.1h-1.1zM254.15 332.8h1.1v1.1h-1.1zM246.93 333.04h1.1v1.1h-1.1zM246.98 333.05h1.1v1.1h-1.1zM249.73 334.2h1.1v1.1h-1.1zM247.53 335.68h1.1v1.1h-1.1zM248.36 337.97h1.1v1.1h-1.1zM252.43 333.25h1.1v1.1h-1.1zM246.64 332.51h1.1v1.1h-1.1zM247.87 333.21h1.1v1.1h-1.1zM252.14 337.91h1.1v1.1h-1.1zM255.6 333.91h1.1v1.1h-1.1zM244.48 337.75h1.1v1.1h-1.1zM248.83 338.97h1.1v1.1h-1.1zM248.6 334.64h1.1v1.1h-1.1zM244.89 339.09h1.1v1.1h-1.1zM249.99 335.53h1.1v1.1h-1.1zM249.12 337.83h1.1v1.1h-1.1zM253.69 335.78h1.1v1.1h-1.1zM246.12 335.29h1.1v1.1h-1.1zM254.39 335.3h1.1v1.1h-1.1zM251.72 336.37h1.1v1.1h-1.1zM249.4 336.47h1.1v1.1h-1.1zM246.89 336.35h1.1v1.1h-1.1zM254.08 333.01h1.1v1.1h-1.1zM248.33 338.61h1.1v1.1h-1.1zM255.4 332.54h1.1v1.1h-1.1zM251.32 336.87h1.1v1.1h-1.1zM253.83 335.74h1.1v1.1h-1.1zM245.57 334.55h1.1v1.1h-1.1zM252.32 337.55h1.1v1.1h-1.1zM246.42 336.95h1.1v1.1h-1.1zM251.67 337.05h1.1v1.1h-1.1zM244.3 335.54h1.1v1.1h-1.1zM247.82 336.63h1.1v1.1h-1.1zM247.96 333.35h1.1v1.1h-1.1zM251.83 334.46h1.1v1.1h-1.1zM253.22 334.59h1.1v1.1h-1.1zM250.38 338.11h1.1v1.1h-1.1zM245.39 337.57h1.1v1.1h-1.1zM244.84 339h1.1v1.1h-1.1zM244.34 337.52h1.1v1.1h-1.1zM248.33 333.71h1.1v1.1h-1.1zM248.63 335.96h1.1v1.1h-1.1zM248.86 333.31h1.1v1.1h-1.1zM250.11 334.55h1.1v1.1h-1.1zM255.27 335.13h1.1v1.1h-1.1zM249.1 334.05h1.1v1.1h-1.1zM255.29 334.7h1.1v1.1h-1.1zM251.55 338.28h1.1v1.1h-1.1zM248.61 337.74h1.1v1.1h-1.1zM247.28 333.22h1.1v1.1h-1.1zM244.54 335.59h1.1v1.1h-1.1zM254.19 333.87h1.1v1.1h-1.1zM249.16 337.79h1.1v1.1h-1.1zM247.25 333.52h1.1v1.1h-1.1zM250.07 335.43h1.1v1.1h-1.1zM254.94 338.73h1.1v1.1h-1.1zM246.81 336.38h1.1v1.1h-1.1zM248.88 332.69h1.1v1.1h-1.1zM249.2 338.86h1.1v1.1h-1.1zM247.56 336.55h1.1v1.1h-1.1zM252.29 332.89h1.1v1.1h-1.1zM254.77 333.21h1.1v1.1h-1.1zM247.55 337.46h1.1v1.1h-1.1zM244.27 335.08h1.1v1.1h-1.1zM245.52 335.76h1.1v1.1h-1.1zM244.23 333.51h1.1v1.1h-1.1zM246.63 326.02h1.1v1.1h-1.1zM245.1 326.81h1.1v1.1h-1.1zM250.05 326.41h1.1v1.1h-1.1zM253.58 328.37h1.1v1.1h-1.1zM246.97 327.14h1.1v1.1h-1.1zM253.79 325.78h1.1v1.1h-1.1zM252.66 326.13h1.1v1.1h-1.1zM255.01 328.31h1.1v1.1h-1.1zM250.98 331.49h1.1v1.1h-1.1zM245.22 325.9h1.1v1.1h-1.1zM252.1 329.56h1.1v1.1h-1.1zM252.41 327.39h1.1v1.1h-1.1zM249.81 326.76h1.1v1.1h-1.1zM249.12 327.42h1.1v1.1h-1.1zM250.84 327.54h1.1v1.1h-1.1zM247.24 329.95h1.1v1.1h-1.1zM245.04 331.06h1.1v1.1h-1.1zM249.8 327.05h1.1v1.1h-1.1zM245.38 329.01h1.1v1.1h-1.1zM249.9 330.49h1.1v1.1h-1.1zM248.39 328.34h1.1v1.1h-1.1zM254.4 327.37h1.1v1.1h-1.1zM255.43 331.7h1.1v1.1h-1.1zM255.54 332.05h1.1v1.1h-1.1zM247.03 331.15h1.1v1.1h-1.1zM251.15 326.88h1.1v1.1h-1.1zM255.62 329.98h1.1v1.1h-1.1zM253.44 329.36h1.1v1.1h-1.1zM244.97 331.49h1.1v1.1h-1.1zM246.09 327.26h1.1v1.1h-1.1zM251.2 326.81h1.1v1.1h-1.1zM249.42 330.45h1.1v1.1h-1.1zM245.16 330.07h1.1v1.1h-1.1zM245.26 328.78h1.1v1.1h-1.1zM251.58 330.26h1.1v1.1h-1.1zM244.55 326.79h1.1v1.1h-1.1zM255.19 328.19h1.1v1.1h-1.1zM248.98 328.07h1.1v1.1h-1.1zM252.13 330.63h1.1v1.1h-1.1zM251.59 328.27h1.1v1.1h-1.1zM250.66 329.06h1.1v1.1h-1.1zM246.23 332.1h1.1v1.1h-1.1zM255.24 330.89h1.1v1.1h-1.1zM255.56 328.71h1.1v1.1h-1.1zM253.78 327.13h1.1v1.1h-1.1zM252.67 330.45h1.1v1.1h-1.1zM254.94 331.28h1.1v1.1h-1.1zM254.25 327.32h1.1v1.1h-1.1zM253.18 328.78h1.1v1.1h-1.1zM247.67 328.03h1.1v1.1h-1.1zM253.32 331.35h1.1v1.1h-1.1zM253.85 330.14h1.1v1.1h-1.1zM246.03 326.54h1.1v1.1h-1.1zM250.64 326.93h1.1v1.1h-1.1zM247.95 326.17h1.1v1.1h-1.1zM245.85 330.47h1.1v1.1h-1.1zM246.64 331.39h1.1v1.1h-1.1zM247.87 331.39h1.1v1.1h-1.1zM247.56 327.32h1.1v1.1h-1.1zM248.63 325.53h1.1v1.1h-1.1zM249.1 328.11h1.1v1.1h-1.1zM244.2 331.48h1.1v1.1h-1.1zM248.4 325.45h1.1v1.1h-1.1zM255.19 327.05h1.1v1.1h-1.1zM246.98 325.62h1.1v1.1h-1.1zM245.2 330.42h1.1v1.1h-1.1zM250.8 328.98h1.1v1.1h-1.1zM246.91 327.46h1.1v1.1h-1.1zM255.3 328.06h1.1v1.1h-1.1zM255.53 331.66h1.1v1.1h-1.1zM245.5 331.39h1.1v1.1h-1.1zM244.29 330.43h1.1v1.1h-1.1zM253.44 330.32h1.1v1.1h-1.1zM250.43 331.14h1.1v1.1h-1.1zM245.84 329.23h1.1v1.1h-1.1zM247.13 328.24h1.1v1.1h-1.1zM246.27 330.41h1.1v1.1h-1.1zM250.7 330.9h1.1v1.1h-1.1zM251.34 329.64h1.1v1.1h-1.1zM254.74 331.14h1.1v1.1h-1.1zM250.62 327.73h1.1v1.1h-1.1zM254.81 328.05h1.1v1.1h-1.1zM245.23 327.78h1.1v1.1h-1.1zM252.24 331.97h1.1v1.1h-1.1zM251.54 330.09h1.1v1.1h-1.1zM254.92 330.9h1.1v1.1h-1.1zM249.22 328.68h1.1v1.1h-1.1zM252.86 327.67h1.1v1.1h-1.1zM245.32 329.79h1.1v1.1h-1.1zM253.43 327.19h1.1v1.1h-1.1zM251.98 331.7h1.1v1.1h-1.1zM245.53 326.4h1.1v1.1h-1.1zM249.77 327.79h1.1v1.1h-1.1zM255.06 332.43h1.1v1.1h-1.1zM249.22 331h1.1v1.1h-1.1zM251.38 326.66h1.1v1.1h-1.1zM255.32 326.67h1.1v1.1h-1.1zM244.93 328.62h1.1v1.1h-1.1zM244.26 328.82h1.1v1.1h-1.1zM248.83 332.13h1.1v1.1h-1.1zM248.85 324.25h1.1v1.1h-1.1zM253.1 322.14h1.1v1.1h-1.1zM246.81 319.89h1.1v1.1h-1.1zM249.75 320.61h1.1v1.1h-1.1zM251.54 321.49h1.1v1.1h-1.1zM247.8 322.3h1.1v1.1h-1.1zM255.61 319.07h1.1v1.1h-1.1zM247.94 317.55h1.1v1.1h-1.1zM245.14 317.89h1.1v1.1h-1.1zM248.96 324.14h1.1v1.1h-1.1zM252.14 325.18h1.1v1.1h-1.1zM253.76 322.14h1.1v1.1h-1.1zM250.78 317.55h1.1v1.1h-1.1zM248.5 319.54h1.1v1.1h-1.1zM251.25 317.97h1.1v1.1h-1.1zM250.34 320.45h1.1v1.1h-1.1zM249.76 320.69h1.1v1.1h-1.1zM245.24 323.3h1.1v1.1h-1.1zM253.33 322.24h1.1v1.1h-1.1zM245.39 322.24h1.1v1.1h-1.1zM254.15 325.34h1.1v1.1h-1.1zM252.85 317.82h1.1v1.1h-1.1zM254.24 322.77h1.1v1.1h-1.1zM247.26 324.81h1.1v1.1h-1.1zM253.63 324.61h1.1v1.1h-1.1zM246.92 322.07h1.1v1.1h-1.1zM248.45 319.82h1.1v1.1h-1.1zM252.88 322.38h1.1v1.1h-1.1zM247.9 321.79h1.1v1.1h-1.1zM254.82 321.98h1.1v1.1h-1.1zM254.65 321.98h1.1v1.1h-1.1zM255.56 317.68h1.1v1.1h-1.1zM249.39 321.87h1.1v1.1h-1.1zM252.48 325.2h1.1v1.1h-1.1zM251.28 321.27h1.1v1.1h-1.1zM251.41 321.72h1.1v1.1h-1.1zM252.23 325.03h1.1v1.1h-1.1zM244.21 320.01h1.1v1.1h-1.1zM254.22 317.93h1.1v1.1h-1.1zM253.22 317.7h1.1v1.1h-1.1zM251.57 323.85h1.1v1.1h-1.1zM246.81 320.5h1.1v1.1h-1.1zM246.68 323.09h1.1v1.1h-1.1zM250.18 322.29h1.1v1.1h-1.1zM247.83 322.14h1.1v1.1h-1.1zM255.12 323.68h1.1v1.1h-1.1zM255.09 319.43h1.1v1.1h-1.1zM250.04 320.54h1.1v1.1h-1.1zM248.06 323.88h1.1v1.1h-1.1zM246.08 321.92h1.1v1.1h-1.1zM253.03 324.93h1.1v1.1h-1.1zM244.27 319.62h1.1v1.1h-1.1zM249.77 324.94h1.1v1.1h-1.1zM245.94 324.18h1.1v1.1h-1.1zM248.66 321.83h1.1v1.1h-1.1zM254.81 317.96h1.1v1.1h-1.1zM247.87 318.7h1.1v1.1h-1.1zM245.6 319.88h1.1v1.1h-1.1zM252.18 322.09h1.1v1.1h-1.1zM245.46 323.86h1.1v1.1h-1.1zM249.93 318.6h1.1v1.1h-1.1zM253.57 324.02h1.1v1.1h-1.1zM246.56 316.85h1.1v1.1h-1.1zM253.45 309.74h1.1v1.1h-1.1zM244.06 316.12h1.1v1.1h-1.1zM253.63 308.43h1.1v1.1h-1.1zM252.94 315.18h1.1v1.1h-1.1zM251.4 315.78h1.1v1.1h-1.1zM255.47 310.73h1.1v1.1h-1.1zM253.72 316.66h1.1v1.1h-1.1zM247.69 314.28h1.1v1.1h-1.1zM251.99 315.94h1.1v1.1h-1.1zM250.63 310.21h1.1v1.1h-1.1zM246.97 312.88h1.1v1.1h-1.1zM245.62 316.05h1.1v1.1h-1.1zM254.36 309.87h1.1v1.1h-1.1zM252.14 314.18h1.1v1.1h-1.1zM245.46 315.23h1.1v1.1h-1.1zM252.94 310.51h1.1v1.1h-1.1zM245.19 310.27h1.1v1.1h-1.1zM253 312.12h1.1v1.1h-1.1zM253.51 309.05h1.1v1.1h-1.1zM245.29 310.94h1.1v1.1h-1.1zM254.26 309.07h1.1v1.1h-1.1zM244.9 314.98h1.1v1.1h-1.1zM245.11 314.13h1.1v1.1h-1.1zM245.02 309.92h1.1v1.1h-1.1zM251.75 316.19h1.1v1.1h-1.1zM248.8 311.95h1.1v1.1h-1.1zM244.41 310.86h1.1v1.1h-1.1zM246.86 315.34h1.1v1.1h-1.1zM252.34 315.29h1.1v1.1h-1.1zM250.22 314.44h1.1v1.1h-1.1zM245.53 311.3h1.1v1.1h-1.1zM247.45 310.27h1.1v1.1h-1.1zM252.62 309.59h1.1v1.1h-1.1zM247.82 310.27h1.1v1.1h-1.1zM254.07 313.83h1.1v1.1h-1.1zM249.63 311.25h1.1v1.1h-1.1zM254.74 316.84h1.1v1.1h-1.1zM249.27 313.12h1.1v1.1h-1.1zM254.06 310.01h1.1v1.1h-1.1zM247.05 298.48h1.1v1.1h-1.1zM249.87 305.13h1.1v1.1h-1.1zM245.87 301.77h1.1v1.1h-1.1zM255.54 302.26h1.1v1.1h-1.1zM248.49 305.84h1.1v1.1h-1.1zM254.4 301.21h1.1v1.1h-1.1zM245.48 303.82h1.1v1.1h-1.1zM252.64 306.68h1.1v1.1h-1.1zM251.71 300.53h1.1v1.1h-1.1zM250.02 300.33h1.1v1.1h-1.1zM249.22 302.13h1.1v1.1h-1.1zM254.63 306.51h1.1v1.1h-1.1zM254.8 302.23h1.1v1.1h-1.1zM255.24 298.84h1.1v1.1h-1.1zM254.73 303.85h1.1v1.1h-1.1zM254.17 301.58h1.1v1.1h-1.1zM255.54 297.7h1.1v1.1h-1.1zM253.88 305.64h1.1v1.1h-1.1zM248.39 305.74h1.1v1.1h-1.1zM246.53 304.98h1.1v1.1h-1.1zM249.48 301.56h1.1v1.1h-1.1zM246.33 305.45h1.1v1.1h-1.1zM252.53 298.34h1.1v1.1h-1.1zM255.4 299.66h1.1v1.1h-1.1zM248.4 301.6h1.1v1.1h-1.1zM250.74 306.35h1.1v1.1h-1.1zM255.01 292.68h1.1v1.1h-1.1zM248.29 285.85h1.1v1.1h-1.1zM244.85 291.2h1.1v1.1h-1.1zM250.82 290.26h1.1v1.1h-1.1zM255.45 289.83h1.1v1.1h-1.1zM248.12 289.89h1.1v1.1h-1.1zM246.04 296.66h1.1v1.1h-1.1zM250.91 291.51h1.1v1.1h-1.1zM248.99 287.7h1.1v1.1h-1.1zM247.71 290.87h1.1v1.1h-1.1zM249.23 297.18h1.1v1.1h-1.1zM250.58 287.14h1.1v1.1h-1.1zM244.67 286.52h1.1v1.1h-1.1zM248.06 294.62h1.1v1.1h-1.1zM254.37 287.52h1.1v1.1h-1.1zM253.1 290.19h1.1v1.1h-1.1zM250.29 291.38h1.1v1.1h-1.1zM244.54 285.31h1.1v1.1h-1.1zM251.79 278.23h1.1v1.1h-1.1zM248.46 282.83h1.1v1.1h-1.1zM253.56 270.49h1.1v1.1h-1.1zM244.83 275.52h1.1v1.1h-1.1zM251.64 268.94h1.1v1.1h-1.1zM244.56 274.19h1.1v1.1h-1.1zM244.45 279.18h1.1v1.1h-1.1zM251.31 270.03h1.1v1.1h-1.1zM249.22 269.11h1.1v1.1h-1.1zM246.21 268.08h1.1v1.1h-1.1zM253.51 273.52h1.1v1.1h-1.1zM252.35 271.4h1.1v1.1h-1.1zM253.41 276.37h1.1v1.1h-1.1zM251.64 272.3h1.1v1.1h-1.1zM250.57 244.22h1.1v1.1h-1.1zM255.35 256.25h1.1v1.1h-1.1zM250.23 255.42h1.1v1.1h-1.1zM245.21 247.81h1.1v1.1h-1.1zM246.73 260.53h1.1v1.1h-1.1zM244.2 250.57h1.1v1.1h-1.1zM254.13 259.01h1.1v1.1h-1.1zM252.39 246.99h1.1v1.1h-1.1zM246.74 257.06h1.1v1.1h-1.1zM247.51 257.53h1.1v1.1h-1.1z" fill="#c8143c"/>
<rect x="300.4" y="350.5" width="12" height="14.1" fill="#17538d"/>
<path d="M304.2 349.01h1.1v1.1h-1.1zM306.65 349.34h1.1v1.1h-1.1zM311.19 346.72h1.1v1.1h-1.1zM311.2 344.51h1.1v1.1h-1.1zM310 344.63h1.1v1.1h-1.1zM306.35 346.78h1.1v1.1h-1.1zM308.82 346.34h1.1v1.1h-1.1zM302.64 349.15h1.1v1.1h-1.1zM306.4 348.98h1.1v1.1h-1.1zM305.73 344.67h1.1v1.1h-1.1zM308.83 345.76h1.1v1.1h-1.1zM305.54 344.45h1.1v1.1h-1.1zM303.2 348.44h1.1v1.1h-1.1zM308.76 348.27h1.1v1.1h-1.1zM305.23 348.85h1.1v1.1h-1.1zM307.71 345.69h1.1v1.1h-1.1zM306.24 348.04h1.1v1.1h-1.1zM308.37 345.64h1.1v1.1h-1.1zM303.77 346.51h1.1v1.1h-1.1zM301.41 346.54h1.1v1.1h-1.1zM308.38 347.92h1.1v1.1h-1.1zM302.25 348.84h1.1v1.1h-1.1zM301.63 348.96h1.1v1.1h-1.1zM301.97 345.03h1.1v1.1h-1.1zM303.12 347.54h1.1v1.1h-1.1zM303.32 349.75h1.1v1.1h-1.1zM310.67 346.15h1.1v1.1h-1.1zM308.6 348.62h1.1v1.1h-1.1zM306.52 345.98h1.1v1.1h-1.1zM310.8 350.19h1.1v1.1h-1.1zM300.49 346.43h1.1v1.1h-1.1zM303.88 345.64h1.1v1.1h-1.1zM305.08 349.84h1.1v1.1h-1.1zM300.61 349.46h1.1v1.1h-1.1zM303.75 344.53h1.1v1.1h-1.1zM310.25 346.08h1.1v1.1h-1.1zM302.68 345.15h1.1v1.1h-1.1zM304.39 345.17h1.1v1.1h-1.1zM302.33 345.95h1.1v1.1h-1.1zM306.71 347.13h1.1v1.1h-1.1zM303.71 347.61h1.1v1.1h-1.1zM308.87 348.79h1.1v1.1h-1.1zM304.13 349.96h1.1v1.1h-1.1zM309.05 347.82h1.1v1.1h-1.1zM305.58 346.43h1.1v1.1h-1.1zM301.83 349.76h1.1v1.1h-1.1zM307.04 345.04h1.1v1.1h-1.1zM310.53 349.77h1.1v1.1h-1.1zM300.72 348.65h1.1v1.1h-1.1zM302.97 347.66h1.1v1.1h-1.1zM309.53 346.55h1.1v1.1h-1.1zM305.83 348.44h1.1v1.1h-1.1zM302.47 348.21h1.1v1.1h-1.1zM305.03 350.35h1.1v1.1h-1.1zM302.41 348.72h1.1v1.1h-1.1zM300.8 346.09h1.1v1.1h-1.1zM301.65 345.34h1.1v1.1h-1.1zM306.16 345.5h1.1v1.1h-1.1zM309.09 345.03h1.1v1.1h-1.1zM307.2 349.62h1.1v1.1h-1.1zM301.74 345.75h1.1v1.1h-1.1zM308.76 347.27h1.1v1.1h-1.1zM310.6 346.48h1.1v1.1h-1.1zM304.73 350.2h1.1v1.1h-1.1zM304.13 350.25h1.1v1.1h-1.1zM310.15 345.65h1.1v1.1h-1.1zM306.35 350.1h1.1v1.1h-1.1zM301.64 349.54h1.1v1.1h-1.1zM308.87 348.95h1.1v1.1h-1.1zM306.96 345.05h1.1v1.1h-1.1zM310.89 345.06h1.1v1.1h-1.1zM308.97 348.79h1.1v1.1h-1.1zM303.84 348.56h1.1v1.1h-1.1zM304.87 348.95h1.1v1.1h-1.1zM300.83 350.05h1.1v1.1h-1.1zM304.58 349.27h1.1v1.1h-1.1zM305.54 349.32h1.1v1.1h-1.1zM303.66 347.72h1.1v1.1h-1.1zM300.63 347.39h1.1v1.1h-1.1zM301.22 349.61h1.1v1.1h-1.1zM307.8 347h1.1v1.1h-1.1zM311.07 350.13h1.1v1.1h-1.1zM310.87 344.94h1.1v1.1h-1.1zM308.1 348.82h1.1v1.1h-1.1zM307.02 344.54h1.1v1.1h-1.1zM310.51 347.08h1.1v1.1h-1.1zM306.9 349.34h1.1v1.1h-1.1zM303.38 344.63h1.1v1.1h-1.1zM310.51 346.07h1.1v1.1h-1.1zM300.8 345.27h1.1v1.1h-1.1zM311.29 348.89h1.1v1.1h-1.1zM302.66 345.33h1.1v1.1h-1.1zM310.22 348.44h1.1v1.1h-1.1zM306.76 345.24h1.1v1.1h-1.1zM304.9 350.13h1.1v1.1h-1.1zM300.39 346.96h1.1v1.1h-1.1zM300.98 350.44h1.1v1.1h-1.1zM301.5 350.17h1.1v1.1h-1.1zM309.6 348.84h1.1v1.1h-1.1zM300.81 348.62h1.1v1.1h-1.1zM305.77 347.4h1.1v1.1h-1.1zM301.95 347.52h1.1v1.1h-1.1zM309.17 345.24h1.1v1.1h-1.1zM309.99 346.97h1.1v1.1h-1.1zM303.28 345.89h1.1v1.1h-1.1zM305.41 348.33h1.1v1.1h-1.1zM306.62 349.79h1.1v1.1h-1.1zM305.98 347.53h1.1v1.1h-1.1zM311.23 345.74h1.1v1.1h-1.1zM300.53 346.42h1.1v1.1h-1.1zM303.79 345.19h1.1v1.1h-1.1zM304.95 344.66h1.1v1.1h-1.1zM310.48 347.36h1.1v1.1h-1.1zM310.02 348.63h1.1v1.1h-1.1zM308.38 349h1.1v1.1h-1.1zM303.67 348.82h1.1v1.1h-1.1zM302.62 347.78h1.1v1.1h-1.1zM306.9 349.1h1.1v1.1h-1.1zM302.2 346.51h1.1v1.1h-1.1zM309.42 349.28h1.1v1.1h-1.1zM311.11 345.16h1.1v1.1h-1.1zM302.66 345.09h1.1v1.1h-1.1zM308.31 348.92h1.1v1.1h-1.1zM307.48 349.13h1.1v1.1h-1.1zM306.03 347.82h1.1v1.1h-1.1zM310.48 348.34h1.1v1.1h-1.1zM307.57 347.98h1.1v1.1h-1.1zM305.78 348.99h1.1v1.1h-1.1zM306.65 345.22h1.1v1.1h-1.1zM305.03 346.98h1.1v1.1h-1.1zM305.11 347.82h1.1v1.1h-1.1zM304.33 346.8h1.1v1.1h-1.1zM305.05 346.68h1.1v1.1h-1.1zM311.04 344.99h1.1v1.1h-1.1zM300.54 348.78h1.1v1.1h-1.1zM304.7 347.14h1.1v1.1h-1.1zM306.86 346.65h1.1v1.1h-1.1zM302.98 344.54h1.1v1.1h-1.1zM309.96 350.08h1.1v1.1h-1.1zM303.5 347.24h1.1v1.1h-1.1zM303.91 344.8h1.1v1.1h-1.1zM310.17 349.47h1.1v1.1h-1.1zM303 345.98h1.1v1.1h-1.1zM308.03 349.23h1.1v1.1h-1.1zM305.52 346.77h1.1v1.1h-1.1zM302.92 349.24h1.1v1.1h-1.1zM309.85 349.6h1.1v1.1h-1.1zM301.61 348.01h1.1v1.1h-1.1zM311.19 348.74h1.1v1.1h-1.1zM305.4 345.32h1.1v1.1h-1.1zM301.02 342.84h1.1v1.1h-1.1zM301.1 343.3h1.1v1.1h-1.1zM307.67 341.29h1.1v1.1h-1.1zM310.16 344.05h1.1v1.1h-1.1zM307.13 339.05h1.1v1.1h-1.1zM306.82 340.98h1.1v1.1h-1.1zM303.1 344.02h1.1v1.1h-1.1zM308.38 339.18h1.1v1.1h-1.1zM302.87 340.51h1.1v1.1h-1.1zM306.65 340.4h1.1v1.1h-1.1zM305.19 343.33h1.1v1.1h-1.1zM302.35 342.77h1.1v1.1h-1.1zM303.99 344.12h1.1v1.1h-1.1zM310.82 340.41h1.1v1.1h-1.1zM307.02 339.11h1.1v1.1h-1.1zM304.86 342.19h1.1v1.1h-1.1zM307.37 340.51h1.1v1.1h-1.1zM300.72 339.2h1.1v1.1h-1.1zM306.52 339.48h1.1v1.1h-1.1zM303.72 342.16h1.1v1.1h-1.1zM310.26 341.54h1.1v1.1h-1.1zM303.15 341.97h1.1v1.1h-1.1zM303.38 343.14h1.1v1.1h-1.1zM302.07 340.02h1.1v1.1h-1.1zM305.18 343.9h1.1v1.1h-1.1zM302.17 339.6h1.1v1.1h-1.1zM301.8 339.73h1.1v1.1h-1.1zM304 340.82h1.1v1.1h-1.1zM308.71 340.87h1.1v1.1h-1.1zM305.58 340.83h1.1v1.1h-1.1zM308.87 343.87h1.1v1.1h-1.1zM305.03 343.98h1.1v1.1h-1.1zM303.11 344.32h1.1v1.1h-1.1zM306.13 342.54h1.1v1.1h-1.1zM304.54 340.08h1.1v1.1h-1.1zM301.84 343.76h1.1v1.1h-1.1zM304.31 342.64h1.1v1.1h-1.1zM305.42 341.61h1.1v1.1h-1.1zM302.63 339.51h1.1v1.1h-1.1zM304.05 342.54h1.1v1.1h-1.1zM306.33 338.46h1.1v1.1h-1.1zM308.17 341.05h1.1v1.1h-1.1zM301.11 340.01h1.1v1.1h-1.1zM302.68 343.39h1.1v1.1h-1.1zM306.4 340.41h1.1v1.1h-1.1zM303.08 340.2h1.1v1.1h-1.1zM303.43 340.53h1.1v1.1h-1.1zM309.05 343.18h1.1v1.1h-1.1zM308.03 343.76h1.1v1.1h-1.1zM307.54 339.13h1.1v1.1h-1.1zM300.84 339.44h1.1v1.1h-1.1zM303.19 341.62h1.1v1.1h-1.1zM309.39 341.96h1.1v1.1h-1.1zM305.08 339.9h1.1v1.1h-1.1zM311.15 342.97h1.1v1.1h-1.1zM304.1 338.73h1.1v1.1h-1.1zM311.15 339.99h1.1v1.1h-1.1zM309.67 339.15h1.1v1.1h-1.1zM307.53 340.59h1.1v1.1h-1.1zM310.13 340.23h1.1v1.1h-1.1zM301.46 339.64h1.1v1.1h-1.1zM309.21 344.32h1.1v1.1h-1.1zM307.42 342.54h1.1v1.1h-1.1zM303.45 340.08h1.1v1.1h-1.1zM301.3 344.36h1.1v1.1h-1.1zM300.83 342.12h1.1v1.1h-1.1zM304.2 339.57h1.1v1.1h-1.1zM305.15 344.03h1.1v1.1h-1.1zM303.08 339.44h1.1v1.1h-1.1zM307.27 342.39h1.1v1.1h-1.1zM305.97 339.53h1.1v1.1h-1.1zM309.97 339.12h1.1v1.1h-1.1zM302.27 339.9h1.1v1.1h-1.1zM306 341.31h1.1v1.1h-1.1zM306.44 342.81h1.1v1.1h-1.1zM310.18 341.26h1.1v1.1h-1.1zM300.81 343.44h1.1v1.1h-1.1zM300.55 340.36h1.1v1.1h-1.1zM301.92 342.06h1.1v1.1h-1.1zM308.95 339.22h1.1v1.1h-1.1zM303.59 343.56h1.1v1.1h-1.1zM307.93 339.1h1.1v1.1h-1.1zM307.9 343.21h1.1v1.1h-1.1zM304.84 339.38h1.1v1.1h-1.1zM307.6 340.37h1.1v1.1h-1.1zM301.82 333.44h1.1v1.1h-1.1zM304.78 333.21h1.1v1.1h-1.1zM304.59 335.76h1.1v1.1h-1.1zM306.42 334.87h1.1v1.1h-1.1zM309.15 332.98h1.1v1.1h-1.1zM303.98 338.05h1.1v1.1h-1.1zM309.86 337.97h1.1v1.1h-1.1zM308.77 335.66h1.1v1.1h-1.1zM309.01 335.89h1.1v1.1h-1.1zM301.64 333.98h1.1v1.1h-1.1zM301.42 337.7h1.1v1.1h-1.1zM303.89 334.89h1.1v1.1h-1.1zM306.27 333.06h1.1v1.1h-1.1zM308.11 337.22h1.1v1.1h-1.1zM309.11 337.74h1.1v1.1h-1.1zM303.84 333.32h1.1v1.1h-1.1zM308.73 336.61h1.1v1.1h-1.1zM304.44 334.51h1.1v1.1h-1.1zM302.04 337.44h1.1v1.1h-1.1zM305.42 337.32h1.1v1.1h-1.1zM304.09 334.38h1.1v1.1h-1.1zM306 336.92h1.1v1.1h-1.1zM310.06 334.57h1.1v1.1h-1.1zM307.98 334.87h1.1v1.1h-1.1zM309.83 337.01h1.1v1.1h-1.1zM306.46 334.63h1.1v1.1h-1.1zM303.36 337.76h1.1v1.1h-1.1zM309.16 334.28h1.1v1.1h-1.1zM301.28 333.62h1.1v1.1h-1.1zM310.96 332.69h1.1v1.1h-1.1zM309.26 335.62h1.1v1.1h-1.1zM306.44 335.69h1.1v1.1h-1.1zM304.86 335.79h1.1v1.1h-1.1zM301.34 337.97h1.1v1.1h-1.1zM301.48 333.28h1.1v1.1h-1.1zM307.75 336.29h1.1v1.1h-1.1zM309.22 336.61h1.1v1.1h-1.1zM310.59 332.76h1.1v1.1h-1.1zM300.47 333.87h1.1v1.1h-1.1zM308.92 333.37h1.1v1.1h-1.1zM306.19 337.07h1.1v1.1h-1.1zM302.07 335.61h1.1v1.1h-1.1zM310.26 336.93h1.1v1.1h-1.1zM304.73 335.32h1.1v1.1h-1.1zM303.41 338.21h1.1v1.1h-1.1zM308.96 336.53h1.1v1.1h-1.1zM303.7 336.84h1.1v1.1h-1.1zM305.7 337.24h1.1v1.1h-1.1zM304.35 331.5h1.1v1.1h-1.1zM307.88 328.06h1.1v1.1h-1.1zM306.54 330.89h1.1v1.1h-1.1zM306.17 332.13h1.1v1.1h-1.1zM300.43 331.63h1.1v1.1h-1.1zM308.21 328.37h1.1v1.1h-1.1zM309.7 325.64h1.1v1.1h-1.1zM304.06 330.16h1.1v1.1h-1.1zM309.41 327.43h1.1v1.1h-1.1zM311.29 329.64h1.1v1.1h-1.1zM300.85 325.44h1.1v1.1h-1.1zM301.19 329.01h1.1v1.1h-1.1zM303.89 326.54h1.1v1.1h-1.1zM305.27 325.08h1.1v1.1h-1.1zM310.35 331.16h1.1v1.1h-1.1zM306.5 328.01h1.1v1.1h-1.1zM303.74 329.27h1.1v1.1h-1.1zM304.16 332.25h1.1v1.1h-1.1zM310.87 330.26h1.1v1.1h-1.1zM309.44 325.05h1.1v1.1h-1.1zM301.71 327.21h1.1v1.1h-1.1zM301.74 327.83h1.1v1.1h-1.1zM311.2 331.13h1.1v1.1h-1.1zM310.9 326.22h1.1v1.1h-1.1zM302.79 324.64h1.1v1.1h-1.1zM303.36 324.9h1.1v1.1h-1.1zM306.16 326.85h1.1v1.1h-1.1zM307.76 328.94h1.1v1.1h-1.1zM306.92 315.35h1.1v1.1h-1.1zM308.43 320.41h1.1v1.1h-1.1zM308.21 317.57h1.1v1.1h-1.1zM305.45 315.17h1.1v1.1h-1.1zM300.79 317.51h1.1v1.1h-1.1zM307.13 313.87h1.1v1.1h-1.1zM309.81 322.88h1.1v1.1h-1.1zM309.74 322.06h1.1v1.1h-1.1zM305.72 313.73h1.1v1.1h-1.1zM303.33 321.04h1.1v1.1h-1.1zM311.18 312.9h1.1v1.1h-1.1zM300.42 316.04h1.1v1.1h-1.1zM304.19 319.22h1.1v1.1h-1.1zM301.59 322.42h1.1v1.1h-1.1zM304.07 323.26h1.1v1.1h-1.1zM303.97 315.42h1.1v1.1h-1.1zM302.28 324h1.1v1.1h-1.1zM306.83 322.18h1.1v1.1h-1.1zM301.04 305.05h1.1v1.1h-1.1zM308.41 311.22h1.1v1.1h-1.1zM310.65 298.9h1.1v1.1h-1.1zM304.46 311.43h1.1v1.1h-1.1zM306.23 310.85h1.1v1.1h-1.1zM303.14 297.81h1.1v1.1h-1.1zM310.76 301.14h1.1v1.1h-1.1zM306.52 302.5h1.1v1.1h-1.1zM306.7 310.52h1.1v1.1h-1.1zM310.77 309.73h1.1v1.1h-1.1zM303.17 308.94h1.1v1.1h-1.1zM300.55 303.28h1.1v1.1h-1.1zM310.74 284.03h1.1v1.1h-1.1zM304.39 289.92h1.1v1.1h-1.1zM302.95 292.2h1.1v1.1h-1.1zM307.53 281.16h1.1v1.1h-1.1zM310.47 280.74h1.1v1.1h-1.1zM308.01 285.72h1.1v1.1h-1.1zM301.93 280.85h1.1v1.1h-1.1zM311.33 275.84h1.1v1.1h-1.1zM305.4 275.75h1.1v1.1h-1.1zM311.02 278.13h1.1v1.1h-1.1zM306.21 266.4h1.1v1.1h-1.1zM306.05 261.15h1.1v1.1h-1.1zM308.38 256.17h1.1v1.1h-1.1z" fill="#17538d"/>
<text x="444.5" y="188.2" font-size="9.5" text-anchor="middle" textLength="124.6" lengthAdjust="spacingAndGlyphs" class="tt">γH2AX focus number after IR</text>
<line x1="373.7" y1="240" x2="373.7" y2="350.9" stroke="#111111" stroke-width="1.3"/>
<line x1="370.4" y1="344.9" x2="373.7" y2="344.9" stroke="#111111" stroke-width="1.1"/>
<text x="368" y="347.9" font-size="8.2" text-anchor="end" textLength="4.2" lengthAdjust="spacingAndGlyphs">0</text>
<line x1="370.4" y1="319.35" x2="373.7" y2="319.35" stroke="#111111" stroke-width="1.1"/>
<text x="368" y="322.35" font-size="8.2" text-anchor="end" textLength="8.39" lengthAdjust="spacingAndGlyphs">10</text>
<line x1="370.4" y1="293.8" x2="373.7" y2="293.8" stroke="#111111" stroke-width="1.1"/>
<text x="368" y="296.8" font-size="8.2" text-anchor="end" textLength="8.39" lengthAdjust="spacingAndGlyphs">20</text>
<line x1="370.4" y1="268.25" x2="373.7" y2="268.25" stroke="#111111" stroke-width="1.1"/>
<text x="368" y="271.25" font-size="8.2" text-anchor="end" textLength="8.39" lengthAdjust="spacingAndGlyphs">30</text>
<line x1="370.4" y1="242.7" x2="373.7" y2="242.7" stroke="#111111" stroke-width="1.1"/>
<text x="368" y="245.7" font-size="8.2" text-anchor="end" textLength="8.39" lengthAdjust="spacingAndGlyphs">40</text>
<line x1="373.7" y1="350.3" x2="513" y2="350.3" stroke="#111111" stroke-width="1.4"/>
<line x1="394.4" y1="350.3" x2="394.4" y2="353.3" stroke="#111111" stroke-width="1.1"/>
<line x1="429.8" y1="350.3" x2="429.8" y2="353.3" stroke="#111111" stroke-width="1.1"/>
<line x1="464.1" y1="350.3" x2="464.1" y2="353.3" stroke="#111111" stroke-width="1.1"/>
<line x1="498.9" y1="350.3" x2="498.9" y2="353.3" stroke="#111111" stroke-width="1.1"/>
<text x="353.23" y="294.6" font-size="9.81" text-anchor="middle" textLength="64" lengthAdjust="spacingAndGlyphs" transform="rotate(-90 353.23 294.6)" class="yl">γH2AX Foci per cell</text>
<rect x="345.2" y="262.4" width="8" height="3.8" fill="#bdbdbd"/>
<text x="394.4" y="364.5" font-size="8.4" text-anchor="middle" textLength="24.8" lengthAdjust="spacingAndGlyphs">gHPRT</text>
<text x="429.8" y="364.5" font-size="8.4" text-anchor="middle" textLength="24.8" lengthAdjust="spacingAndGlyphs">gCUX1</text>
<text x="464.1" y="364.5" font-size="8.4" text-anchor="middle" textLength="24.8" lengthAdjust="spacingAndGlyphs">gHPRT</text>
<text x="498.9" y="364.5" font-size="8.4" text-anchor="middle" textLength="24.8" lengthAdjust="spacingAndGlyphs">gCUX1</text>
<line x1="383.3" y1="369.7" x2="441" y2="369.7" stroke="#111111" stroke-width="1.1"/>
<line x1="451.4" y1="369.7" x2="510.6" y2="369.7" stroke="#111111" stroke-width="1.1"/>
<text x="412.2" y="381.2" font-size="8.4" text-anchor="middle">6 Gy</text>
<text x="480.9" y="381.2" font-size="8.4" text-anchor="middle" textLength="58" lengthAdjust="spacingAndGlyphs">6 Gy +UNC0642</text>
<path d="M396.85 287.61h1.4v1.4h-1.4zM394.24 303.01h1.4v1.4h-1.4zM390.93 303.36h1.4v1.4h-1.4zM389.33 292.1h1.4v1.4h-1.4zM394.39 278.42h1.4v1.4h-1.4zM397.58 288.68h1.4v1.4h-1.4zM390.8 287.71h1.4v1.4h-1.4zM394.54 288.32h1.4v1.4h-1.4zM389.13 276.53h1.4v1.4h-1.4zM395.66 277.92h1.4v1.4h-1.4zM391.45 301.56h1.4v1.4h-1.4zM397.03 304.16h1.4v1.4h-1.4zM390.71 273.48h1.4v1.4h-1.4zM396.04 294.26h1.4v1.4h-1.4zM392.45 273.95h1.4v1.4h-1.4zM393.07 281.6h1.4v1.4h-1.4zM394.51 307.62h1.4v1.4h-1.4zM391.03 275.93h1.4v1.4h-1.4zM395.49 277.07h1.4v1.4h-1.4zM391.15 288.67h1.4v1.4h-1.4zM398.17 284.65h1.4v1.4h-1.4zM392.01 289.93h1.4v1.4h-1.4zM390.59 319.16h1.4v1.4h-1.4zM395.54 317.05h1.4v1.4h-1.4zM396.43 313.28h1.4v1.4h-1.4zM390.03 325.23h1.4v1.4h-1.4zM393.27 333.09h1.4v1.4h-1.4zM390.07 328.45h1.4v1.4h-1.4zM395.26 318.3h1.4v1.4h-1.4zM390.28 324.82h1.4v1.4h-1.4zM396.08 321.06h1.4v1.4h-1.4zM393.45 326.81h1.4v1.4h-1.4zM394.71 319.73h1.4v1.4h-1.4zM390.81 320.82h1.4v1.4h-1.4zM394.16 332.5h1.4v1.4h-1.4zM398.25 323.33h1.4v1.4h-1.4zM392.12 314.31h1.4v1.4h-1.4zM394.9 328.24h1.4v1.4h-1.4zM391.38 326.94h1.4v1.4h-1.4zM398.29 318.87h1.4v1.4h-1.4zM397.74 320.09h1.4v1.4h-1.4zM395.1 331.7h1.4v1.4h-1.4zM390.97 317.63h1.4v1.4h-1.4zM398.15 310.06h1.4v1.4h-1.4zM391.92 321.17h1.4v1.4h-1.4zM395.95 325.33h1.4v1.4h-1.4zM397.65 326.38h1.4v1.4h-1.4zM389.11 310.23h1.4v1.4h-1.4zM389.44 319.95h1.4v1.4h-1.4zM389.35 322.5h1.4v1.4h-1.4zM394.92 313.76h1.4v1.4h-1.4zM396.98 319.47h1.4v1.4h-1.4zM397.93 317.96h1.4v1.4h-1.4zM394.8 322.93h1.4v1.4h-1.4zM391.52 329.36h1.4v1.4h-1.4zM389.14 315.04h1.4v1.4h-1.4zM392.05 332.12h1.4v1.4h-1.4zM393.71 309.29h1.4v1.4h-1.4zM391.85 324.76h1.4v1.4h-1.4zM396.54 311.24h1.4v1.4h-1.4zM396.27 318.85h1.4v1.4h-1.4zM393.92 319.67h1.4v1.4h-1.4zM393.13 335.04h1.4v1.4h-1.4zM397.56 333.08h1.4v1.4h-1.4zM395.87 327.2h1.4v1.4h-1.4zM390.4 309.25h1.4v1.4h-1.4zM396.74 326.47h1.4v1.4h-1.4zM394.9 316.74h1.4v1.4h-1.4zM391.56 333.16h1.4v1.4h-1.4zM393.99 308.83h1.4v1.4h-1.4zM392.23 317.72h1.4v1.4h-1.4zM389.72 334.71h1.4v1.4h-1.4zM397.41 330.3h1.4v1.4h-1.4zM389.14 319.57h1.4v1.4h-1.4zM390.13 327.9h1.4v1.4h-1.4zM396.55 329.61h1.4v1.4h-1.4zM396.38 311.56h1.4v1.4h-1.4zM389.22 310.81h1.4v1.4h-1.4zM396.85 330.69h1.4v1.4h-1.4zM393.85 314.63h1.4v1.4h-1.4zM396.98 311.55h1.4v1.4h-1.4zM392.09 308.35h1.4v1.4h-1.4zM398.14 339.04h1.4v1.4h-1.4zM396.19 342.51h1.4v1.4h-1.4zM394.45 344.18h1.4v1.4h-1.4zM396.23 343.64h1.4v1.4h-1.4zM397.96 336.04h1.4v1.4h-1.4zM396.01 337.34h1.4v1.4h-1.4zM392.09 338.37h1.4v1.4h-1.4zM398.19 335.84h1.4v1.4h-1.4zM393.1 336.45h1.4v1.4h-1.4zM398.28 339.77h1.4v1.4h-1.4zM395.56 339.98h1.4v1.4h-1.4zM396.16 338.33h1.4v1.4h-1.4zM392.9 342h1.4v1.4h-1.4zM395.56 343.29h1.4v1.4h-1.4zM391.95 342.93h1.4v1.4h-1.4zM395.88 340.46h1.4v1.4h-1.4zM392.85 340.4h1.4v1.4h-1.4zM389.81 336.17h1.4v1.4h-1.4zM389.6 269.2h1.4v1.4h-1.4zM393.7 269.2h1.4v1.4h-1.4zM397.8 269.2h1.4v1.4h-1.4z" fill="#c8143c"/>
<line x1="394.4" y1="273.9" x2="394.4" y2="308.9" stroke="#c8143c" stroke-width="1.35"/>
<line x1="394.4" y1="335.3" x2="394.4" y2="345" stroke="#c8143c" stroke-width="1.35"/>
<rect x="382.8" y="308.9" width="23.2" height="26.4" stroke="#c8143c" stroke-width="1.35" fill="none"/>
<line x1="382.8" y1="320.6" x2="406" y2="320.6" stroke="#c8143c" stroke-width="1.35"/>
<path d="M427.36 291.56h1.4v1.4h-1.4zM424.95 309.66h1.4v1.4h-1.4zM431.23 306.58h1.4v1.4h-1.4zM426.39 309.82h1.4v1.4h-1.4zM432.1 306.69h1.4v1.4h-1.4zM426.59 305.02h1.4v1.4h-1.4zM428.13 296h1.4v1.4h-1.4zM425.87 314.18h1.4v1.4h-1.4zM430.32 316.25h1.4v1.4h-1.4zM426.08 295.86h1.4v1.4h-1.4zM429.19 289.6h1.4v1.4h-1.4zM427.28 304.27h1.4v1.4h-1.4zM428.93 315.54h1.4v1.4h-1.4zM429.81 307.24h1.4v1.4h-1.4zM429.88 311.75h1.4v1.4h-1.4zM427.87 287.82h1.4v1.4h-1.4zM433.52 311.97h1.4v1.4h-1.4zM425.67 291.21h1.4v1.4h-1.4zM426.54 307.87h1.4v1.4h-1.4zM425.71 288.41h1.4v1.4h-1.4zM429.05 287.99h1.4v1.4h-1.4zM426.88 299.46h1.4v1.4h-1.4zM426.39 287.88h1.4v1.4h-1.4zM426.89 295.23h1.4v1.4h-1.4zM427.48 300.44h1.4v1.4h-1.4zM427.81 297.68h1.4v1.4h-1.4zM424.68 313.34h1.4v1.4h-1.4zM431.29 302.83h1.4v1.4h-1.4zM424.53 323.9h1.4v1.4h-1.4zM432.79 329.27h1.4v1.4h-1.4zM426.39 337.98h1.4v1.4h-1.4zM432.7 321.23h1.4v1.4h-1.4zM429.11 331.77h1.4v1.4h-1.4zM425.58 325.96h1.4v1.4h-1.4zM430.19 334.46h1.4v1.4h-1.4zM430.28 333.19h1.4v1.4h-1.4zM427.98 319.95h1.4v1.4h-1.4zM424.65 338.4h1.4v1.4h-1.4zM432.46 340.02h1.4v1.4h-1.4zM425.2 336.76h1.4v1.4h-1.4zM426.08 326.61h1.4v1.4h-1.4zM426.34 338.94h1.4v1.4h-1.4zM432.04 338.28h1.4v1.4h-1.4zM428.01 340.77h1.4v1.4h-1.4zM426.89 332.08h1.4v1.4h-1.4zM430.69 323.91h1.4v1.4h-1.4zM428.01 320.71h1.4v1.4h-1.4zM431.83 322.72h1.4v1.4h-1.4zM425.75 324.97h1.4v1.4h-1.4zM430.39 333.59h1.4v1.4h-1.4zM429.33 338.78h1.4v1.4h-1.4zM431.42 323.33h1.4v1.4h-1.4zM429.42 322.37h1.4v1.4h-1.4zM426.72 321.83h1.4v1.4h-1.4zM425.21 326.71h1.4v1.4h-1.4zM432.66 334.05h1.4v1.4h-1.4zM425.31 323.56h1.4v1.4h-1.4zM429.94 331.01h1.4v1.4h-1.4zM424.74 320.55h1.4v1.4h-1.4zM429.71 332.73h1.4v1.4h-1.4zM425.24 336.85h1.4v1.4h-1.4zM426.71 332.44h1.4v1.4h-1.4zM429.37 326.46h1.4v1.4h-1.4zM433.21 327.79h1.4v1.4h-1.4zM428.39 331.27h1.4v1.4h-1.4zM432.22 342h1.4v1.4h-1.4zM431.58 331.23h1.4v1.4h-1.4zM431.1 333.62h1.4v1.4h-1.4zM433.33 341.59h1.4v1.4h-1.4zM431.49 323.49h1.4v1.4h-1.4zM429.73 328.85h1.4v1.4h-1.4zM426.63 337.05h1.4v1.4h-1.4zM426.53 335.33h1.4v1.4h-1.4zM429 328.55h1.4v1.4h-1.4zM431 335.7h1.4v1.4h-1.4zM433.6 342.27h1.4v1.4h-1.4zM431.86 324.63h1.4v1.4h-1.4zM430.66 330.19h1.4v1.4h-1.4zM433.15 329.03h1.4v1.4h-1.4zM427.79 318.92h1.4v1.4h-1.4zM428.83 331.08h1.4v1.4h-1.4zM427.34 320.83h1.4v1.4h-1.4zM428.95 319.99h1.4v1.4h-1.4zM426.08 328.96h1.4v1.4h-1.4zM427.7 330.3h1.4v1.4h-1.4zM429.38 327.62h1.4v1.4h-1.4zM425.73 318.74h1.4v1.4h-1.4zM429.65 341.58h1.4v1.4h-1.4zM427.09 326.74h1.4v1.4h-1.4zM427.44 336.12h1.4v1.4h-1.4zM429.04 337.4h1.4v1.4h-1.4zM424.55 321.48h1.4v1.4h-1.4zM426.4 327.15h1.4v1.4h-1.4zM428.17 327.55h1.4v1.4h-1.4zM433.38 328.84h1.4v1.4h-1.4zM429.8 341.42h1.4v1.4h-1.4zM430.41 332.57h1.4v1.4h-1.4zM432.12 326.33h1.4v1.4h-1.4zM424.83 344.22h1.4v1.4h-1.4zM429.42 343.46h1.4v1.4h-1.4zM425.11 343.79h1.4v1.4h-1.4zM427.94 343.59h1.4v1.4h-1.4zM427.11 344.14h1.4v1.4h-1.4zM427.89 342.85h1.4v1.4h-1.4zM432.72 342.75h1.4v1.4h-1.4zM426.99 343.27h1.4v1.4h-1.4zM433.52 342.53h1.4v1.4h-1.4zM426.44 343.89h1.4v1.4h-1.4zM427.3 275.8h1.4v1.4h-1.4zM431.3 275.8h1.4v1.4h-1.4zM427.3 281.2h1.4v1.4h-1.4zM429.8 281.2h1.4v1.4h-1.4z" fill="#17538d"/>
<line x1="429.8" y1="288.6" x2="429.8" y2="319.3" stroke="#17538d" stroke-width="1.35"/>
<line x1="429.8" y1="342.2" x2="429.8" y2="345" stroke="#17538d" stroke-width="1.35"/>
<rect x="418.5" y="319.3" width="22.6" height="22.9" stroke="#17538d" stroke-width="1.35" fill="none"/>
<line x1="418.5" y1="331.7" x2="441.1" y2="331.7" stroke="#17538d" stroke-width="1.35"/>
<path d="M459.49 289.63h1.4v1.4h-1.4zM466 300.67h1.4v1.4h-1.4zM466.1 278.64h1.4v1.4h-1.4zM466.99 287.51h1.4v1.4h-1.4zM466.29 291.75h1.4v1.4h-1.4zM467 291.98h1.4v1.4h-1.4zM461.17 279.87h1.4v1.4h-1.4zM463.37 276.14h1.4v1.4h-1.4zM460.31 306.66h1.4v1.4h-1.4zM464.08 306.24h1.4v1.4h-1.4zM460.19 292.07h1.4v1.4h-1.4zM463.11 278.29h1.4v1.4h-1.4zM461.22 308.41h1.4v1.4h-1.4zM465.46 293.13h1.4v1.4h-1.4zM464.41 306.15h1.4v1.4h-1.4zM467.58 296.3h1.4v1.4h-1.4zM459.26 306.56h1.4v1.4h-1.4zM460.32 283.19h1.4v1.4h-1.4zM460.06 293.25h1.4v1.4h-1.4zM464.16 291.33h1.4v1.4h-1.4zM463.12 279.51h1.4v1.4h-1.4zM465.41 294.19h1.4v1.4h-1.4zM461.64 305.14h1.4v1.4h-1.4zM467.44 308.43h1.4v1.4h-1.4zM467.86 276.85h1.4v1.4h-1.4zM462.38 290.95h1.4v1.4h-1.4zM461.16 301.82h1.4v1.4h-1.4zM467.13 279.43h1.4v1.4h-1.4zM463.46 310.1h1.4v1.4h-1.4zM466.98 290.98h1.4v1.4h-1.4zM459.76 324.99h1.4v1.4h-1.4zM463.56 334.87h1.4v1.4h-1.4zM460.51 319.68h1.4v1.4h-1.4zM467.86 311.65h1.4v1.4h-1.4zM464.42 314.15h1.4v1.4h-1.4zM465.7 324.01h1.4v1.4h-1.4zM467.31 318h1.4v1.4h-1.4zM466.87 318.13h1.4v1.4h-1.4zM459.24 313.89h1.4v1.4h-1.4zM459.5 322.96h1.4v1.4h-1.4zM467.74 321.94h1.4v1.4h-1.4zM465.39 312.33h1.4v1.4h-1.4zM463.55 327.48h1.4v1.4h-1.4zM459.7 328.7h1.4v1.4h-1.4zM462.9 321.12h1.4v1.4h-1.4zM466.44 332.04h1.4v1.4h-1.4zM459.91 314.48h1.4v1.4h-1.4zM459.28 319.2h1.4v1.4h-1.4zM464.66 340.35h1.4v1.4h-1.4zM467.71 337.23h1.4v1.4h-1.4zM459.94 335.06h1.4v1.4h-1.4zM465.81 325.48h1.4v1.4h-1.4zM467.96 329.27h1.4v1.4h-1.4zM459.89 317.78h1.4v1.4h-1.4zM459.99 329.61h1.4v1.4h-1.4zM464.54 337.03h1.4v1.4h-1.4zM458.89 311.59h1.4v1.4h-1.4zM467.75 319.16h1.4v1.4h-1.4zM461.23 337.3h1.4v1.4h-1.4zM459.82 335.09h1.4v1.4h-1.4zM467.05 328.17h1.4v1.4h-1.4zM464.4 311.48h1.4v1.4h-1.4zM464.38 329.71h1.4v1.4h-1.4zM465.89 326.82h1.4v1.4h-1.4zM459.85 317.98h1.4v1.4h-1.4zM464.81 313.69h1.4v1.4h-1.4zM459.78 318.83h1.4v1.4h-1.4zM466.13 327.69h1.4v1.4h-1.4zM462.08 340.21h1.4v1.4h-1.4zM464.15 318.46h1.4v1.4h-1.4zM464 336.96h1.4v1.4h-1.4zM462.19 324.34h1.4v1.4h-1.4zM464.11 340.92h1.4v1.4h-1.4zM464.67 316.74h1.4v1.4h-1.4zM464.15 320.94h1.4v1.4h-1.4zM463.15 332.69h1.4v1.4h-1.4zM458.99 326.53h1.4v1.4h-1.4zM461.69 329.27h1.4v1.4h-1.4zM466.35 325.32h1.4v1.4h-1.4zM464.59 319.96h1.4v1.4h-1.4zM461.16 326.6h1.4v1.4h-1.4zM463.7 318h1.4v1.4h-1.4zM465.84 326.29h1.4v1.4h-1.4zM462.07 318.91h1.4v1.4h-1.4zM466.5 338.36h1.4v1.4h-1.4zM467.43 318.74h1.4v1.4h-1.4zM459.46 330.25h1.4v1.4h-1.4zM459.03 336.99h1.4v1.4h-1.4zM465.05 321.41h1.4v1.4h-1.4zM462.86 331.79h1.4v1.4h-1.4zM460.27 322.25h1.4v1.4h-1.4zM466.04 331.72h1.4v1.4h-1.4zM464.19 314.4h1.4v1.4h-1.4zM460.8 319h1.4v1.4h-1.4zM459.09 330.5h1.4v1.4h-1.4zM464.07 339.03h1.4v1.4h-1.4zM463.9 338.85h1.4v1.4h-1.4zM463.11 326.83h1.4v1.4h-1.4zM461.39 325.23h1.4v1.4h-1.4zM467.42 325.93h1.4v1.4h-1.4zM458.82 321.91h1.4v1.4h-1.4zM460.62 330.01h1.4v1.4h-1.4zM463.48 325.57h1.4v1.4h-1.4zM467.33 334.17h1.4v1.4h-1.4zM459.6 312.22h1.4v1.4h-1.4zM465.25 343.09h1.4v1.4h-1.4zM464.8 342.8h1.4v1.4h-1.4zM459.13 342.66h1.4v1.4h-1.4zM466.49 343.11h1.4v1.4h-1.4zM459.21 341.67h1.4v1.4h-1.4zM467.12 342.93h1.4v1.4h-1.4zM460.31 343.42h1.4v1.4h-1.4zM467.31 343.9h1.4v1.4h-1.4zM464.74 343.72h1.4v1.4h-1.4zM459.61 342.69h1.4v1.4h-1.4zM466.25 342.32h1.4v1.4h-1.4zM460.12 343.9h1.4v1.4h-1.4zM460.8 260.3h1.4v1.4h-1.4zM465.3 260.3h1.4v1.4h-1.4z" fill="#c8143c"/>
<line x1="464.1" y1="275.1" x2="464.1" y2="312.5" stroke="#c8143c" stroke-width="1.35"/>
<line x1="464.1" y1="342" x2="464.1" y2="345" stroke="#c8143c" stroke-width="1.35"/>
<rect x="452.9" y="312.5" width="22.4" height="29.5" stroke="#c8143c" stroke-width="1.35" fill="none"/>
<line x1="452.9" y1="331.7" x2="475.3" y2="331.7" stroke="#c8143c" stroke-width="1.35"/>
<path d="M500.08 301.46h1.4v1.4h-1.4zM494.19 313.56h1.4v1.4h-1.4zM502.38 314.89h1.4v1.4h-1.4zM501.66 303.61h1.4v1.4h-1.4zM498.9 305.3h1.4v1.4h-1.4zM496.65 304.58h1.4v1.4h-1.4zM497.87 302.32h1.4v1.4h-1.4zM499.64 315.52h1.4v1.4h-1.4zM501.92 318.2h1.4v1.4h-1.4zM494.3 320.42h1.4v1.4h-1.4zM498.59 321.9h1.4v1.4h-1.4zM498.13 303.09h1.4v1.4h-1.4zM500.08 305.11h1.4v1.4h-1.4zM502.65 313.16h1.4v1.4h-1.4zM501.9 312.14h1.4v1.4h-1.4zM496.6 315.87h1.4v1.4h-1.4zM500.13 311.42h1.4v1.4h-1.4zM496.14 310.55h1.4v1.4h-1.4zM500.18 306.33h1.4v1.4h-1.4zM495.05 311.95h1.4v1.4h-1.4zM499.65 302.77h1.4v1.4h-1.4zM496.1 322.67h1.4v1.4h-1.4zM496.06 318.28h1.4v1.4h-1.4zM496.41 303.19h1.4v1.4h-1.4zM498.07 320.43h1.4v1.4h-1.4zM500.75 302.36h1.4v1.4h-1.4zM500.07 314.96h1.4v1.4h-1.4zM498.04 315.92h1.4v1.4h-1.4zM498.4 305.33h1.4v1.4h-1.4zM500 304.14h1.4v1.4h-1.4zM496.45 320.03h1.4v1.4h-1.4zM498.83 312.54h1.4v1.4h-1.4zM500.13 312.13h1.4v1.4h-1.4zM497.13 313.45h1.4v1.4h-1.4zM493.81 309.03h1.4v1.4h-1.4zM493.96 341.22h1.4v1.4h-1.4zM501.95 335.07h1.4v1.4h-1.4zM495.06 338.69h1.4v1.4h-1.4zM496.2 337.79h1.4v1.4h-1.4zM499.59 334.19h1.4v1.4h-1.4zM500.42 328.11h1.4v1.4h-1.4zM501.28 333.07h1.4v1.4h-1.4zM500.56 338.42h1.4v1.4h-1.4zM495.94 330.69h1.4v1.4h-1.4zM496.93 324.69h1.4v1.4h-1.4zM501.66 335.64h1.4v1.4h-1.4zM498.11 333.12h1.4v1.4h-1.4zM501.69 324.56h1.4v1.4h-1.4zM496.89 335.65h1.4v1.4h-1.4zM498.52 332.25h1.4v1.4h-1.4zM495.98 327.31h1.4v1.4h-1.4zM499.77 329.44h1.4v1.4h-1.4zM502.22 339.53h1.4v1.4h-1.4zM502.53 328.28h1.4v1.4h-1.4zM498.33 325.18h1.4v1.4h-1.4zM496.91 324.64h1.4v1.4h-1.4zM498.21 340.53h1.4v1.4h-1.4zM500.61 329.85h1.4v1.4h-1.4zM496.14 340.07h1.4v1.4h-1.4zM494.08 338.51h1.4v1.4h-1.4zM501.47 324.54h1.4v1.4h-1.4zM502.35 334.93h1.4v1.4h-1.4zM497.18 330.95h1.4v1.4h-1.4zM499.2 332.78h1.4v1.4h-1.4zM501.58 339.41h1.4v1.4h-1.4zM496.6 323.46h1.4v1.4h-1.4zM500.76 334.96h1.4v1.4h-1.4zM499.63 324.64h1.4v1.4h-1.4zM494.3 339.48h1.4v1.4h-1.4zM496.95 331.81h1.4v1.4h-1.4zM502.55 326.81h1.4v1.4h-1.4zM499.44 324.41h1.4v1.4h-1.4zM498.76 336.6h1.4v1.4h-1.4zM495.05 336.98h1.4v1.4h-1.4zM502.51 338.17h1.4v1.4h-1.4zM500.87 340.35h1.4v1.4h-1.4zM500.19 333.16h1.4v1.4h-1.4zM501.18 337.81h1.4v1.4h-1.4zM499.39 335.34h1.4v1.4h-1.4zM495.24 329.39h1.4v1.4h-1.4zM496.59 338.76h1.4v1.4h-1.4zM500.79 328.53h1.4v1.4h-1.4zM502.74 324.36h1.4v1.4h-1.4zM494.17 329.2h1.4v1.4h-1.4zM494.31 340.4h1.4v1.4h-1.4zM496.9 330.29h1.4v1.4h-1.4zM501.47 332.89h1.4v1.4h-1.4zM499.4 331.22h1.4v1.4h-1.4zM497.83 340.53h1.4v1.4h-1.4zM496.15 332.76h1.4v1.4h-1.4zM498 325.84h1.4v1.4h-1.4zM494.95 332.42h1.4v1.4h-1.4zM500.95 331.08h1.4v1.4h-1.4zM494.14 340.13h1.4v1.4h-1.4zM494.87 339.22h1.4v1.4h-1.4zM494.02 334.99h1.4v1.4h-1.4zM494.94 327.99h1.4v1.4h-1.4zM497.48 336.9h1.4v1.4h-1.4zM497.6 330.83h1.4v1.4h-1.4zM497.3 332.67h1.4v1.4h-1.4zM496.18 340.46h1.4v1.4h-1.4zM495.35 325.69h1.4v1.4h-1.4zM498.65 329.62h1.4v1.4h-1.4zM500.24 324.01h1.4v1.4h-1.4zM499.82 329.86h1.4v1.4h-1.4zM502.13 328.7h1.4v1.4h-1.4zM497.58 329.01h1.4v1.4h-1.4zM498.51 328.36h1.4v1.4h-1.4zM499.76 330.71h1.4v1.4h-1.4zM500.11 328.55h1.4v1.4h-1.4zM497.8 333.33h1.4v1.4h-1.4zM500.21 335.04h1.4v1.4h-1.4zM497.55 324.85h1.4v1.4h-1.4zM494.63 325.94h1.4v1.4h-1.4zM495.29 326.6h1.4v1.4h-1.4zM499.69 342.32h1.4v1.4h-1.4zM501.95 342h1.4v1.4h-1.4zM495.86 341.85h1.4v1.4h-1.4zM494.93 343.35h1.4v1.4h-1.4zM498.92 342.05h1.4v1.4h-1.4zM501.06 343.33h1.4v1.4h-1.4zM497.54 343.12h1.4v1.4h-1.4zM499.64 342.62h1.4v1.4h-1.4zM494.44 342.39h1.4v1.4h-1.4zM502.3 342.42h1.4v1.4h-1.4zM499.48 341.57h1.4v1.4h-1.4zM500.72 343.89h1.4v1.4h-1.4zM496.3 254.9h1.4v1.4h-1.4zM500.3 254.9h1.4v1.4h-1.4zM496.3 273.1h1.4v1.4h-1.4zM500.3 273.1h1.4v1.4h-1.4zM496.3 290.3h1.4v1.4h-1.4zM500.3 290.3h1.4v1.4h-1.4z" fill="#17538d"/>
<line x1="498.9" y1="302.1" x2="498.9" y2="324.6" stroke="#17538d" stroke-width="1.35"/>
<line x1="498.9" y1="341.7" x2="498.9" y2="345" stroke="#17538d" stroke-width="1.35"/>
<rect x="487.6" y="324.6" width="22.6" height="17.1" stroke="#17538d" stroke-width="1.35" fill="none"/>
<line x1="487.6" y1="331.4" x2="510.2" y2="331.4" stroke="#17538d" stroke-width="1.35"/>
<text x="415.7" y="229.4" font-size="7.6" font-style="italic" textLength="27.1" lengthAdjust="spacing">p=0.04</text>
<text x="465.6" y="231" font-size="7.6" font-style="italic" textLength="30.5" lengthAdjust="spacing">p=0.004</text>
<text x="396" y="252.7" font-size="7.6" font-style="italic" textLength="30.6" lengthAdjust="spacing">p=0.003</text>
<path d="M394.4 239.1V234.9H463.9V239.1" stroke="#111111" stroke-width="1.4" fill="none"/>
<path d="M464.5 239.1V234.9H498.7V239.1" stroke="#111111" stroke-width="1.4" fill="none"/>
<path d="M394.4 260.8V256.8H429.5V260.8" stroke="#111111" stroke-width="1.4" fill="none"/>
<text x="98.3" y="417.8" font-size="9.5" text-anchor="middle" textLength="82.4" lengthAdjust="spacingAndGlyphs" class="tt">Total nuclear pATM</text>
<line x1="51" y1="445.6" x2="51" y2="556.1" stroke="#111111" stroke-width="1.3"/>
<line x1="47.8" y1="550.8" x2="51" y2="550.8" stroke="#111111" stroke-width="1.1"/>
<text x="45" y="553.8" font-size="8.2" text-anchor="end" textLength="4.2" lengthAdjust="spacingAndGlyphs">0</text>
<line x1="47.8" y1="525.45" x2="51" y2="525.45" stroke="#111111" stroke-width="1.1"/>
<text x="45" y="528.45" font-size="8.2" text-anchor="end" textLength="16.78" lengthAdjust="spacingAndGlyphs">2500</text>
<line x1="47.8" y1="500.1" x2="51" y2="500.1" stroke="#111111" stroke-width="1.1"/>
<text x="45" y="503.1" font-size="8.2" text-anchor="end" textLength="16.78" lengthAdjust="spacingAndGlyphs">5000</text>
<line x1="47.8" y1="474.75" x2="51" y2="474.75" stroke="#111111" stroke-width="1.1"/>
<text x="45" y="477.75" font-size="8.2" text-anchor="end" textLength="16.78" lengthAdjust="spacingAndGlyphs">7500</text>
<line x1="47.8" y1="449.4" x2="51" y2="449.4" stroke="#111111" stroke-width="1.1"/>
<text x="45" y="452.4" font-size="8.2" text-anchor="end" textLength="20.98" lengthAdjust="spacingAndGlyphs">10000</text>
<line x1="51" y1="555.6" x2="158.8" y2="555.6" stroke="#111111" stroke-width="1.4"/>
<line x1="80.3" y1="555.6" x2="80.3" y2="558.6" stroke="#111111" stroke-width="1.1"/>
<line x1="129.1" y1="555.6" x2="129.1" y2="558.6" stroke="#111111" stroke-width="1.1"/>
<text x="15.85" y="500.2" font-size="9.59" text-anchor="middle" textLength="32.7" lengthAdjust="spacingAndGlyphs" transform="rotate(-90 15.85 500.2)" class="yl">pATM MFI</text>
<text x="80.3" y="568.8" font-size="8.4" text-anchor="middle" textLength="24.8" lengthAdjust="spacingAndGlyphs">gHPRT</text>
<text x="129.1" y="568.8" font-size="8.4" text-anchor="middle" textLength="24.8" lengthAdjust="spacingAndGlyphs">gCUX1</text>
<text x="86.1" y="433.4" font-size="7.6" font-style="italic" textLength="37.5" lengthAdjust="spacing">p=8×10<tspan dy="-3.19" font-size="5.62">−9</tspan></text>
<path d="M80.3 443.8V438.8H129.1V443.8" stroke="#111111" stroke-width="1.4" fill="none"/>
<path d="M78.26 504.88h1.4v1.4h-1.4zM79.74 503.08h1.4v1.4h-1.4zM76.52 501.23h1.4v1.4h-1.4zM81.58 506.94h1.4v1.4h-1.4zM84.44 513.74h1.4v1.4h-1.4zM83.57 513.47h1.4v1.4h-1.4zM83.18 499.67h1.4v1.4h-1.4zM75.67 523.08h1.4v1.4h-1.4zM83.56 519.84h1.4v1.4h-1.4zM80.87 518.23h1.4v1.4h-1.4zM78.8 515.61h1.4v1.4h-1.4zM80.11 516.77h1.4v1.4h-1.4zM75.59 522.13h1.4v1.4h-1.4zM80.39 522.19h1.4v1.4h-1.4zM77.42 519.49h1.4v1.4h-1.4zM77.23 521.78h1.4v1.4h-1.4zM76.52 520.13h1.4v1.4h-1.4zM80.18 524.6h1.4v1.4h-1.4zM75.15 525.25h1.4v1.4h-1.4zM79.84 526.57h1.4v1.4h-1.4zM76.45 524.04h1.4v1.4h-1.4zM77.54 526.51h1.4v1.4h-1.4zM76.76 525.84h1.4v1.4h-1.4zM74.64 523.63h1.4v1.4h-1.4zM81.81 525.29h1.4v1.4h-1.4zM75.49 525.19h1.4v1.4h-1.4zM84.27 524.86h1.4v1.4h-1.4zM80.2 524.98h1.4v1.4h-1.4zM79.66 523.47h1.4v1.4h-1.4zM83.66 525.62h1.4v1.4h-1.4zM77.98 524.44h1.4v1.4h-1.4zM76.28 527.03h1.4v1.4h-1.4zM83.21 524.81h1.4v1.4h-1.4zM80.69 533.93h1.4v1.4h-1.4zM76.42 527.7h1.4v1.4h-1.4zM82.09 529.25h1.4v1.4h-1.4zM80.29 527.51h1.4v1.4h-1.4zM74.53 529.27h1.4v1.4h-1.4zM81.23 534.65h1.4v1.4h-1.4zM84.81 535.22h1.4v1.4h-1.4zM79.83 527.46h1.4v1.4h-1.4zM84.46 533.17h1.4v1.4h-1.4zM83.39 527.8h1.4v1.4h-1.4zM83.15 533.01h1.4v1.4h-1.4zM76.6 532.17h1.4v1.4h-1.4zM75.1 534.27h1.4v1.4h-1.4zM76.62 535.72h1.4v1.4h-1.4zM76.14 535.58h1.4v1.4h-1.4zM80.85 535.84h1.4v1.4h-1.4zM84.37 530.84h1.4v1.4h-1.4zM81.54 532.07h1.4v1.4h-1.4zM83.78 537.2h1.4v1.4h-1.4zM82.39 534.5h1.4v1.4h-1.4zM77.07 538.19h1.4v1.4h-1.4zM84.57 538.7h1.4v1.4h-1.4zM77.88 537.16h1.4v1.4h-1.4zM81.5 537.38h1.4v1.4h-1.4zM82.8 532.75h1.4v1.4h-1.4zM78.49 536.85h1.4v1.4h-1.4zM81.24 533.78h1.4v1.4h-1.4zM83.56 527.68h1.4v1.4h-1.4zM74.44 532.88h1.4v1.4h-1.4zM75.33 537.41h1.4v1.4h-1.4zM75.23 537.89h1.4v1.4h-1.4zM76.69 528.91h1.4v1.4h-1.4zM82.29 535.43h1.4v1.4h-1.4zM78.65 534.45h1.4v1.4h-1.4zM80.16 538.68h1.4v1.4h-1.4zM79.68 533.78h1.4v1.4h-1.4zM79.2 532.24h1.4v1.4h-1.4zM81.61 528.64h1.4v1.4h-1.4zM81.64 538.44h1.4v1.4h-1.4zM82.37 533.82h1.4v1.4h-1.4zM78.05 528.47h1.4v1.4h-1.4zM75.28 533.77h1.4v1.4h-1.4zM83.63 537.69h1.4v1.4h-1.4zM76.24 536.29h1.4v1.4h-1.4zM82.86 533.06h1.4v1.4h-1.4zM83.4 529.54h1.4v1.4h-1.4zM77.86 533.47h1.4v1.4h-1.4zM82 532.69h1.4v1.4h-1.4zM77.5 537.7h1.4v1.4h-1.4zM78.45 532.34h1.4v1.4h-1.4zM76.67 533.1h1.4v1.4h-1.4zM81.79 531.64h1.4v1.4h-1.4zM81.32 533.22h1.4v1.4h-1.4zM74.43 538.85h1.4v1.4h-1.4zM77.35 533.85h1.4v1.4h-1.4zM84.46 529.78h1.4v1.4h-1.4zM74.98 529.76h1.4v1.4h-1.4zM75.92 537.51h1.4v1.4h-1.4zM79.78 527.8h1.4v1.4h-1.4zM77.18 533.43h1.4v1.4h-1.4zM76.15 530.98h1.4v1.4h-1.4zM83.89 532.63h1.4v1.4h-1.4zM76.77 534.47h1.4v1.4h-1.4zM75.5 533.54h1.4v1.4h-1.4zM81.17 528.36h1.4v1.4h-1.4zM80.11 531.01h1.4v1.4h-1.4zM82.19 534.69h1.4v1.4h-1.4zM83.94 534.59h1.4v1.4h-1.4zM76.24 529.53h1.4v1.4h-1.4zM81.76 537.02h1.4v1.4h-1.4zM74.96 532.3h1.4v1.4h-1.4zM77.3 532.91h1.4v1.4h-1.4zM83.55 534.02h1.4v1.4h-1.4zM82.19 536.48h1.4v1.4h-1.4zM77.24 534.72h1.4v1.4h-1.4zM78.28 532.99h1.4v1.4h-1.4zM79.92 535.3h1.4v1.4h-1.4zM76.08 537.36h1.4v1.4h-1.4zM76.01 531.06h1.4v1.4h-1.4zM83.3 539.12h1.4v1.4h-1.4zM78.19 538.72h1.4v1.4h-1.4zM74.7 538.76h1.4v1.4h-1.4zM76.43 527.72h1.4v1.4h-1.4zM82.38 529.24h1.4v1.4h-1.4zM82.27 527.38h1.4v1.4h-1.4zM75.61 531.59h1.4v1.4h-1.4zM75.19 532.95h1.4v1.4h-1.4zM77.97 536.16h1.4v1.4h-1.4zM79.52 538.88h1.4v1.4h-1.4zM83.24 529.35h1.4v1.4h-1.4zM84.02 538.04h1.4v1.4h-1.4zM80.29 533.62h1.4v1.4h-1.4zM76.1 531.15h1.4v1.4h-1.4zM76.63 529.65h1.4v1.4h-1.4zM80.81 531.19h1.4v1.4h-1.4zM82.44 534.18h1.4v1.4h-1.4zM83.07 528.35h1.4v1.4h-1.4zM83.28 533.39h1.4v1.4h-1.4zM81 530.16h1.4v1.4h-1.4zM81.68 532.17h1.4v1.4h-1.4zM81.95 534.31h1.4v1.4h-1.4zM75.79 530.91h1.4v1.4h-1.4zM82.27 527.49h1.4v1.4h-1.4zM81 533.84h1.4v1.4h-1.4zM81.88 531.25h1.4v1.4h-1.4zM79.36 533.02h1.4v1.4h-1.4zM82.24 528.18h1.4v1.4h-1.4zM79.71 530.42h1.4v1.4h-1.4zM80.55 530.41h1.4v1.4h-1.4zM76.49 530.08h1.4v1.4h-1.4zM83.79 531.66h1.4v1.4h-1.4zM83.63 536.12h1.4v1.4h-1.4zM77.15 533.95h1.4v1.4h-1.4zM74.39 538.49h1.4v1.4h-1.4zM80.99 528.65h1.4v1.4h-1.4zM79.8 533.24h1.4v1.4h-1.4zM81.41 530.77h1.4v1.4h-1.4zM83.94 534.77h1.4v1.4h-1.4zM75.07 537.12h1.4v1.4h-1.4zM83.68 530.95h1.4v1.4h-1.4zM81.84 543.6h1.4v1.4h-1.4zM83.65 539.65h1.4v1.4h-1.4zM83.17 540.54h1.4v1.4h-1.4zM82.8 542.73h1.4v1.4h-1.4zM79.24 543.81h1.4v1.4h-1.4zM82.82 544.27h1.4v1.4h-1.4zM84.46 542.17h1.4v1.4h-1.4zM82.09 542.65h1.4v1.4h-1.4zM78.54 541.79h1.4v1.4h-1.4zM79.68 540.38h1.4v1.4h-1.4zM77.07 543.52h1.4v1.4h-1.4zM83.27 542.79h1.4v1.4h-1.4zM81.6 541.85h1.4v1.4h-1.4zM80.38 542.63h1.4v1.4h-1.4zM74.38 541.52h1.4v1.4h-1.4zM84.58 540.33h1.4v1.4h-1.4zM77.8 490.1h1.4v1.4h-1.4zM80.1 490.1h1.4v1.4h-1.4z" fill="#c8143c"/>
<line x1="80.3" y1="520" x2="80.3" y2="528.4" stroke="#c8143c" stroke-width="1.35"/>
<line x1="80.3" y1="537.3" x2="80.3" y2="543" stroke="#c8143c" stroke-width="1.35"/>
<rect x="68.45" y="528.4" width="23.7" height="8.9" stroke="#c8143c" stroke-width="1.35" fill="none"/>
<line x1="68.45" y1="533.1" x2="92.15" y2="533.1" stroke="#c8143c" stroke-width="1.35"/>
<path d="M128.09 450.13h1.3v1.3h-1.3zM125.71 462.45h1.3v1.3h-1.3zM123.22 462.03h1.3v1.3h-1.3zM131.79 463.17h1.3v1.3h-1.3zM125.73 464.22h1.3v1.3h-1.3zM127.01 456.28h1.3v1.3h-1.3zM133.5 457.83h1.3v1.3h-1.3zM130.48 450.67h1.3v1.3h-1.3zM122.9 453.22h1.3v1.3h-1.3zM124.03 462.45h1.3v1.3h-1.3zM125.65 464.65h1.3v1.3h-1.3zM130.45 452.01h1.3v1.3h-1.3zM130.81 454.1h1.3v1.3h-1.3zM128.75 450.1h1.3v1.3h-1.3zM132.18 476.37h1.3v1.3h-1.3zM129.36 475.02h1.3v1.3h-1.3zM126.66 467.14h1.3v1.3h-1.3zM126.49 475.71h1.3v1.3h-1.3zM129.16 467.24h1.3v1.3h-1.3zM125.55 472h1.3v1.3h-1.3zM123.01 479.75h1.3v1.3h-1.3zM127.89 480.55h1.3v1.3h-1.3zM132.81 480.51h1.3v1.3h-1.3zM131.24 486.5h1.3v1.3h-1.3zM126.38 484.23h1.3v1.3h-1.3zM133.96 484.9h1.3v1.3h-1.3zM127.19 488.13h1.3v1.3h-1.3zM125.76 487.95h1.3v1.3h-1.3zM126.32 483.14h1.3v1.3h-1.3zM126.39 485.22h1.3v1.3h-1.3zM132.73 485.55h1.3v1.3h-1.3zM124.89 488.26h1.3v1.3h-1.3zM130.94 501.51h1.3v1.3h-1.3zM132.37 491.14h1.3v1.3h-1.3zM129.55 508.78h1.3v1.3h-1.3zM131.55 505.85h1.3v1.3h-1.3zM123.55 500.79h1.3v1.3h-1.3zM125.86 504.16h1.3v1.3h-1.3zM127.3 500.2h1.3v1.3h-1.3zM128.87 503.65h1.3v1.3h-1.3zM132.82 495.69h1.3v1.3h-1.3zM125.93 493.15h1.3v1.3h-1.3zM124.11 510.43h1.3v1.3h-1.3zM133.15 491.62h1.3v1.3h-1.3zM126.88 511.86h1.3v1.3h-1.3zM132.53 513.79h1.3v1.3h-1.3zM133.97 496.25h1.3v1.3h-1.3zM123.59 494.84h1.3v1.3h-1.3zM128.48 488.75h1.3v1.3h-1.3zM125.69 500.65h1.3v1.3h-1.3zM130.48 492.37h1.3v1.3h-1.3zM124.23 496.94h1.3v1.3h-1.3zM123.87 491.53h1.3v1.3h-1.3zM124.01 509.14h1.3v1.3h-1.3zM132.7 489.46h1.3v1.3h-1.3zM131.86 510.28h1.3v1.3h-1.3zM130.14 520.95h1.3v1.3h-1.3zM132.03 516.14h1.3v1.3h-1.3zM123.37 535.35h1.3v1.3h-1.3zM125.33 534.49h1.3v1.3h-1.3zM131.3 515.38h1.3v1.3h-1.3zM123.91 528.57h1.3v1.3h-1.3zM124.49 529h1.3v1.3h-1.3zM130.38 519.44h1.3v1.3h-1.3zM128.19 519.01h1.3v1.3h-1.3zM132.61 528.22h1.3v1.3h-1.3zM130.59 528.02h1.3v1.3h-1.3zM123.53 533.84h1.3v1.3h-1.3zM131.58 525.68h1.3v1.3h-1.3zM129.46 525.18h1.3v1.3h-1.3zM131.31 526.08h1.3v1.3h-1.3zM125.96 525.71h1.3v1.3h-1.3zM125.24 514.46h1.3v1.3h-1.3zM128.68 533.5h1.3v1.3h-1.3zM130.91 518.95h1.3v1.3h-1.3zM128.54 527.18h1.3v1.3h-1.3zM129.34 524.47h1.3v1.3h-1.3zM128.56 529.49h1.3v1.3h-1.3zM132.72 525.69h1.3v1.3h-1.3zM131.63 529.31h1.3v1.3h-1.3zM124.19 520.05h1.3v1.3h-1.3zM126.36 522.14h1.3v1.3h-1.3zM128.35 520.83h1.3v1.3h-1.3zM134.03 530.5h1.3v1.3h-1.3zM127.01 529.75h1.3v1.3h-1.3zM133.21 517.86h1.3v1.3h-1.3zM129.9 535.44h1.3v1.3h-1.3zM127.05 533.65h1.3v1.3h-1.3zM131.85 521.39h1.3v1.3h-1.3zM124.47 532.09h1.3v1.3h-1.3zM127.5 522.06h1.3v1.3h-1.3zM128.04 530.37h1.3v1.3h-1.3zM132.86 534.51h1.3v1.3h-1.3zM131.43 518.22h1.3v1.3h-1.3zM126.99 514.5h1.3v1.3h-1.3zM125.1 521.84h1.3v1.3h-1.3zM124.84 524.83h1.3v1.3h-1.3zM124.33 528.72h1.3v1.3h-1.3zM127.45 519.78h1.3v1.3h-1.3zM130.53 521.57h1.3v1.3h-1.3zM123.12 532.79h1.3v1.3h-1.3zM131.3 533.67h1.3v1.3h-1.3zM126.14 520.16h1.3v1.3h-1.3zM130.65 517.57h1.3v1.3h-1.3zM133.68 528.72h1.3v1.3h-1.3zM128.99 515.48h1.3v1.3h-1.3zM126.02 523.66h1.3v1.3h-1.3zM133.83 517.54h1.3v1.3h-1.3zM129.48 516.06h1.3v1.3h-1.3zM133.73 530.79h1.3v1.3h-1.3zM131.95 530.83h1.3v1.3h-1.3zM124.86 540.21h1.3v1.3h-1.3zM123.29 545.17h1.3v1.3h-1.3zM123.76 539.36h1.3v1.3h-1.3zM124.8 551.07h1.3v1.3h-1.3zM131.69 540.92h1.3v1.3h-1.3zM133.72 538.9h1.3v1.3h-1.3zM124.42 542.45h1.3v1.3h-1.3zM131.87 537.93h1.3v1.3h-1.3zM131.69 545.06h1.3v1.3h-1.3zM131.79 541.73h1.3v1.3h-1.3zM123.32 537.93h1.3v1.3h-1.3zM130.95 544.46h1.3v1.3h-1.3zM131.4 539.53h1.3v1.3h-1.3zM125.98 539.73h1.3v1.3h-1.3zM132.38 547.6h1.3v1.3h-1.3zM124.58 547.96h1.3v1.3h-1.3zM123.28 543.81h1.3v1.3h-1.3zM125.73 548.58h1.3v1.3h-1.3zM130.9 547.29h1.3v1.3h-1.3zM125.06 537.04h1.3v1.3h-1.3zM130.02 547.46h1.3v1.3h-1.3zM122.95 549.76h1.3v1.3h-1.3zM132.9 542.13h1.3v1.3h-1.3zM128.66 546.77h1.3v1.3h-1.3zM133.22 546.74h1.3v1.3h-1.3zM128.63 548.65h1.3v1.3h-1.3zM128.34 536.88h1.3v1.3h-1.3zM128.98 542.97h1.3v1.3h-1.3zM126.6 542.66h1.3v1.3h-1.3zM125.33 541.34h1.3v1.3h-1.3zM131.22 550.52h1.3v1.3h-1.3zM127.96 549.88h1.3v1.3h-1.3zM124.26 544.6h1.3v1.3h-1.3zM131.19 548.85h1.3v1.3h-1.3zM127.19 539.04h1.3v1.3h-1.3zM133.61 546.1h1.3v1.3h-1.3zM130.17 541.89h1.3v1.3h-1.3zM124.12 545.48h1.3v1.3h-1.3zM127.38 550.59h1.3v1.3h-1.3zM130.28 548.44h1.3v1.3h-1.3zM129.23 548.4h1.3v1.3h-1.3zM124.35 552.29h1.3v1.3h-1.3z" fill="#17538d"/>
<line x1="129.1" y1="449.5" x2="129.1" y2="496" stroke="#17538d" stroke-width="1.35"/>
<line x1="129.1" y1="537.3" x2="129.1" y2="552.5" stroke="#17538d" stroke-width="1.35"/>
<rect x="117.65" y="496" width="22.9" height="41.3" stroke="#17538d" stroke-width="1.35" fill="none"/>
<text x="274.1" y="417.8" font-size="9.5" text-anchor="middle" textLength="54.7" lengthAdjust="spacingAndGlyphs" class="tt">pATM at foci</text>
<line x1="217" y1="440.1" x2="217" y2="556.1" stroke="#111111" stroke-width="1.3"/>
<line x1="213.8" y1="551.2" x2="217" y2="551.2" stroke="#111111" stroke-width="1.1"/>
<text x="211" y="554.2" font-size="8.2" text-anchor="end" textLength="4.2" lengthAdjust="spacingAndGlyphs">0</text>
<line x1="213.8" y1="530.12" x2="217" y2="530.12" stroke="#111111" stroke-width="1.1"/>
<text x="211" y="533.12" font-size="8.2" text-anchor="end" textLength="8.39" lengthAdjust="spacingAndGlyphs">50</text>
<line x1="213.8" y1="509.04" x2="217" y2="509.04" stroke="#111111" stroke-width="1.1"/>
<text x="211" y="512.04" font-size="8.2" text-anchor="end" textLength="12.59" lengthAdjust="spacingAndGlyphs">100</text>
<line x1="213.8" y1="487.96" x2="217" y2="487.96" stroke="#111111" stroke-width="1.1"/>
<text x="211" y="490.96" font-size="8.2" text-anchor="end" textLength="12.59" lengthAdjust="spacingAndGlyphs">150</text>
<line x1="213.8" y1="466.88" x2="217" y2="466.88" stroke="#111111" stroke-width="1.1"/>
<text x="211" y="469.88" font-size="8.2" text-anchor="end" textLength="12.59" lengthAdjust="spacingAndGlyphs">200</text>
<line x1="213.8" y1="445.8" x2="217" y2="445.8" stroke="#111111" stroke-width="1.1"/>
<text x="211" y="448.8" font-size="8.2" text-anchor="end" textLength="12.59" lengthAdjust="spacingAndGlyphs">250</text>
<line x1="217" y1="555.5" x2="324.3" y2="555.5" stroke="#111111" stroke-width="1.4"/>
<line x1="243.2" y1="555.5" x2="243.2" y2="558.5" stroke="#111111" stroke-width="1.1"/>
<line x1="287.9" y1="555.5" x2="287.9" y2="558.5" stroke="#111111" stroke-width="1.1"/>
<text x="191.75" y="500.1" font-size="9.59" text-anchor="middle" textLength="32.7" lengthAdjust="spacingAndGlyphs" transform="rotate(-90 191.75 500.1)" class="yl">pATM MFI</text>
<text x="243.2" y="568.8" font-size="8.4" text-anchor="middle" textLength="24.8" lengthAdjust="spacingAndGlyphs">gHPRT</text>
<text x="287.9" y="568.8" font-size="8.4" text-anchor="middle" textLength="24.8" lengthAdjust="spacingAndGlyphs">gCUX1</text>
<text x="243.8" y="431.2" font-size="7.6" font-style="italic" textLength="42.7" lengthAdjust="spacing">p=8.4×10<tspan dy="-3.19" font-size="5.62">−7</tspan></text>
<path d="M243.2 441V435.4H287.9V441" stroke="#111111" stroke-width="1.4" fill="none"/>
<path d="M243.7 447.3L243.76 449.81L243.83 453.37L243.91 457.54L244.03 461.87L244.19 465.91L244.4 469.2L244.68 471.7L245.01 473.75L245.38 475.51L245.78 477.13L246.19 478.74L246.6 480.5L247.02 482.4L247.46 484.32L247.91 486.24L248.36 488.14L248.8 490L249.2 491.8L249.54 493.56L249.82 495.3L250.09 497.01L250.38 498.64L250.73 500.18L251.2 501.6L251.8 502.88L252.5 504.04L253.26 505.11L254.06 506.1L254.85 507.06L255.6 508L256.33 508.89L257.08 509.71L257.82 510.49L258.54 511.26L259.21 512.05L259.8 512.9L260.34 513.8L260.86 514.74L261.32 515.71L261.72 516.68L262.02 517.65L262.2 518.6L262.27 519.53L262.24 520.44L262.12 521.35L261.91 522.27L261.6 523.22L261.2 524.2L260.67 525.23L260 526.3L259.24 527.39L258.43 528.5L257.6 529.61L256.8 530.7L256 531.78L255.17 532.87L254.33 533.95L253.49 535.03L252.67 536.12L251.9 537.2L251.16 538.33L250.42 539.5L249.71 540.68L249.04 541.8L248.43 542.83L247.9 543.7L247.44 544.42L247.06 545.03L246.72 545.53L246.44 545.95L246.21 546.3L246 546.6L245.84 546.82L245.74 546.93L245.68 546.98L245.65 546.99L245.63 546.99L245.6 547L241.2 547L241.17 546.99L241.15 546.99L241.12 546.98L241.06 546.93L240.96 546.82L240.8 546.6L240.59 546.3L240.36 545.95L240.08 545.53L239.74 545.03L239.36 544.42L238.9 543.7L238.37 542.83L237.76 541.8L237.09 540.68L236.38 539.5L235.64 538.33L234.9 537.2L234.13 536.12L233.31 535.03L232.47 533.95L231.63 532.87L230.8 531.78L230 530.7L229.2 529.61L228.37 528.5L227.56 527.39L226.8 526.3L226.13 525.23L225.6 524.2L225.2 523.22L224.89 522.27L224.68 521.35L224.56 520.44L224.53 519.53L224.6 518.6L224.78 517.65L225.08 516.68L225.48 515.71L225.94 514.74L226.46 513.8L227 512.9L227.59 512.05L228.26 511.26L228.98 510.49L229.72 509.71L230.47 508.89L231.2 508L231.95 507.06L232.74 506.1L233.54 505.11L234.3 504.04L235 502.88L235.6 501.6L236.07 500.18L236.42 498.64L236.71 497.01L236.98 495.3L237.26 493.56L237.6 491.8L238 490L238.44 488.14L238.89 486.24L239.34 484.32L239.78 482.4L240.2 480.5L240.61 478.74L241.02 477.13L241.42 475.51L241.79 473.75L242.12 471.7L242.4 469.2L242.61 465.91L242.77 461.87L242.89 457.54L242.97 453.37L243.04 449.81L243.1 447.3Z" stroke="#c8143c" stroke-width="1.45" fill="none" stroke-linejoin="round"/>
<line x1="224.6" y1="518.6" x2="262.2" y2="518.6" stroke="#c8143c" stroke-width="1.45"/>
<path d="M288.2 445.7L288.23 447.75L288.26 450.61L288.3 453.99L288.37 457.59L288.5 461.12L288.7 464.3L288.98 467.18L289.32 470L289.72 472.75L290.16 475.43L290.62 478.01L291.1 480.5L291.61 482.87L292.16 485.13L292.73 487.31L293.32 489.41L293.92 491.47L294.5 493.5L295.06 495.52L295.61 497.51L296.16 499.46L296.73 501.33L297.33 503.12L298 504.8L298.75 506.34L299.59 507.74L300.46 509.05L301.33 510.32L302.15 511.59L302.9 512.9L303.58 514.29L304.22 515.72L304.82 517.15L305.37 518.54L305.87 519.84L306.3 521L306.69 521.98L307.05 522.81L307.35 523.56L307.57 524.27L307.7 525.03L307.7 525.9L307.59 526.88L307.38 527.92L307.07 529L306.66 530.1L306.13 531.21L305.5 532.3L304.71 533.38L303.77 534.46L302.72 535.54L301.61 536.63L300.49 537.72L299.4 538.8L298.3 539.9L297.16 541.02L295.99 542.14L294.86 543.24L293.78 544.3L292.8 545.3L291.89 546.29L291.01 547.29L290.19 548.26L289.46 549.13L288.85 549.86L288.4 550.4L287.4 550.4L286.95 549.86L286.34 549.13L285.61 548.26L284.79 547.29L283.91 546.29L283 545.3L282.02 544.3L280.94 543.24L279.81 542.14L278.64 541.02L277.5 539.9L276.4 538.8L275.31 537.72L274.19 536.63L273.07 535.54L272.03 534.46L271.09 533.38L270.3 532.3L269.67 531.21L269.14 530.1L268.73 529L268.42 527.92L268.21 526.88L268.1 525.9L268.1 525.03L268.23 524.27L268.45 523.56L268.75 522.81L269.11 521.98L269.5 521L269.93 519.84L270.43 518.54L270.98 517.15L271.58 515.72L272.22 514.29L272.9 512.9L273.65 511.59L274.47 510.32L275.34 509.05L276.21 507.74L277.05 506.34L277.8 504.8L278.47 503.12L279.07 501.33L279.64 499.46L280.19 497.51L280.74 495.52L281.3 493.5L281.88 491.47L282.48 489.41L283.07 487.31L283.64 485.13L284.19 482.87L284.7 480.5L285.18 478.01L285.64 475.43L286.08 472.75L286.48 470L286.82 467.18L287.1 464.3L287.3 461.12L287.43 457.59L287.5 453.99L287.54 450.61L287.57 447.75L287.6 445.7Z" stroke="#17538d" stroke-width="1.45" fill="none" stroke-linejoin="round"/>
<line x1="269.5" y1="521.5" x2="306.3" y2="521.5" stroke="#17538d" stroke-width="1.45"/>
<text x="434.4" y="417.8" font-size="9.5" text-anchor="middle" textLength="57.1" lengthAdjust="spacingAndGlyphs" class="tt">53BP1 at foci</text>
<line x1="380.3" y1="440" x2="380.3" y2="556.1" stroke="#111111" stroke-width="1.3"/>
<line x1="377" y1="550.7" x2="380.3" y2="550.7" stroke="#111111" stroke-width="1.1"/>
<text x="374" y="553.7" font-size="8.2" text-anchor="end" textLength="4.2" lengthAdjust="spacingAndGlyphs">0</text>
<line x1="377" y1="524.48" x2="380.3" y2="524.48" stroke="#111111" stroke-width="1.1"/>
<text x="374" y="527.48" font-size="8.2" text-anchor="end" textLength="8.39" lengthAdjust="spacingAndGlyphs">25</text>
<line x1="377" y1="498.25" x2="380.3" y2="498.25" stroke="#111111" stroke-width="1.1"/>
<text x="374" y="501.25" font-size="8.2" text-anchor="end" textLength="8.39" lengthAdjust="spacingAndGlyphs">50</text>
<line x1="377" y1="472.03" x2="380.3" y2="472.03" stroke="#111111" stroke-width="1.1"/>
<text x="374" y="475.03" font-size="8.2" text-anchor="end" textLength="8.39" lengthAdjust="spacingAndGlyphs">75</text>
<line x1="377" y1="445.8" x2="380.3" y2="445.8" stroke="#111111" stroke-width="1.1"/>
<text x="374" y="448.8" font-size="8.2" text-anchor="end" textLength="12.59" lengthAdjust="spacingAndGlyphs">100</text>
<line x1="380.3" y1="555.5" x2="488.2" y2="555.5" stroke="#111111" stroke-width="1.4"/>
<line x1="408.7" y1="555.5" x2="408.7" y2="558.5" stroke="#111111" stroke-width="1.1"/>
<line x1="456.9" y1="555.5" x2="456.9" y2="558.5" stroke="#111111" stroke-width="1.1"/>
<text x="354.95" y="500.1" font-size="9.59" text-anchor="middle" textLength="36.3" lengthAdjust="spacingAndGlyphs" transform="rotate(-90 354.95 500.1)" class="yl">53BP1 MFI</text>
<text x="408.7" y="568.8" font-size="8.4" text-anchor="middle" textLength="24.8" lengthAdjust="spacingAndGlyphs">gHPRT</text>
<text x="456.9" y="568.8" font-size="8.4" text-anchor="middle" textLength="24.8" lengthAdjust="spacingAndGlyphs">gCUX1</text>
<text x="413" y="430.6" font-size="7.6" font-style="italic" textLength="40.2" lengthAdjust="spacing">p=2×10<tspan dy="-3.19" font-size="5.62">−16</tspan></text>
<path d="M408.7 444V435.8H456.9V444" stroke="#111111" stroke-width="1.4" fill="none"/>
<path d="M409.1 455.9L409.1 459.99L409.1 465.8L409.1 472.6L409.15 479.69L409.2 486.36L409.25 491.9L409.3 496.25L409.35 499.96L409.4 503.25L409.45 506.33L409.52 509.41L409.6 512.7L409.69 516.33L409.78 520.15L409.88 523.97L409.99 527.6L410.13 530.84L410.3 533.5L410.49 535.49L410.71 536.96L410.95 538.04L411.21 538.87L411.49 539.61L411.8 540.4L412.15 541.17L412.56 541.79L412.99 542.31L413.41 542.79L413.79 543.27L414.1 543.8L414.35 544.39L414.57 545L414.75 545.61L414.89 546.2L414.97 546.77L415 547.3L414.96 547.79L414.87 548.26L414.72 548.71L414.53 549.11L414.32 549.48L414.1 549.8L413.83 550.07L413.5 550.28L413.14 550.46L412.8 550.6L412.51 550.71L412.3 550.8L405.3 550.8L405.09 550.71L404.8 550.6L404.46 550.46L404.1 550.28L403.77 550.07L403.5 549.8L403.28 549.48L403.07 549.11L402.88 548.71L402.73 548.26L402.64 547.79L402.6 547.3L402.63 546.77L402.71 546.2L402.85 545.61L403.03 545L403.25 544.39L403.5 543.8L403.81 543.27L404.19 542.79L404.61 542.31L405.04 541.79L405.45 541.17L405.8 540.4L406.11 539.61L406.39 538.87L406.65 538.04L406.89 536.96L407.11 535.49L407.3 533.5L407.47 530.84L407.61 527.6L407.72 523.97L407.82 520.15L407.91 516.33L408 512.7L408.08 509.41L408.15 506.33L408.2 503.25L408.25 499.96L408.3 496.25L408.35 491.9L408.4 486.36L408.45 479.69L408.5 472.6L408.5 465.8L408.5 459.99L408.5 455.9Z" stroke="#c8143c" stroke-width="1.45" fill="none" stroke-linejoin="round"/>
<line x1="404.3" y1="550.2" x2="413.3" y2="550.2" stroke="#c8143c" stroke-width="1.45"/>
<path d="M457.1 445.2L457.1 450.42L457.1 457.92L457.12 466.66L457.17 475.61L457.23 483.74L457.3 490L457.38 494.22L457.49 497.21L457.6 499.36L457.7 501.1L457.77 502.84L457.8 505L457.76 507.52L457.67 510.06L457.55 512.59L457.43 515.11L457.34 517.59L457.3 520L457.32 522.41L457.36 524.86L457.44 527.26L457.54 529.54L457.66 531.65L457.8 533.5L457.94 535.05L458.07 536.35L458.22 537.47L458.42 538.47L458.71 539.42L459.1 540.4L459.6 541.4L460.18 542.36L460.84 543.27L461.59 544.12L462.4 544.9L463.3 545.6L464.3 546.19L465.43 546.69L466.62 547.12L467.86 547.5L469.1 547.85L470.3 548.2L471.53 548.55L472.84 548.87L474.14 549.17L475.37 549.44L476.45 549.68L477.3 549.9L477.89 550.08L478.26 550.23L478.49 550.36L478.61 550.46L478.7 550.54L478.8 550.6L434.8 550.6L434.9 550.54L434.99 550.46L435.11 550.36L435.34 550.23L435.71 550.08L436.3 549.9L437.15 549.68L438.23 549.44L439.46 549.17L440.76 548.87L442.07 548.55L443.3 548.2L444.5 547.85L445.74 547.5L446.98 547.12L448.17 546.69L449.3 546.19L450.3 545.6L451.2 544.9L452.01 544.12L452.76 543.27L453.42 542.36L454 541.4L454.5 540.4L454.89 539.42L455.18 538.47L455.38 537.47L455.53 536.35L455.66 535.05L455.8 533.5L455.94 531.65L456.06 529.54L456.16 527.26L456.24 524.86L456.28 522.41L456.3 520L456.26 517.59L456.17 515.11L456.05 512.59L455.93 510.06L455.84 507.52L455.8 505L455.83 502.84L455.9 501.1L456 499.36L456.11 497.21L456.22 494.22L456.3 490L456.37 483.74L456.43 475.61L456.48 466.66L456.5 457.92L456.5 450.42L456.5 445.2Z" stroke="#17538d" stroke-width="1.45" fill="none" stroke-linejoin="round"/>
<line x1="435.3" y1="550.6" x2="478.3" y2="550.6" stroke="#17538d" stroke-width="1.45"/>
<text x="98.5" y="589.9" font-size="9.5" text-anchor="middle" textLength="43.3" lengthAdjust="spacingAndGlyphs" class="tt">Etoposide</text>
<line x1="50.6" y1="598.9" x2="50.6" y2="688.2" stroke="#111111" stroke-width="1.3"/>
<line x1="47.3" y1="687.5" x2="50.6" y2="687.5" stroke="#111111" stroke-width="1.1"/>
<text x="44.9" y="690.5" font-size="8.2" text-anchor="end" textLength="4.2" lengthAdjust="spacingAndGlyphs">0</text>
<line x1="47.3" y1="669.9" x2="50.6" y2="669.9" stroke="#111111" stroke-width="1.1"/>
<text x="44.9" y="672.9" font-size="8.2" text-anchor="end" textLength="8.39" lengthAdjust="spacingAndGlyphs">10</text>
<line x1="47.3" y1="652.3" x2="50.6" y2="652.3" stroke="#111111" stroke-width="1.1"/>
<text x="44.9" y="655.3" font-size="8.2" text-anchor="end" textLength="8.39" lengthAdjust="spacingAndGlyphs">20</text>
<line x1="47.3" y1="634.7" x2="50.6" y2="634.7" stroke="#111111" stroke-width="1.1"/>
<text x="44.9" y="637.7" font-size="8.2" text-anchor="end" textLength="8.39" lengthAdjust="spacingAndGlyphs">30</text>
<line x1="47.3" y1="617.1" x2="50.6" y2="617.1" stroke="#111111" stroke-width="1.1"/>
<text x="44.9" y="620.1" font-size="8.2" text-anchor="end" textLength="8.39" lengthAdjust="spacingAndGlyphs">40</text>
<line x1="47.3" y1="599.5" x2="50.6" y2="599.5" stroke="#111111" stroke-width="1.1"/>
<text x="44.9" y="602.5" font-size="8.2" text-anchor="end" textLength="8.39" lengthAdjust="spacingAndGlyphs">50</text>
<line x1="62.5" y1="684.6" x2="62.5" y2="686.4" stroke="#c8143c" stroke-width="1.3"/>
<line x1="59.5" y1="684.6" x2="65.5" y2="684.6" stroke="#c8143c" stroke-width="1.3"/>
<rect x="57" y="686.4" width="11" height="1.1" stroke="#c8143c" stroke-width="1.3" fill="#fff"/>
<line x1="79.65" y1="685.2" x2="79.65" y2="686.6" stroke="#17538d" stroke-width="1.3"/>
<line x1="76.65" y1="685.2" x2="82.65" y2="685.2" stroke="#17538d" stroke-width="1.3"/>
<rect x="73.8" y="686.6" width="11.7" height="0.9" stroke="#17538d" stroke-width="1.3" fill="#7d9dbd"/>
<line x1="109.05" y1="609.3" x2="109.05" y2="631.3" stroke="#c8143c" stroke-width="1.3"/>
<line x1="106.05" y1="609.3" x2="112.05" y2="609.3" stroke="#c8143c" stroke-width="1.3"/>
<rect x="103.8" y="631.3" width="10.5" height="56.2" stroke="#c8143c" stroke-width="1.3" fill="#fff"/>
<line x1="126.15" y1="651.3" x2="126.15" y2="666.3" stroke="#17538d" stroke-width="1.3"/>
<line x1="123.15" y1="651.3" x2="129.15" y2="651.3" stroke="#17538d" stroke-width="1.3"/>
<rect x="120.5" y="666.3" width="11.3" height="21.2" stroke="#17538d" stroke-width="1.3" fill="#7d9dbd"/>
<line x1="50.6" y1="687.7" x2="138.2" y2="687.7" stroke="#111111" stroke-width="1.5"/>
<line x1="71.3" y1="687.7" x2="71.3" y2="690.5" stroke="#111111" stroke-width="1.1"/>
<text x="71.3" y="700.3" font-size="8.2" text-anchor="middle">0 µM</text>
<line x1="118" y1="687.7" x2="118" y2="690.5" stroke="#111111" stroke-width="1.1"/>
<text x="118" y="700.3" font-size="8.2" text-anchor="middle">100 µM</text>
<line x1="106.3" y1="606.3" x2="138" y2="606.3" stroke="#111111" stroke-width="1.1"/>
<text x="107.8" y="602.8" font-size="7.6" font-style="italic" textLength="29.4" lengthAdjust="spacing">p=0.004</text>
<text x="30.25" y="643.1" font-size="9.59" text-anchor="middle" textLength="65" lengthAdjust="spacingAndGlyphs" transform="rotate(-90 30.25 643.1)" class="yl">Fold change γH2AX</text>
<text x="274.4" y="589.9" font-size="9.5" text-anchor="middle" textLength="56.4" lengthAdjust="spacingAndGlyphs" class="tt">Daunorubicin</text>
<line x1="217" y1="595.85" x2="217" y2="688.2" stroke="#111111" stroke-width="1.3"/>
<line x1="213.7" y1="687.5" x2="217" y2="687.5" stroke="#111111" stroke-width="1.1"/>
<text x="209.9" y="690.5" font-size="8.2" text-anchor="end" textLength="4.2" lengthAdjust="spacingAndGlyphs">0</text>
<line x1="213.7" y1="657.15" x2="217" y2="657.15" stroke="#111111" stroke-width="1.1"/>
<text x="209.9" y="660.15" font-size="8.2" text-anchor="end" textLength="4.2" lengthAdjust="spacingAndGlyphs">5</text>
<line x1="213.7" y1="626.8" x2="217" y2="626.8" stroke="#111111" stroke-width="1.1"/>
<text x="209.9" y="629.8" font-size="8.2" text-anchor="end" textLength="8.39" lengthAdjust="spacingAndGlyphs">10</text>
<line x1="213.7" y1="596.45" x2="217" y2="596.45" stroke="#111111" stroke-width="1.1"/>
<text x="209.9" y="599.45" font-size="8.2" text-anchor="end" textLength="8.39" lengthAdjust="spacingAndGlyphs">15</text>
<line x1="228.8" y1="680.5" x2="228.8" y2="682" stroke="#c8143c" stroke-width="1.3"/>
<line x1="225.8" y1="680.5" x2="231.8" y2="680.5" stroke="#c8143c" stroke-width="1.3"/>
<rect x="223.3" y="682" width="11" height="5.5" stroke="#c8143c" stroke-width="1.3" fill="#fff"/>
<line x1="246.3" y1="680.5" x2="246.3" y2="682" stroke="#17538d" stroke-width="1.3"/>
<line x1="243.3" y1="680.5" x2="249.3" y2="680.5" stroke="#17538d" stroke-width="1.3"/>
<rect x="240.8" y="682" width="11" height="5.5" stroke="#17538d" stroke-width="1.3" fill="#7d9dbd"/>
<line x1="276.3" y1="611.8" x2="276.3" y2="632.5" stroke="#c8143c" stroke-width="1.3"/>
<line x1="273.3" y1="611.8" x2="279.3" y2="611.8" stroke="#c8143c" stroke-width="1.3"/>
<rect x="270.8" y="632.5" width="11" height="55" stroke="#c8143c" stroke-width="1.3" fill="#fff"/>
<line x1="293.9" y1="660.8" x2="293.9" y2="664.3" stroke="#17538d" stroke-width="1.3"/>
<line x1="290.9" y1="660.8" x2="296.9" y2="660.8" stroke="#17538d" stroke-width="1.3"/>
<rect x="288.3" y="664.3" width="11.2" height="23.2" stroke="#17538d" stroke-width="1.3" fill="#7d9dbd"/>
<line x1="217" y1="687.7" x2="306.3" y2="687.7" stroke="#111111" stroke-width="1.5"/>
<line x1="237.5" y1="687.7" x2="237.5" y2="690.5" stroke="#111111" stroke-width="1.1"/>
<text x="237.5" y="700.3" font-size="8.2" text-anchor="middle">0 µM</text>
<line x1="284.5" y1="687.7" x2="284.5" y2="690.5" stroke="#111111" stroke-width="1.1"/>
<text x="284.5" y="700.3" font-size="8.2" text-anchor="middle">2.5 µM</text>
<line x1="272.5" y1="606.3" x2="306.8" y2="606.3" stroke="#111111" stroke-width="1.1"/>
<text x="274.1" y="602.8" font-size="7.6" font-style="italic" textLength="33.6" lengthAdjust="spacing">p&lt;0.0001</text>
<text x="195.35" y="643.1" font-size="9.59" text-anchor="middle" textLength="65" lengthAdjust="spacingAndGlyphs" transform="rotate(-90 195.35 643.1)" class="yl">Fold change γH2AX</text>
<text x="434" y="589.9" font-size="9.5" text-anchor="middle" textLength="37" lengthAdjust="spacingAndGlyphs" class="tt">Cisplatin</text>
<line x1="379.9" y1="595.85" x2="379.9" y2="688.2" stroke="#111111" stroke-width="1.3"/>
<line x1="376.6" y1="687.5" x2="379.9" y2="687.5" stroke="#111111" stroke-width="1.1"/>
<text x="373" y="690.5" font-size="8.2" text-anchor="end" textLength="4.2" lengthAdjust="spacingAndGlyphs">0</text>
<line x1="376.6" y1="657.15" x2="379.9" y2="657.15" stroke="#111111" stroke-width="1.1"/>
<text x="373" y="660.15" font-size="8.2" text-anchor="end" textLength="4.2" lengthAdjust="spacingAndGlyphs">5</text>
<line x1="376.6" y1="626.8" x2="379.9" y2="626.8" stroke="#111111" stroke-width="1.1"/>
<text x="373" y="629.8" font-size="8.2" text-anchor="end" textLength="8.39" lengthAdjust="spacingAndGlyphs">10</text>
<line x1="376.6" y1="596.45" x2="379.9" y2="596.45" stroke="#111111" stroke-width="1.1"/>
<text x="373" y="599.45" font-size="8.2" text-anchor="end" textLength="8.39" lengthAdjust="spacingAndGlyphs">15</text>
<line x1="391.9" y1="680.5" x2="391.9" y2="682" stroke="#c8143c" stroke-width="1.3"/>
<line x1="388.9" y1="680.5" x2="394.9" y2="680.5" stroke="#c8143c" stroke-width="1.3"/>
<rect x="386.3" y="682" width="11.2" height="5.5" stroke="#c8143c" stroke-width="1.3" fill="#fff"/>
<line x1="408.75" y1="680.5" x2="408.75" y2="682" stroke="#17538d" stroke-width="1.3"/>
<line x1="405.75" y1="680.5" x2="411.75" y2="680.5" stroke="#17538d" stroke-width="1.3"/>
<rect x="403" y="682" width="11.5" height="5.5" stroke="#17538d" stroke-width="1.3" fill="#7d9dbd"/>
<line x1="438.15" y1="613" x2="438.15" y2="638.3" stroke="#c8143c" stroke-width="1.3"/>
<line x1="435.15" y1="613" x2="441.15" y2="613" stroke="#c8143c" stroke-width="1.3"/>
<rect x="432.5" y="638.3" width="11.3" height="49.2" stroke="#c8143c" stroke-width="1.3" fill="#fff"/>
<line x1="455.65" y1="628" x2="455.65" y2="645" stroke="#17538d" stroke-width="1.3"/>
<line x1="452.65" y1="628" x2="458.65" y2="628" stroke="#17538d" stroke-width="1.3"/>
<rect x="450" y="645" width="11.3" height="42.5" stroke="#17538d" stroke-width="1.3" fill="#7d9dbd"/>
<line x1="379.9" y1="687.7" x2="467.5" y2="687.7" stroke="#111111" stroke-width="1.5"/>
<line x1="400.5" y1="687.7" x2="400.5" y2="690.5" stroke="#111111" stroke-width="1.1"/>
<text x="400.5" y="700.3" font-size="8.2" text-anchor="middle">0 µM</text>
<line x1="446.3" y1="687.7" x2="446.3" y2="690.5" stroke="#111111" stroke-width="1.1"/>
<text x="446.3" y="700.3" font-size="8.2" text-anchor="middle">40 µM</text>
<text x="358.25" y="643.1" font-size="9.59" text-anchor="middle" textLength="65" lengthAdjust="spacingAndGlyphs" transform="rotate(-90 358.25 643.1)" class="yl">Fold change γH2AX</text>
<path d="M0 0H520V710H0ZM1.1 1.2V708.2H518.3V1.2Z" fill="#000" fill-rule="evenodd"/>
</svg>
</body></html>
